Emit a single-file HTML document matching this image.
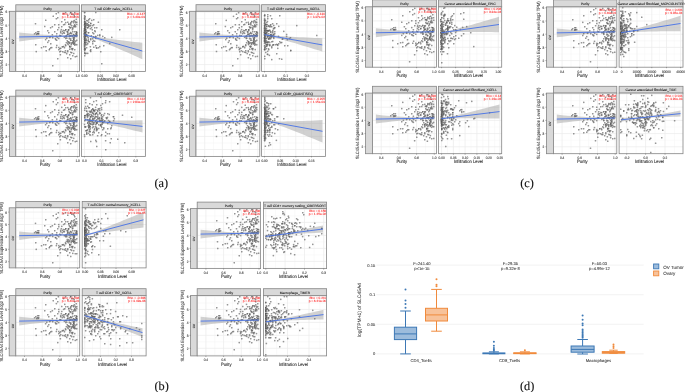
<!DOCTYPE html>
<html><head><meta charset="utf-8"><style>
html,body{margin:0;padding:0;background:#fff;overflow:hidden}
svg{display:block;filter:blur(0.3px)}
text{font-family:"Liberation Sans", sans-serif;text-rendering:geometricPrecision}
</style></head><body>
<svg width="685" height="392" viewBox="0 0 685 392">
<defs><marker id="m" markerWidth="4" markerHeight="4" refX="2" refY="2" markerUnits="userSpaceOnUse" overflow="visible"><rect x="1.5" y="1.5" width="1.0" height="1.0" fill="#fff" fill-opacity="0.5" stroke="#4a4a4a" stroke-opacity="0.75" stroke-width="0.4"/></marker></defs>
<rect width="685" height="392" fill="#fff"/>
<rect x="9.4" y="11.3" width="6.4" height="60.1" fill="#d9d9d9" stroke="#858585" stroke-width="0.8"/>
<text x="13.7" y="41.75" font-size="3.1" text-anchor="middle" fill="#333" transform="rotate(-90 13.7 41.75)" stroke="#333" stroke-width="0.12">OV</text>
<line x1="8.4" y1="64.7" x2="9.4" y2="64.7" stroke="#555" stroke-width="0.5"/>
<text x="7.3" y="66.2" font-size="3.6" text-anchor="end" fill="#333" stroke="#333" stroke-width="0.1" textLength="1.78" lengthAdjust="spacingAndGlyphs">2</text>
<line x1="8.4" y1="51.5" x2="9.4" y2="51.5" stroke="#555" stroke-width="0.5"/>
<text x="7.3" y="53" font-size="3.6" text-anchor="end" fill="#333" stroke="#333" stroke-width="0.1" textLength="1.78" lengthAdjust="spacingAndGlyphs">3</text>
<line x1="8.4" y1="38.3" x2="9.4" y2="38.3" stroke="#555" stroke-width="0.5"/>
<text x="7.3" y="39.8" font-size="3.6" text-anchor="end" fill="#333" stroke="#333" stroke-width="0.1" textLength="1.78" lengthAdjust="spacingAndGlyphs">4</text>
<line x1="8.4" y1="25.1" x2="9.4" y2="25.1" stroke="#555" stroke-width="0.5"/>
<text x="7.3" y="26.6" font-size="3.6" text-anchor="end" fill="#333" stroke="#333" stroke-width="0.1" textLength="1.78" lengthAdjust="spacingAndGlyphs">5</text>
<line x1="8.4" y1="11.9" x2="9.4" y2="11.9" stroke="#555" stroke-width="0.5"/>
<text x="7.3" y="13.4" font-size="3.6" text-anchor="end" fill="#333" stroke="#333" stroke-width="0.1" textLength="1.78" lengthAdjust="spacingAndGlyphs">6</text>
<text x="2.6" y="41.35" font-size="4.6" text-anchor="middle" fill="#333" transform="rotate(-90 2.6 41.35)" stroke="#333" stroke-width="0.06" textLength="71.60" lengthAdjust="spacingAndGlyphs">SLC45A4 Expression Level (log2 TPM)</text>
<rect x="15.8" y="4.8" width="63.8" height="6.5" fill="#d9d9d9" stroke="#858585" stroke-width="0.8"/>
<text x="47.7" y="9.65" font-size="3.3" text-anchor="middle" fill="#222" stroke="#222" stroke-width="0.08">Purity</text>
<rect x="15.8" y="11.3" width="63.8" height="60.1" fill="#fff"/>
<line x1="33.35" y1="11.3" x2="33.35" y2="71.4" stroke="#f4f4f4" stroke-width="0.5"/>
<line x1="51.05" y1="11.3" x2="51.05" y2="71.4" stroke="#f4f4f4" stroke-width="0.5"/>
<line x1="68.75" y1="11.3" x2="68.75" y2="71.4" stroke="#f4f4f4" stroke-width="0.5"/>
<line x1="15.8" y1="71.3" x2="79.6" y2="71.3" stroke="#f4f4f4" stroke-width="0.5"/>
<line x1="15.8" y1="58.1" x2="79.6" y2="58.1" stroke="#f4f4f4" stroke-width="0.5"/>
<line x1="15.8" y1="44.9" x2="79.6" y2="44.9" stroke="#f4f4f4" stroke-width="0.5"/>
<line x1="15.8" y1="31.7" x2="79.6" y2="31.7" stroke="#f4f4f4" stroke-width="0.5"/>
<line x1="15.8" y1="18.5" x2="79.6" y2="18.5" stroke="#f4f4f4" stroke-width="0.5"/>
<line x1="24.5" y1="11.3" x2="24.5" y2="71.4" stroke="#ebebeb" stroke-width="0.7"/>
<line x1="42.2" y1="11.3" x2="42.2" y2="71.4" stroke="#ebebeb" stroke-width="0.7"/>
<line x1="59.9" y1="11.3" x2="59.9" y2="71.4" stroke="#ebebeb" stroke-width="0.7"/>
<line x1="77.6" y1="11.3" x2="77.6" y2="71.4" stroke="#ebebeb" stroke-width="0.7"/>
<line x1="15.8" y1="64.7" x2="79.6" y2="64.7" stroke="#ebebeb" stroke-width="0.7"/>
<line x1="15.8" y1="51.5" x2="79.6" y2="51.5" stroke="#ebebeb" stroke-width="0.7"/>
<line x1="15.8" y1="38.3" x2="79.6" y2="38.3" stroke="#ebebeb" stroke-width="0.7"/>
<line x1="15.8" y1="25.1" x2="79.6" y2="25.1" stroke="#ebebeb" stroke-width="0.7"/>
<line x1="15.8" y1="11.9" x2="79.6" y2="11.9" stroke="#ebebeb" stroke-width="0.7"/>
<polygon points="19.19,32.49 24.5,33.03 29.81,33.53 35.12,33.98 40.43,34.38 45.74,34.74 51.05,35.03 56.36,35.25 61.67,35.37 66.98,35.28 72.29,34.96 77.6,34.55 77.6,37.32 72.29,37.1 66.98,36.97 61.67,37.06 56.36,37.38 51.05,37.79 45.74,38.27 40.43,38.82 35.12,39.41 29.81,40.05 24.5,40.74 19.19,41.47" fill="#999999" fill-opacity="0.45"/>
<path d="M71.5 49.0L76.8 22.3L76.3 19.4L69.4 39.0L70.2 46.4L69.3 36.8L73.7 44.3L71.2 40.3L74.4 20.5L64.0 32.8L77.2 35.4L71.0 33.3L74.1 37.6L70.9 28.1L69.9 27.7L73.2 40.9L74.7 35.9L70.6 12.6L70.8 32.5L74.1 38.9L67.9 15.3L65.4 36.9L73.0 48.6L68.7 29.9L63.8 46.5L68.2 42.2L69.5 33.5L66.7 38.3L65.5 45.0L71.6 42.8L75.0 43.2L70.5 24.7L68.4 44.6L72.9 43.0L74.3 15.5L70.2 42.8L73.6 21.3L75.6 23.1L70.6 38.6L68.2 52.0L72.8 32.2L72.4 29.9L75.8 26.8L66.3 36.2L68.8 24.3L68.1 22.3L64.5 48.1L71.9 21.9L73.5 35.1L68.5 43.0L76.9 40.3L74.7 17.2L73.9 26.6L73.0 55.9L75.2 36.1L66.1 38.5L73.8 38.8L73.8 42.4L64.4 52.4L72.8 27.9L70.4 46.9L74.5 40.9L69.7 43.3L71.3 44.7L72.8 29.1L67.9 32.9L73.8 44.1L71.0 47.0L73.4 41.9L69.3 26.8L75.7 35.7L73.8 34.5L70.7 40.4L73.9 39.7L76.4 34.7L77.2 56.4L65.1 20.0L74.9 45.3L73.3 43.0L71.0 22.8L67.4 34.6L76.4 36.5L66.4 43.1L73.7 53.5L76.6 35.0L65.0 24.4L70.2 46.5L66.2 22.6L72.4 48.9L77.1 44.7L62.6 31.6L66.6 37.0L66.0 29.7L36.1 44.8L41.5 47.9L75.3 56.7L75.1 49.7L60.7 48.3L60.0 52.0L75.7 33.7L50.8 44.0L68.2 58.0L71.1 12.6L65.9 45.8L49.3 50.2L35.5 23.9L74.9 24.7L59.7 49.1L65.6 52.5L56.4 47.5L63.6 25.1L56.7 40.3L56.9 45.5L64.4 37.3L68.9 24.3L62.9 51.7L67.3 41.0L36.3 51.6L63.5 14.0L57.8 17.8L74.7 26.9L73.4 38.4L58.0 30.0L70.7 59.2L37.3 34.1L65.5 51.1L68.1 51.0L76.0 44.4L49.1 40.7L47.7 30.9L61.4 29.6L77.2 34.2L62.5 47.0L66.1 29.8L46.7 38.3L77.1 24.5L62.5 46.7L52.9 66.2L73.6 42.0L71.7 14.3L67.4 32.0L55.4 39.0L59.1 27.6L75.0 31.7L76.4 32.1L48.2 42.4L71.2 36.2L52.4 34.9L68.2 43.8L50.1 48.8L60.0 35.5L52.4 26.8L68.4 30.1L55.1 31.8L67.3 31.7L58.4 12.6L38.0 34.2L75.3 26.0L53.3 16.3L56.3 36.4L38.4 34.2L72.2 26.0L56.4 19.2L39.2 33.7L60.8 33.1L61.1 36.0L59.1 49.7L59.1 25.2L45.6 39.6L69.8 55.1L59.2 38.5L60.4 55.2L52.1 47.6L72.4 36.8L46.0 46.7L74.3 25.6L71.2 52.4L71.6 34.1L68.4 31.0L71.6 21.5L61.8 27.2L68.5 34.4L72.5 36.0L57.4 37.5L55.2 24.9L74.3 43.8L60.9 31.4L53.1 37.9L68.1 34.3L55.8 39.6L73.3 14.3L71.7 43.8L56.7 34.2L62.3 34.0L63.4 30.4L37.6 32.1L76.6 32.4L45.2 26.5L72.1 52.7L50.4 36.8L72.4 49.9L37.2 34.4L70.0 49.3L43.9 47.0L49.9 37.5L61.8 22.1L64.7 30.7L34.6 33.7L75.4 22.0L70.2 46.8L57.9 58.9L75.9 41.3L74.1 39.8L70.6 23.8L56.3 14.2L46.3 50.9L75.2 12.6L46.1 20.3L50.6 28.0L35.7 32.9L65.6 12.6L71.0 36.0L69.0 41.8L70.0 35.4L61.2 51.3L38.7 31.8L74.4 38.0L64.4 33.3L77.2 33.0L51.2 48.0L73.6 22.9L59.0 47.5L70.7 27.5L67.1 53.7L49.2 32.9" fill="none" stroke="none" marker-start="url(#m)" marker-mid="url(#m)" marker-end="url(#m)"/>
<line x1="19.19" y1="36.98" x2="77.6" y2="35.92" stroke="#4570e6" stroke-width="0.9"/>
<text x="79.1" y="14.9" font-size="3.1" text-anchor="end" fill="#ff2020" stroke="#ff2020" stroke-width="0.06">Rho = 0.038</text>
<text x="79.1" y="17.9" font-size="3.1" text-anchor="end" fill="#ff2020" stroke="#ff2020" stroke-width="0.06">p = 4.40e-01</text>
<rect x="15.8" y="11.3" width="63.8" height="60.1" fill="none" stroke="#858585" stroke-width="0.8"/>
<line x1="24.5" y1="71.4" x2="24.5" y2="72.4" stroke="#555" stroke-width="0.5"/>
<text x="24.5" y="76.7" font-size="3.6" text-anchor="middle" fill="#333" stroke="#333" stroke-width="0.1" textLength="4.38" lengthAdjust="spacingAndGlyphs">0.4</text>
<line x1="42.2" y1="71.4" x2="42.2" y2="72.4" stroke="#555" stroke-width="0.5"/>
<text x="42.2" y="76.7" font-size="3.6" text-anchor="middle" fill="#333" stroke="#333" stroke-width="0.1" textLength="4.38" lengthAdjust="spacingAndGlyphs">0.6</text>
<line x1="59.9" y1="71.4" x2="59.9" y2="72.4" stroke="#555" stroke-width="0.5"/>
<text x="59.9" y="76.7" font-size="3.6" text-anchor="middle" fill="#333" stroke="#333" stroke-width="0.1" textLength="4.38" lengthAdjust="spacingAndGlyphs">0.8</text>
<line x1="77.6" y1="71.4" x2="77.6" y2="72.4" stroke="#555" stroke-width="0.5"/>
<text x="77.6" y="76.7" font-size="3.6" text-anchor="middle" fill="#333" stroke="#333" stroke-width="0.1" textLength="4.38" lengthAdjust="spacingAndGlyphs">1.0</text>
<text x="45" y="81.1" font-size="4.6" text-anchor="middle" fill="#222" stroke="#222" stroke-width="0.08" textLength="10.61" lengthAdjust="spacingAndGlyphs">Purity</text>
<rect x="81.5" y="4.8" width="63.9" height="6.5" fill="#d9d9d9" stroke="#858585" stroke-width="0.8"/>
<svg x="82" y="4.8" width="62.9" height="6.5" overflow="hidden">
<text x="31.45" y="4.85" font-size="3.3" text-anchor="middle" fill="#222" stroke="#222" stroke-width="0.08">T cell CD8+ naive_XCELL</text>
</svg>
<rect x="81.5" y="11.3" width="63.9" height="60.1" fill="#fff"/>
<line x1="92.35" y1="11.3" x2="92.35" y2="71.4" stroke="#f4f4f4" stroke-width="0.5"/>
<line x1="108.05" y1="11.3" x2="108.05" y2="71.4" stroke="#f4f4f4" stroke-width="0.5"/>
<line x1="123.85" y1="11.3" x2="123.85" y2="71.4" stroke="#f4f4f4" stroke-width="0.5"/>
<line x1="139.45" y1="11.3" x2="139.45" y2="71.4" stroke="#f4f4f4" stroke-width="0.5"/>
<line x1="81.5" y1="71.3" x2="145.4" y2="71.3" stroke="#f4f4f4" stroke-width="0.5"/>
<line x1="81.5" y1="58.1" x2="145.4" y2="58.1" stroke="#f4f4f4" stroke-width="0.5"/>
<line x1="81.5" y1="44.9" x2="145.4" y2="44.9" stroke="#f4f4f4" stroke-width="0.5"/>
<line x1="81.5" y1="31.7" x2="145.4" y2="31.7" stroke="#f4f4f4" stroke-width="0.5"/>
<line x1="81.5" y1="18.5" x2="145.4" y2="18.5" stroke="#f4f4f4" stroke-width="0.5"/>
<line x1="84.5" y1="11.3" x2="84.5" y2="71.4" stroke="#ebebeb" stroke-width="0.7"/>
<line x1="100.2" y1="11.3" x2="100.2" y2="71.4" stroke="#ebebeb" stroke-width="0.7"/>
<line x1="116" y1="11.3" x2="116" y2="71.4" stroke="#ebebeb" stroke-width="0.7"/>
<line x1="131.6" y1="11.3" x2="131.6" y2="71.4" stroke="#ebebeb" stroke-width="0.7"/>
<line x1="81.5" y1="64.7" x2="145.4" y2="64.7" stroke="#ebebeb" stroke-width="0.7"/>
<line x1="81.5" y1="51.5" x2="145.4" y2="51.5" stroke="#ebebeb" stroke-width="0.7"/>
<line x1="81.5" y1="38.3" x2="145.4" y2="38.3" stroke="#ebebeb" stroke-width="0.7"/>
<line x1="81.5" y1="25.1" x2="145.4" y2="25.1" stroke="#ebebeb" stroke-width="0.7"/>
<line x1="81.5" y1="11.9" x2="145.4" y2="11.9" stroke="#ebebeb" stroke-width="0.7"/>
<polygon points="84.5,33.2 88.35,34.85 92.21,36.01 96.06,36.69 99.91,37.3 103.77,37.88 107.62,38.44 111.47,38.97 115.33,39.49 119.18,39.99 123.03,40.49 126.89,40.97 130.74,41.44 134.59,41.9 138.45,42.35 142.3,42.8 142.3,59.2 138.45,57.47 134.59,55.75 130.74,54.04 126.89,52.34 123.03,50.65 119.18,48.97 115.33,47.3 111.47,45.64 107.62,44 103.77,42.38 99.91,40.79 96.06,39.23 92.21,37.73 88.35,36.72 84.5,36.2" fill="#999999" fill-opacity="0.45"/>
<path d="M84.5 12.5L84.6 29.7L84.6 47.4L84.9 35.3L84.7 23.6L85.0 25.9L84.5 45.5L85.2 36.4L84.7 35.2L84.8 34.3L84.7 35.1L84.7 42.4L84.6 40.0L85.0 36.9L84.5 24.8L84.8 39.7L85.2 28.4L84.7 45.2L85.5 22.9L85.1 33.6L85.4 34.9L84.6 22.1L85.1 51.2L84.6 48.6L84.6 30.3L84.6 42.1L85.8 38.7L84.8 12.5L84.5 37.1L84.6 34.1L85.3 35.7L84.7 24.5L85.0 32.3L84.9 33.1L85.0 46.1L84.9 38.0L84.5 34.7L84.9 49.4L84.8 29.5L84.6 31.0L84.6 17.4L84.5 49.6L85.1 44.0L84.5 43.4L85.2 41.2L85.3 36.0L84.9 36.9L84.6 32.3L84.8 32.9L85.5 35.5L84.9 49.2L85.1 40.2L84.5 34.2L84.8 29.3L84.6 28.7L84.8 50.0L84.5 39.5L84.8 35.4L85.2 31.6L84.8 24.3L84.6 34.1L84.7 43.1L84.6 31.0L85.1 32.7L84.8 32.7L84.6 35.8L84.9 19.7L85.1 32.6L85.2 26.8L84.9 43.2L84.8 27.5L85.5 40.5L84.7 49.3L84.5 31.7L85.1 29.2L84.8 36.6L84.7 34.7L84.7 25.3L84.6 39.1L85.3 54.1L84.7 32.3L84.7 32.8L84.7 24.8L84.6 37.7L84.6 22.9L85.1 24.3L84.5 46.9L84.7 26.2L85.1 45.1L84.8 49.3L84.5 37.2L84.8 40.1L84.7 53.3L85.0 33.0L84.5 29.1L84.8 21.9L85.1 35.3L84.7 48.8L85.3 44.1L85.5 26.0L84.7 26.6L84.9 30.0L84.6 37.5L85.6 33.1L84.9 36.9L84.8 37.6L84.6 31.9L84.7 34.4L84.6 36.7L84.6 33.9L84.9 39.6L84.8 52.6L85.0 40.5L84.5 35.2L84.5 18.7L85.0 38.5L84.6 16.2L84.9 21.4L85.0 43.0L84.6 41.4L84.5 33.3L84.8 18.5L84.6 31.2L85.5 28.5L85.1 40.9L84.7 56.2L85.6 37.1L84.9 27.4L85.4 23.8L84.9 34.3L84.9 33.1L84.9 23.9L84.6 35.8L85.3 24.0L85.1 45.4L85.2 45.0L84.5 45.0L93.2 32.7L93.0 42.0L96.1 36.7L86.2 31.5L88.7 32.7L94.1 25.1L89.2 22.3L100.0 46.6L85.3 33.1L88.3 37.8L86.9 44.9L92.0 20.4L87.9 28.2L109.8 43.5L90.8 40.2L103.2 36.4L96.4 47.8L92.6 39.0L93.0 25.6L88.7 27.0L86.8 43.0L86.3 39.6L85.3 16.9L100.7 52.1L88.9 41.6L86.6 48.1L93.8 33.7L88.3 33.0L90.9 25.8L101.7 63.7L86.1 33.5L90.7 51.5L85.2 28.7L87.4 37.1L88.9 20.1L86.4 31.6L84.6 44.1L86.9 23.5L96.7 48.3L93.5 40.5L88.4 25.9L86.0 30.3L99.9 34.7L94.0 36.9L112.0 37.4L87.8 27.8L99.7 36.1L84.9 25.0L84.8 22.5L84.7 34.3L84.9 43.2L87.6 21.0L84.9 34.9L95.3 31.6L84.7 25.5L88.0 43.8L86.0 30.2L90.4 50.6L84.7 27.3L88.4 39.5L104.7 38.2L92.3 29.7L87.1 41.0L95.7 36.4L89.4 41.8L85.7 34.6L96.7 27.8L85.0 33.9L95.8 38.4L98.5 47.8L91.5 28.0L87.0 35.0L98.4 22.3L85.3 41.1L87.6 25.3L94.1 20.2L91.4 36.1L90.4 46.9L120.0 30.2L89.9 25.9L86.2 28.1L89.0 25.2L95.0 41.3L85.6 27.3L95.0 30.8L104.2 45.8L90.4 29.2L85.1 39.0L86.5 26.0L87.5 24.0L89.6 18.7L88.1 53.4L97.8 35.4L91.2 38.9L86.3 34.9L84.7 36.3L86.4 35.7L86.4 53.4L94.9 27.8L87.2 20.6L101.7 29.9L91.0 23.9L92.7 44.1L95.8 45.7L84.6 25.6L91.1 23.3L85.5 31.6L90.8 49.7L95.8 12.5L88.3 40.8L86.8 25.1L94.2 47.3L88.5 25.6" fill="none" stroke="none" marker-start="url(#m)" marker-mid="url(#m)" marker-end="url(#m)"/>
<line x1="84.5" y1="34.7" x2="142.3" y2="51" stroke="#4570e6" stroke-width="0.9"/>
<text x="144.9" y="14.9" font-size="3.1" text-anchor="end" fill="#ff2020" stroke="#ff2020" stroke-width="0.06">Rho = -0.147</text>
<text x="144.9" y="17.9" font-size="3.1" text-anchor="end" fill="#ff2020" stroke="#ff2020" stroke-width="0.06">p = 6.40e-03</text>
<rect x="81.5" y="11.3" width="63.9" height="60.1" fill="none" stroke="#858585" stroke-width="0.8"/>
<line x1="84.5" y1="71.4" x2="84.5" y2="72.4" stroke="#555" stroke-width="0.5"/>
<text x="84.5" y="76.7" font-size="3.6" text-anchor="middle" fill="#333" stroke="#333" stroke-width="0.1" textLength="6.13" lengthAdjust="spacingAndGlyphs">0.00</text>
<line x1="100.2" y1="71.4" x2="100.2" y2="72.4" stroke="#555" stroke-width="0.5"/>
<text x="100.2" y="76.7" font-size="3.6" text-anchor="middle" fill="#333" stroke="#333" stroke-width="0.1" textLength="6.13" lengthAdjust="spacingAndGlyphs">0.01</text>
<line x1="116" y1="71.4" x2="116" y2="72.4" stroke="#555" stroke-width="0.5"/>
<text x="116" y="76.7" font-size="3.6" text-anchor="middle" fill="#333" stroke="#333" stroke-width="0.1" textLength="6.13" lengthAdjust="spacingAndGlyphs">0.02</text>
<line x1="131.6" y1="71.4" x2="131.6" y2="72.4" stroke="#555" stroke-width="0.5"/>
<text x="131.6" y="76.7" font-size="3.6" text-anchor="middle" fill="#333" stroke="#333" stroke-width="0.1" textLength="6.13" lengthAdjust="spacingAndGlyphs">0.03</text>
<text x="111.85" y="81" font-size="4.6" text-anchor="middle" fill="#222" stroke="#222" stroke-width="0.08" textLength="29.07" lengthAdjust="spacingAndGlyphs">Infiltration Level</text>
<rect x="189.6" y="11.3" width="6.4" height="60.1" fill="#d9d9d9" stroke="#858585" stroke-width="0.8"/>
<text x="193.9" y="41.75" font-size="3.1" text-anchor="middle" fill="#333" transform="rotate(-90 193.9 41.75)" stroke="#333" stroke-width="0.12">OV</text>
<line x1="188.6" y1="64.6" x2="189.6" y2="64.6" stroke="#555" stroke-width="0.5"/>
<text x="187.5" y="66.1" font-size="3.6" text-anchor="end" fill="#333" stroke="#333" stroke-width="0.1" textLength="1.78" lengthAdjust="spacingAndGlyphs">2</text>
<line x1="188.6" y1="51.45" x2="189.6" y2="51.45" stroke="#555" stroke-width="0.5"/>
<text x="187.5" y="52.95" font-size="3.6" text-anchor="end" fill="#333" stroke="#333" stroke-width="0.1" textLength="1.78" lengthAdjust="spacingAndGlyphs">3</text>
<line x1="188.6" y1="38.3" x2="189.6" y2="38.3" stroke="#555" stroke-width="0.5"/>
<text x="187.5" y="39.8" font-size="3.6" text-anchor="end" fill="#333" stroke="#333" stroke-width="0.1" textLength="1.78" lengthAdjust="spacingAndGlyphs">4</text>
<line x1="188.6" y1="25.15" x2="189.6" y2="25.15" stroke="#555" stroke-width="0.5"/>
<text x="187.5" y="26.65" font-size="3.6" text-anchor="end" fill="#333" stroke="#333" stroke-width="0.1" textLength="1.78" lengthAdjust="spacingAndGlyphs">5</text>
<line x1="188.6" y1="12" x2="189.6" y2="12" stroke="#555" stroke-width="0.5"/>
<text x="187.5" y="13.5" font-size="3.6" text-anchor="end" fill="#333" stroke="#333" stroke-width="0.1" textLength="1.78" lengthAdjust="spacingAndGlyphs">6</text>
<text x="182.8" y="41.35" font-size="4.6" text-anchor="middle" fill="#333" transform="rotate(-90 182.8 41.35)" stroke="#333" stroke-width="0.06" textLength="71.60" lengthAdjust="spacingAndGlyphs">SLC45A4 Expression Level (log2 TPM)</text>
<rect x="196" y="4.7" width="63.8" height="6.6" fill="#d9d9d9" stroke="#858585" stroke-width="0.8"/>
<text x="227.9" y="9.6" font-size="3.3" text-anchor="middle" fill="#222" stroke="#222" stroke-width="0.08">Purity</text>
<rect x="196" y="11.3" width="63.8" height="60.1" fill="#fff"/>
<line x1="213.55" y1="11.3" x2="213.55" y2="71.4" stroke="#f4f4f4" stroke-width="0.5"/>
<line x1="231.25" y1="11.3" x2="231.25" y2="71.4" stroke="#f4f4f4" stroke-width="0.5"/>
<line x1="248.95" y1="11.3" x2="248.95" y2="71.4" stroke="#f4f4f4" stroke-width="0.5"/>
<line x1="196" y1="71.18" x2="259.8" y2="71.18" stroke="#f4f4f4" stroke-width="0.5"/>
<line x1="196" y1="58.02" x2="259.8" y2="58.02" stroke="#f4f4f4" stroke-width="0.5"/>
<line x1="196" y1="44.88" x2="259.8" y2="44.88" stroke="#f4f4f4" stroke-width="0.5"/>
<line x1="196" y1="31.73" x2="259.8" y2="31.73" stroke="#f4f4f4" stroke-width="0.5"/>
<line x1="196" y1="18.57" x2="259.8" y2="18.57" stroke="#f4f4f4" stroke-width="0.5"/>
<line x1="204.7" y1="11.3" x2="204.7" y2="71.4" stroke="#ebebeb" stroke-width="0.7"/>
<line x1="222.4" y1="11.3" x2="222.4" y2="71.4" stroke="#ebebeb" stroke-width="0.7"/>
<line x1="240.1" y1="11.3" x2="240.1" y2="71.4" stroke="#ebebeb" stroke-width="0.7"/>
<line x1="257.8" y1="11.3" x2="257.8" y2="71.4" stroke="#ebebeb" stroke-width="0.7"/>
<line x1="196" y1="64.6" x2="259.8" y2="64.6" stroke="#ebebeb" stroke-width="0.7"/>
<line x1="196" y1="51.45" x2="259.8" y2="51.45" stroke="#ebebeb" stroke-width="0.7"/>
<line x1="196" y1="38.3" x2="259.8" y2="38.3" stroke="#ebebeb" stroke-width="0.7"/>
<line x1="196" y1="25.15" x2="259.8" y2="25.15" stroke="#ebebeb" stroke-width="0.7"/>
<line x1="196" y1="12" x2="259.8" y2="12" stroke="#ebebeb" stroke-width="0.7"/>
<polygon points="199.39,32.51 204.7,33.05 210.01,33.54 215.32,34 220.63,34.4 225.94,34.75 231.25,35.04 236.56,35.26 241.87,35.39 247.18,35.29 252.49,34.98 257.8,34.57 257.8,37.32 252.49,37.1 247.18,36.97 241.87,37.07 236.56,37.38 231.25,37.79 225.94,38.27 220.63,38.81 215.32,39.41 210.01,40.05 204.7,40.73 199.39,41.46" fill="#999999" fill-opacity="0.45"/>
<path d="M251.7 49.0L257.0 22.4L256.5 19.5L249.6 39.0L250.4 46.4L249.5 36.8L253.9 44.2L251.4 40.3L254.6 20.6L244.2 32.9L257.4 35.5L251.2 33.3L254.3 37.6L251.1 28.1L250.1 27.7L253.4 40.9L254.9 35.9L250.8 12.7L251.0 32.5L254.3 38.9L248.1 15.4L245.6 36.9L253.2 48.5L248.9 29.9L244.0 46.5L248.4 42.2L249.7 33.6L246.9 38.3L245.7 45.0L251.8 42.8L255.2 43.2L250.7 24.7L248.6 44.6L253.1 43.0L254.5 15.5L250.4 42.8L253.8 21.3L255.8 23.1L250.8 38.6L248.4 51.9L253.0 32.2L252.6 29.9L256.0 26.8L246.5 36.2L249.0 24.3L248.3 22.4L244.7 48.1L252.1 21.9L253.7 35.1L248.7 42.9L257.1 40.3L254.9 17.2L254.1 26.6L253.2 55.8L255.4 36.1L246.3 38.5L254.0 38.8L254.0 42.4L244.6 52.3L253.0 27.9L250.6 46.9L254.7 40.9L249.9 43.3L251.5 44.6L253.0 29.2L248.1 32.9L254.0 44.1L251.2 46.9L253.6 41.9L249.5 26.8L255.9 35.7L254.0 34.5L250.9 40.4L254.1 39.7L256.6 34.7L257.4 56.4L245.3 20.0L255.1 45.3L253.5 43.0L251.2 22.9L247.6 34.6L256.6 36.5L246.6 43.1L253.9 53.4L256.8 35.0L245.2 24.4L250.4 46.4L246.4 22.6L252.6 48.8L257.3 44.7L242.8 31.7L246.8 37.0L246.2 29.7L216.3 44.8L221.7 47.8L255.5 56.6L255.3 49.6L240.9 48.3L240.2 52.0L255.9 33.7L231.0 44.0L248.4 57.9L251.3 12.7L246.1 45.8L229.5 50.2L215.7 23.9L255.1 24.7L239.9 49.1L245.8 52.5L236.6 47.5L243.8 25.1L236.9 40.3L237.1 45.5L244.6 37.3L249.1 24.3L243.1 51.6L247.5 41.0L216.5 51.5L243.7 14.1L238.0 17.9L254.9 27.0L253.6 38.4L238.2 30.1L250.9 59.1L217.5 34.1L245.7 51.0L248.3 50.9L256.2 44.4L229.3 40.7L227.9 30.9L241.6 29.6L257.4 34.2L242.7 46.9L246.3 29.9L226.9 38.3L257.3 24.6L242.7 46.6L233.1 66.1L253.8 42.0L251.9 14.4L247.6 32.1L235.6 39.0L239.3 27.7L255.2 31.7L256.6 32.1L228.4 42.4L251.4 36.2L232.6 34.9L248.4 43.7L230.3 48.8L240.2 35.5L232.6 26.8L248.6 30.2L235.3 31.8L247.5 31.7L238.6 12.7L218.2 34.3L255.5 26.0L233.5 16.4L236.5 36.4L218.6 34.2L252.4 26.0L236.6 19.2L219.4 33.7L241.0 33.2L241.3 36.0L239.3 49.7L239.3 25.2L225.8 39.6L250.0 55.1L239.4 38.5L240.6 55.2L232.3 47.6L252.6 36.8L226.2 46.6L254.5 25.7L251.4 52.4L251.8 34.2L248.6 31.0L251.8 21.5L242.0 27.2L248.7 34.4L252.7 36.1L237.6 37.5L235.4 24.9L254.5 43.8L241.1 31.4L233.3 37.9L248.3 34.4L236.0 39.6L253.5 14.4L251.9 43.8L236.9 34.2L242.5 34.0L243.6 30.5L217.8 32.1L256.8 32.4L225.4 26.5L252.3 52.7L230.6 36.8L252.6 49.8L217.4 34.4L250.2 49.3L224.1 47.0L230.1 37.5L242.0 22.2L244.9 30.8L214.8 33.7L255.6 22.1L250.4 46.8L238.1 58.9L256.1 41.3L254.3 39.8L250.8 23.9L236.5 14.3L226.5 50.8L255.4 12.7L226.3 20.4L230.8 28.0L215.9 33.0L245.8 12.7L251.2 36.0L249.2 41.8L250.2 35.4L241.4 51.2L218.9 31.9L254.6 38.0L244.6 33.4L257.4 33.0L231.4 48.0L253.8 23.0L239.2 47.5L250.9 27.5L247.3 53.6L229.4 32.9" fill="none" stroke="none" marker-start="url(#m)" marker-mid="url(#m)" marker-end="url(#m)"/>
<line x1="199.39" y1="36.99" x2="257.8" y2="35.93" stroke="#4570e6" stroke-width="0.9"/>
<text x="259.3" y="14.9" font-size="3.1" text-anchor="end" fill="#ff2020" stroke="#ff2020" stroke-width="0.06">Rho = 0.038</text>
<text x="259.3" y="17.9" font-size="3.1" text-anchor="end" fill="#ff2020" stroke="#ff2020" stroke-width="0.06">p = 4.40e-01</text>
<rect x="196" y="11.3" width="63.8" height="60.1" fill="none" stroke="#858585" stroke-width="0.8"/>
<line x1="204.7" y1="71.4" x2="204.7" y2="72.4" stroke="#555" stroke-width="0.5"/>
<text x="204.7" y="76.7" font-size="3.6" text-anchor="middle" fill="#333" stroke="#333" stroke-width="0.1" textLength="4.38" lengthAdjust="spacingAndGlyphs">0.4</text>
<line x1="222.4" y1="71.4" x2="222.4" y2="72.4" stroke="#555" stroke-width="0.5"/>
<text x="222.4" y="76.7" font-size="3.6" text-anchor="middle" fill="#333" stroke="#333" stroke-width="0.1" textLength="4.38" lengthAdjust="spacingAndGlyphs">0.6</text>
<line x1="240.1" y1="71.4" x2="240.1" y2="72.4" stroke="#555" stroke-width="0.5"/>
<text x="240.1" y="76.7" font-size="3.6" text-anchor="middle" fill="#333" stroke="#333" stroke-width="0.1" textLength="4.38" lengthAdjust="spacingAndGlyphs">0.8</text>
<line x1="257.8" y1="71.4" x2="257.8" y2="72.4" stroke="#555" stroke-width="0.5"/>
<text x="257.8" y="76.7" font-size="3.6" text-anchor="middle" fill="#333" stroke="#333" stroke-width="0.1" textLength="4.38" lengthAdjust="spacingAndGlyphs">1.0</text>
<text x="225.2" y="81.1" font-size="4.6" text-anchor="middle" fill="#222" stroke="#222" stroke-width="0.08" textLength="10.61" lengthAdjust="spacingAndGlyphs">Purity</text>
<rect x="261.6" y="4.7" width="63.8" height="6.6" fill="#d9d9d9" stroke="#858585" stroke-width="0.8"/>
<svg x="262.1" y="4.7" width="62.8" height="6.6" overflow="hidden">
<text x="31.4" y="4.9" font-size="3.3" text-anchor="middle" fill="#222" stroke="#222" stroke-width="0.08">T cell CD8+ central memory_XCELL</text>
</svg>
<rect x="261.6" y="11.3" width="63.8" height="60.1" fill="#fff"/>
<line x1="275.15" y1="11.3" x2="275.15" y2="71.4" stroke="#f4f4f4" stroke-width="0.5"/>
<line x1="296.45" y1="11.3" x2="296.45" y2="71.4" stroke="#f4f4f4" stroke-width="0.5"/>
<line x1="317.65" y1="11.3" x2="317.65" y2="71.4" stroke="#f4f4f4" stroke-width="0.5"/>
<line x1="261.6" y1="71.18" x2="325.4" y2="71.18" stroke="#f4f4f4" stroke-width="0.5"/>
<line x1="261.6" y1="58.02" x2="325.4" y2="58.02" stroke="#f4f4f4" stroke-width="0.5"/>
<line x1="261.6" y1="44.88" x2="325.4" y2="44.88" stroke="#f4f4f4" stroke-width="0.5"/>
<line x1="261.6" y1="31.73" x2="325.4" y2="31.73" stroke="#f4f4f4" stroke-width="0.5"/>
<line x1="261.6" y1="18.57" x2="325.4" y2="18.57" stroke="#f4f4f4" stroke-width="0.5"/>
<line x1="264.5" y1="11.3" x2="264.5" y2="71.4" stroke="#ebebeb" stroke-width="0.7"/>
<line x1="285.8" y1="11.3" x2="285.8" y2="71.4" stroke="#ebebeb" stroke-width="0.7"/>
<line x1="307" y1="11.3" x2="307" y2="71.4" stroke="#ebebeb" stroke-width="0.7"/>
<line x1="261.6" y1="64.6" x2="325.4" y2="64.6" stroke="#ebebeb" stroke-width="0.7"/>
<line x1="261.6" y1="51.45" x2="325.4" y2="51.45" stroke="#ebebeb" stroke-width="0.7"/>
<line x1="261.6" y1="38.3" x2="325.4" y2="38.3" stroke="#ebebeb" stroke-width="0.7"/>
<line x1="261.6" y1="25.15" x2="325.4" y2="25.15" stroke="#ebebeb" stroke-width="0.7"/>
<line x1="261.6" y1="12" x2="325.4" y2="12" stroke="#ebebeb" stroke-width="0.7"/>
<polygon points="264.5,33.2 268.35,34.44 272.21,35.21 276.06,35.57 279.91,35.88 283.77,36.16 287.62,36.43 291.47,36.67 295.33,36.91 299.18,37.13 303.03,37.35 306.89,37.55 310.74,37.75 314.59,37.94 318.45,38.12 322.3,38.3 322.3,51.5 318.45,50.32 314.59,49.14 310.74,47.97 306.89,46.81 303.03,45.65 299.18,44.51 295.33,43.37 291.47,42.25 287.62,41.13 283.77,40.04 279.91,38.96 276.06,37.91 272.21,36.91 268.35,36.32 264.5,36.2" fill="#999999" fill-opacity="0.45"/>
<path d="M264.6 30.6L265.3 34.0L265.0 24.5L265.2 31.3L264.9 56.4L264.7 34.1L264.9 32.5L265.4 39.9L264.7 41.4L264.5 24.2L264.5 32.7L264.5 43.4L265.1 37.4L264.5 35.9L264.5 49.4L265.1 28.4L265.4 35.6L264.6 29.8L264.9 48.9L264.5 16.2L264.8 28.4L264.9 29.8L264.5 41.0L265.0 40.5L264.8 48.0L264.6 19.8L264.6 41.8L264.6 31.9L264.9 28.5L265.0 39.9L264.6 26.0L264.8 15.1L264.6 31.2L264.5 20.5L265.2 28.7L264.5 38.2L265.2 37.8L264.8 49.8L264.6 32.8L265.5 20.4L264.5 27.5L264.6 26.0L264.6 23.2L264.7 38.9L264.7 28.6L265.0 16.1L264.6 41.3L264.8 33.7L264.5 38.1L265.1 35.8L264.6 40.7L264.6 35.1L264.6 46.4L264.7 38.8L264.8 38.5L265.3 38.7L264.7 20.9L264.6 33.2L264.6 32.3L264.7 36.7L264.8 21.9L264.6 50.2L264.8 35.7L264.7 23.3L264.6 18.5L265.3 32.2L264.8 33.9L265.1 28.0L265.0 35.7L264.6 28.6L265.3 40.1L265.0 27.9L264.6 34.3L265.8 44.2L264.7 59.1L269.0 26.0L267.7 30.9L267.3 27.2L277.2 44.4L274.2 25.5L267.8 30.7L273.6 36.0L264.9 25.5L269.1 26.4L268.4 30.9L270.5 15.9L267.5 21.5L264.9 30.9L265.9 36.4L266.2 33.2L271.7 19.2L266.1 30.6L265.9 42.5L273.0 41.5L278.5 36.4L275.2 28.2L266.3 41.0L264.5 29.2L271.0 24.8L274.0 28.8L266.4 48.7L273.9 38.4L291.0 50.4L269.0 31.0L270.0 44.6L273.2 30.5L272.0 34.5L272.2 59.6L266.7 42.3L266.8 30.4L266.0 34.2L267.2 38.3L264.6 46.2L273.0 31.6L268.0 18.8L266.6 32.4L271.3 36.0L267.9 36.3L265.4 47.3L270.1 38.7L285.3 46.1L265.7 24.5L278.3 45.4L269.4 55.4L268.3 42.7L270.8 38.2L282.4 39.3L276.7 53.8L267.1 26.4L290.5 38.2L279.8 41.8L265.0 41.8L286.6 34.5L270.8 38.7L267.1 32.5L287.4 39.9L271.2 34.6L278.7 26.4L270.1 35.5L275.9 45.0L271.7 26.8L265.1 32.5L266.8 41.4L266.4 24.9L269.5 37.3L267.4 25.2L266.9 45.9L279.5 59.2L267.4 54.4L286.6 36.5L288.1 45.9L271.0 37.0L268.1 36.3L268.9 50.1L266.7 22.6L267.6 45.2L289.5 38.6L268.5 48.7L273.9 38.1L266.5 28.7L269.9 38.3L278.7 44.2L273.0 36.5L264.5 39.3L268.9 30.5L267.8 15.1L273.5 44.8L267.2 41.8L270.5 37.2L282.7 38.6L269.7 45.4L267.8 31.0L283.8 31.4L269.1 33.7L266.4 46.3L276.7 23.7L266.6 46.4L265.6 28.8L270.4 25.3L272.0 48.0L271.2 35.0L272.6 23.8L270.8 32.4L273.5 45.1L291.0 50.7L271.0 31.8L268.6 39.3L270.3 42.5L264.9 28.7L268.7 38.8L273.3 36.0L269.8 30.6L274.7 31.8L272.1 36.7L269.1 35.8L269.7 30.3L267.6 31.2L271.7 46.5L268.0 37.3L265.4 43.2L277.7 48.4L280.8 43.2L282.0 59.3L264.9 27.0L278.2 44.8L272.6 33.1L265.9 52.5L267.6 51.4L267.9 16.8L265.1 25.6L269.2 41.8L267.8 42.8L267.8 42.3L272.0 35.3L265.8 39.2L266.3 41.2L266.9 34.4L267.9 45.0L280.0 16.0L271.7 42.0L265.9 25.1L272.9 45.3L274.2 34.3L316.7 35.5L265.3 38.4L274.5 27.8L271.0 27.2L296.9 25.6L264.5 34.4L282.1 42.5L266.8 44.8L273.9 35.0L269.9 45.6L270.6 36.0L266.3 34.1L265.2 40.3L266.4 45.1L264.8 31.5L274.7 34.2L266.7 33.6L272.2 36.8L270.3 27.2L266.7 44.8L267.4 31.4L265.2 39.2L273.5 28.5L268.9 38.9L266.0 38.7L266.8 31.1L267.7 54.4" fill="none" stroke="none" marker-start="url(#m)" marker-mid="url(#m)" marker-end="url(#m)"/>
<line x1="264.5" y1="34.7" x2="322.3" y2="44.9" stroke="#4570e6" stroke-width="0.9"/>
<text x="324.9" y="14.9" font-size="3.1" text-anchor="end" fill="#ff2020" stroke="#ff2020" stroke-width="0.06">Rho = -0.130</text>
<text x="324.9" y="17.9" font-size="3.1" text-anchor="end" fill="#ff2020" stroke="#ff2020" stroke-width="0.06">p = 3.37e-02</text>
<rect x="261.6" y="11.3" width="63.8" height="60.1" fill="none" stroke="#858585" stroke-width="0.8"/>
<line x1="264.5" y1="71.4" x2="264.5" y2="72.4" stroke="#555" stroke-width="0.5"/>
<text x="264.5" y="76.7" font-size="3.6" text-anchor="middle" fill="#333" stroke="#333" stroke-width="0.1" textLength="4.38" lengthAdjust="spacingAndGlyphs">0.0</text>
<line x1="285.8" y1="71.4" x2="285.8" y2="72.4" stroke="#555" stroke-width="0.5"/>
<text x="285.8" y="76.7" font-size="3.6" text-anchor="middle" fill="#333" stroke="#333" stroke-width="0.1" textLength="4.38" lengthAdjust="spacingAndGlyphs">0.1</text>
<line x1="307" y1="71.4" x2="307" y2="72.4" stroke="#555" stroke-width="0.5"/>
<text x="307" y="76.7" font-size="3.6" text-anchor="middle" fill="#333" stroke="#333" stroke-width="0.1" textLength="4.38" lengthAdjust="spacingAndGlyphs">0.2</text>
<text x="291.9" y="81" font-size="4.6" text-anchor="middle" fill="#222" stroke="#222" stroke-width="0.08" textLength="29.07" lengthAdjust="spacingAndGlyphs">Infiltration Level</text>
<rect x="9.4" y="96.2" width="6.4" height="60.2" fill="#d9d9d9" stroke="#858585" stroke-width="0.8"/>
<text x="13.7" y="126.7" font-size="3.1" text-anchor="middle" fill="#333" transform="rotate(-90 13.7 126.7)" stroke="#333" stroke-width="0.12">OV</text>
<line x1="8.4" y1="149.5" x2="9.4" y2="149.5" stroke="#555" stroke-width="0.5"/>
<text x="7.3" y="151" font-size="3.6" text-anchor="end" fill="#333" stroke="#333" stroke-width="0.1" textLength="1.78" lengthAdjust="spacingAndGlyphs">2</text>
<line x1="8.4" y1="136.45" x2="9.4" y2="136.45" stroke="#555" stroke-width="0.5"/>
<text x="7.3" y="137.95" font-size="3.6" text-anchor="end" fill="#333" stroke="#333" stroke-width="0.1" textLength="1.78" lengthAdjust="spacingAndGlyphs">3</text>
<line x1="8.4" y1="123.4" x2="9.4" y2="123.4" stroke="#555" stroke-width="0.5"/>
<text x="7.3" y="124.9" font-size="3.6" text-anchor="end" fill="#333" stroke="#333" stroke-width="0.1" textLength="1.78" lengthAdjust="spacingAndGlyphs">4</text>
<line x1="8.4" y1="110.35" x2="9.4" y2="110.35" stroke="#555" stroke-width="0.5"/>
<text x="7.3" y="111.85" font-size="3.6" text-anchor="end" fill="#333" stroke="#333" stroke-width="0.1" textLength="1.78" lengthAdjust="spacingAndGlyphs">5</text>
<line x1="8.4" y1="97.3" x2="9.4" y2="97.3" stroke="#555" stroke-width="0.5"/>
<text x="7.3" y="98.8" font-size="3.6" text-anchor="end" fill="#333" stroke="#333" stroke-width="0.1" textLength="1.78" lengthAdjust="spacingAndGlyphs">6</text>
<text x="2.6" y="126.3" font-size="4.6" text-anchor="middle" fill="#333" transform="rotate(-90 2.6 126.3)" stroke="#333" stroke-width="0.06" textLength="71.60" lengthAdjust="spacingAndGlyphs">SLC45A4 Expression Level (log2 TPM)</text>
<rect x="15.8" y="90.1" width="63.8" height="6.1" fill="#d9d9d9" stroke="#858585" stroke-width="0.8"/>
<text x="47.7" y="94.75" font-size="3.3" text-anchor="middle" fill="#222" stroke="#222" stroke-width="0.08">Purity</text>
<rect x="15.8" y="96.2" width="63.8" height="60.2" fill="#fff"/>
<line x1="33.35" y1="96.2" x2="33.35" y2="156.4" stroke="#f4f4f4" stroke-width="0.5"/>
<line x1="51.05" y1="96.2" x2="51.05" y2="156.4" stroke="#f4f4f4" stroke-width="0.5"/>
<line x1="68.75" y1="96.2" x2="68.75" y2="156.4" stroke="#f4f4f4" stroke-width="0.5"/>
<line x1="15.8" y1="156.03" x2="79.6" y2="156.03" stroke="#f4f4f4" stroke-width="0.5"/>
<line x1="15.8" y1="142.97" x2="79.6" y2="142.97" stroke="#f4f4f4" stroke-width="0.5"/>
<line x1="15.8" y1="129.93" x2="79.6" y2="129.93" stroke="#f4f4f4" stroke-width="0.5"/>
<line x1="15.8" y1="116.88" x2="79.6" y2="116.88" stroke="#f4f4f4" stroke-width="0.5"/>
<line x1="15.8" y1="103.83" x2="79.6" y2="103.83" stroke="#f4f4f4" stroke-width="0.5"/>
<line x1="24.5" y1="96.2" x2="24.5" y2="156.4" stroke="#ebebeb" stroke-width="0.7"/>
<line x1="42.2" y1="96.2" x2="42.2" y2="156.4" stroke="#ebebeb" stroke-width="0.7"/>
<line x1="59.9" y1="96.2" x2="59.9" y2="156.4" stroke="#ebebeb" stroke-width="0.7"/>
<line x1="77.6" y1="96.2" x2="77.6" y2="156.4" stroke="#ebebeb" stroke-width="0.7"/>
<line x1="15.8" y1="149.5" x2="79.6" y2="149.5" stroke="#ebebeb" stroke-width="0.7"/>
<line x1="15.8" y1="136.45" x2="79.6" y2="136.45" stroke="#ebebeb" stroke-width="0.7"/>
<line x1="15.8" y1="123.4" x2="79.6" y2="123.4" stroke="#ebebeb" stroke-width="0.7"/>
<line x1="15.8" y1="110.35" x2="79.6" y2="110.35" stroke="#ebebeb" stroke-width="0.7"/>
<line x1="15.8" y1="97.3" x2="79.6" y2="97.3" stroke="#ebebeb" stroke-width="0.7"/>
<polygon points="19.19,117.66 24.5,118.19 29.81,118.68 35.12,119.13 40.43,119.53 45.74,119.88 51.05,120.17 56.36,120.38 61.67,120.51 66.98,120.41 72.29,120.1 77.6,119.7 77.6,122.43 72.29,122.21 66.98,122.08 61.67,122.18 56.36,122.49 51.05,122.9 45.74,123.37 40.43,123.91 35.12,124.5 29.81,125.13 24.5,125.81 19.19,126.53" fill="#999999" fill-opacity="0.45"/>
<path d="M71.5 134.0L76.8 107.6L76.3 104.7L69.4 124.1L70.2 131.4L69.3 121.9L73.7 129.3L71.2 125.4L74.4 105.8L64.0 118.0L77.2 120.6L71.0 118.5L74.1 122.7L70.9 113.3L69.9 112.9L73.2 126.0L74.7 121.0L70.6 98.0L70.8 117.7L74.1 124.0L67.9 100.7L65.4 122.0L73.0 133.6L68.7 115.1L63.8 131.5L68.2 127.3L69.5 118.7L66.7 123.4L65.5 130.1L71.6 127.8L75.0 128.3L70.5 109.9L68.4 129.6L72.9 128.1L74.3 100.8L70.2 127.9L73.6 106.5L75.6 108.4L70.6 123.7L68.2 136.9L72.8 117.4L72.4 115.1L75.8 112.0L66.3 121.3L68.8 109.5L68.1 107.6L64.5 133.1L71.9 107.2L73.5 120.3L68.5 128.0L76.9 125.4L74.7 102.5L73.9 111.8L73.0 140.8L75.2 121.2L66.1 123.6L73.8 123.9L73.8 127.5L64.4 137.3L72.8 113.1L70.4 131.9L74.5 126.0L69.7 128.4L71.3 129.7L72.8 114.3L67.9 118.1L73.8 129.1L71.0 132.0L73.4 127.0L69.3 112.0L75.7 120.8L73.8 119.7L70.7 125.5L73.9 124.8L76.4 119.8L77.2 141.3L65.1 105.3L74.9 130.3L73.3 128.0L71.0 108.1L67.4 119.8L76.4 121.7L66.4 128.2L73.7 138.4L76.6 120.2L65.0 109.6L70.2 131.5L66.2 107.9L72.4 133.9L77.1 129.8L62.6 116.8L66.6 122.1L66.0 114.9L36.1 129.8L41.5 132.9L75.3 141.6L75.1 134.7L60.7 133.3L60.0 137.0L75.7 118.9L50.8 129.0L68.2 142.9L71.1 98.0L65.9 130.8L49.3 135.2L35.5 109.2L74.9 109.9L59.7 134.1L65.6 137.5L56.4 132.5L63.6 110.3L56.7 125.3L56.9 130.5L64.4 122.4L68.9 109.5L62.9 136.6L67.3 126.1L36.3 136.5L63.5 99.4L57.8 103.1L74.7 112.2L73.4 123.5L58.0 115.2L70.7 144.0L37.3 119.2L65.5 136.0L68.1 135.9L76.0 129.5L49.1 125.8L47.7 116.1L61.4 114.8L77.2 119.4L62.5 132.0L66.1 115.0L46.7 123.4L77.1 109.8L62.5 131.7L52.9 150.9L73.6 127.1L71.7 99.6L67.4 117.2L55.4 124.1L59.1 112.9L75.0 116.8L76.4 117.3L48.2 127.5L71.2 121.3L52.4 120.0L68.2 128.8L50.1 133.8L60.0 120.6L52.4 112.0L68.4 115.3L55.1 116.9L67.3 116.8L58.4 98.0L38.0 119.4L75.3 111.2L53.3 101.7L56.3 121.5L38.4 119.3L72.2 111.2L56.4 104.5L39.2 118.8L60.8 118.3L61.1 121.1L59.1 134.7L59.1 110.4L45.6 124.7L69.8 140.0L59.2 123.6L60.4 140.1L52.1 132.6L72.4 121.9L46.0 131.7L74.3 110.9L71.2 137.4L71.6 119.3L68.4 116.2L71.6 106.8L61.8 112.4L68.5 119.6L72.5 121.2L57.4 122.6L55.2 110.1L74.3 128.9L60.9 116.6L53.1 123.0L68.1 119.5L55.8 124.7L73.3 99.7L71.7 128.8L56.7 119.3L62.3 119.1L63.4 115.6L37.6 117.3L76.6 117.5L45.2 111.7L72.1 137.7L50.4 121.9L72.4 134.8L37.2 119.5L70.0 134.3L43.9 132.0L49.9 122.6L61.8 107.4L64.7 115.9L34.6 118.9L75.4 107.3L70.2 131.8L57.9 143.8L75.9 126.4L74.1 124.9L70.6 109.1L56.3 99.6L46.3 135.8L75.2 98.0L46.1 105.6L50.6 113.2L35.7 118.1L65.6 98.0L71.0 121.1L69.0 126.9L70.0 120.5L61.2 136.2L38.7 117.0L74.4 123.1L64.4 118.5L77.2 118.2L51.2 133.0L73.6 108.2L59.0 132.5L70.7 112.7L67.1 138.6L49.2 118.1" fill="none" stroke="none" marker-start="url(#m)" marker-mid="url(#m)" marker-end="url(#m)"/>
<line x1="19.19" y1="122.09" x2="77.6" y2="121.05" stroke="#4570e6" stroke-width="0.9"/>
<text x="79.1" y="99.8" font-size="3.1" text-anchor="end" fill="#ff2020" stroke="#ff2020" stroke-width="0.06">Rho = 0.038</text>
<text x="79.1" y="102.8" font-size="3.1" text-anchor="end" fill="#ff2020" stroke="#ff2020" stroke-width="0.06">p = 4.40e-01</text>
<rect x="15.8" y="96.2" width="63.8" height="60.2" fill="none" stroke="#858585" stroke-width="0.8"/>
<line x1="24.5" y1="156.4" x2="24.5" y2="157.4" stroke="#555" stroke-width="0.5"/>
<text x="24.5" y="161.7" font-size="3.6" text-anchor="middle" fill="#333" stroke="#333" stroke-width="0.1" textLength="4.38" lengthAdjust="spacingAndGlyphs">0.4</text>
<line x1="42.2" y1="156.4" x2="42.2" y2="157.4" stroke="#555" stroke-width="0.5"/>
<text x="42.2" y="161.7" font-size="3.6" text-anchor="middle" fill="#333" stroke="#333" stroke-width="0.1" textLength="4.38" lengthAdjust="spacingAndGlyphs">0.6</text>
<line x1="59.9" y1="156.4" x2="59.9" y2="157.4" stroke="#555" stroke-width="0.5"/>
<text x="59.9" y="161.7" font-size="3.6" text-anchor="middle" fill="#333" stroke="#333" stroke-width="0.1" textLength="4.38" lengthAdjust="spacingAndGlyphs">0.8</text>
<line x1="77.6" y1="156.4" x2="77.6" y2="157.4" stroke="#555" stroke-width="0.5"/>
<text x="77.6" y="161.7" font-size="3.6" text-anchor="middle" fill="#333" stroke="#333" stroke-width="0.1" textLength="4.38" lengthAdjust="spacingAndGlyphs">1.0</text>
<text x="45" y="166.1" font-size="4.6" text-anchor="middle" fill="#222" stroke="#222" stroke-width="0.08" textLength="10.61" lengthAdjust="spacingAndGlyphs">Purity</text>
<rect x="81.5" y="90.1" width="63.9" height="6.1" fill="#d9d9d9" stroke="#858585" stroke-width="0.8"/>
<svg x="82" y="90.1" width="62.9" height="6.1" overflow="hidden">
<text x="31.45" y="4.65" font-size="3.3" text-anchor="middle" fill="#222" stroke="#222" stroke-width="0.08">T cell CD8+_CIBERSORT</text>
</svg>
<rect x="81.5" y="96.2" width="63.9" height="60.2" fill="#fff"/>
<line x1="93.05" y1="96.2" x2="93.05" y2="156.4" stroke="#f4f4f4" stroke-width="0.5"/>
<line x1="110.15" y1="96.2" x2="110.15" y2="156.4" stroke="#f4f4f4" stroke-width="0.5"/>
<line x1="127.35" y1="96.2" x2="127.35" y2="156.4" stroke="#f4f4f4" stroke-width="0.5"/>
<line x1="144.35" y1="96.2" x2="144.35" y2="156.4" stroke="#f4f4f4" stroke-width="0.5"/>
<line x1="81.5" y1="156.03" x2="145.4" y2="156.03" stroke="#f4f4f4" stroke-width="0.5"/>
<line x1="81.5" y1="142.97" x2="145.4" y2="142.97" stroke="#f4f4f4" stroke-width="0.5"/>
<line x1="81.5" y1="129.93" x2="145.4" y2="129.93" stroke="#f4f4f4" stroke-width="0.5"/>
<line x1="81.5" y1="116.88" x2="145.4" y2="116.88" stroke="#f4f4f4" stroke-width="0.5"/>
<line x1="81.5" y1="103.83" x2="145.4" y2="103.83" stroke="#f4f4f4" stroke-width="0.5"/>
<line x1="84.5" y1="96.2" x2="84.5" y2="156.4" stroke="#ebebeb" stroke-width="0.7"/>
<line x1="101.6" y1="96.2" x2="101.6" y2="156.4" stroke="#ebebeb" stroke-width="0.7"/>
<line x1="118.8" y1="96.2" x2="118.8" y2="156.4" stroke="#ebebeb" stroke-width="0.7"/>
<line x1="135.8" y1="96.2" x2="135.8" y2="156.4" stroke="#ebebeb" stroke-width="0.7"/>
<line x1="81.5" y1="149.5" x2="145.4" y2="149.5" stroke="#ebebeb" stroke-width="0.7"/>
<line x1="81.5" y1="136.45" x2="145.4" y2="136.45" stroke="#ebebeb" stroke-width="0.7"/>
<line x1="81.5" y1="123.4" x2="145.4" y2="123.4" stroke="#ebebeb" stroke-width="0.7"/>
<line x1="81.5" y1="110.35" x2="145.4" y2="110.35" stroke="#ebebeb" stroke-width="0.7"/>
<line x1="81.5" y1="97.3" x2="145.4" y2="97.3" stroke="#ebebeb" stroke-width="0.7"/>
<polygon points="84.5,118.1 88.37,119.03 92.23,119.74 96.1,120.17 99.97,120.29 103.83,120.37 107.7,120.42 111.57,120.45 115.43,120.46 119.3,120.47 123.17,120.46 127.03,120.44 130.9,120.42 134.77,120.39 138.63,120.35 142.5,120.3 142.5,132.5 138.63,131.56 134.77,130.63 130.9,129.7 127.03,128.78 123.17,127.87 119.3,126.97 115.43,126.08 111.57,125.2 107.7,124.34 103.83,123.5 99.97,122.68 96.1,121.91 92.23,121.45 88.37,121.27 84.5,121.3" fill="#999999" fill-opacity="0.45"/>
<path d="M84.7 116.0L85.4 115.8L85.0 126.7L84.8 116.0L84.7 117.9L84.7 108.3L84.5 135.2L84.5 124.5L84.6 136.5L85.4 127.3L93.2 134.7L97.7 118.9L90.3 127.1L96.8 146.5L86.5 108.4L85.9 130.9L111.3 138.7L100.3 125.5L97.1 128.3L94.3 132.9L113.6 116.8L95.7 124.9L99.6 113.1L102.1 115.2L113.4 117.1L92.7 119.3L92.4 122.0L92.9 125.0L95.6 107.4L105.6 141.2L89.6 131.4L103.9 128.9L90.5 116.9L102.4 120.9L88.5 125.4L90.4 124.3L101.2 105.5L98.7 128.5L105.9 150.2L102.5 104.0L90.2 129.9L93.9 124.3L109.6 121.5L88.6 133.4L93.2 109.3L96.8 122.7L105.5 136.2L94.7 119.0L95.7 117.0L89.4 121.4L101.7 117.4L90.5 135.3L122.5 115.3L97.1 129.6L101.6 109.6L93.3 127.2L93.3 119.7L101.2 97.4L91.8 120.5L94.4 110.5L93.5 116.4L97.6 136.1L97.5 110.4L93.8 110.5L101.3 135.6L108.0 123.5L90.2 135.2L90.5 123.5L90.3 111.9L90.0 119.7L90.3 132.2L94.4 129.9L100.2 121.5L90.1 120.8L97.2 120.1L91.4 114.9L125.1 143.0L95.8 121.1L99.9 110.6L88.8 115.6L89.3 127.3L95.4 127.2L89.7 119.0L93.6 114.3L104.4 122.2L89.8 104.1L89.4 107.7L95.1 128.6L92.2 116.0L98.9 125.0L93.0 132.5L88.4 126.4L85.6 120.0L96.4 141.6L89.9 126.8L94.7 117.5L86.2 127.0L89.7 124.2L96.5 112.8L102.8 122.5L103.1 120.2L105.5 103.1L93.7 119.1L102.0 119.0L96.3 116.8L92.3 104.7L91.1 117.0L89.5 119.9L102.7 122.8L94.2 109.8L89.8 126.4L93.0 108.9L113.6 120.9L87.2 132.6L87.4 113.3L107.5 117.4L87.2 130.4L106.9 118.6L90.5 117.5L96.9 123.3L106.0 132.3L106.0 100.9L100.3 113.5L93.8 111.1L92.2 110.1L92.3 112.4L109.3 114.5L96.4 124.0L104.6 113.5L85.2 121.0L91.7 124.4L96.2 114.0L91.6 121.8L117.8 139.3L88.1 123.2L98.2 115.1L101.6 121.1L89.4 111.4L101.4 124.3L97.3 129.5L132.2 117.3L108.5 120.5L93.8 131.5L102.7 117.0L97.3 123.0L91.3 110.7L99.6 113.6L98.1 116.4L110.3 143.1L87.3 116.2L87.4 115.1L89.7 115.0L99.6 119.9L103.9 128.1L93.3 122.5L96.1 140.4L94.5 122.9L86.7 133.5L89.4 122.9L102.2 127.4L101.5 108.1L105.1 120.9L100.0 120.8L85.1 117.5L96.4 100.8L97.0 129.4L87.5 116.4L114.4 119.0L93.2 118.3L102.6 119.6L100.9 125.4L99.2 109.5L107.9 113.7L93.3 123.4L102.6 123.2L97.8 117.7L87.9 114.7L90.4 112.5L88.0 119.6L86.8 131.1L98.0 111.3L87.2 134.3L102.9 129.8L92.5 116.4L92.5 128.0L87.8 106.3L97.1 104.9L89.1 108.1L99.5 117.6L100.0 118.4L86.5 115.1L98.1 122.2L85.7 99.8L101.3 126.3L85.6 106.5L88.5 114.0L106.6 118.4L95.9 110.1L100.0 108.6L85.2 110.3L100.8 121.5L89.4 125.8L111.3 128.1L94.6 111.5L93.5 113.3L86.7 111.3L89.1 124.5L94.0 101.6L107.4 134.0L106.3 117.7L92.5 113.3L88.1 123.3L87.8 129.8L111.8 126.1L96.5 131.0L88.4 121.4L109.4 134.1L98.7 133.0L100.8 120.6L101.8 135.2L96.9 122.7L91.1 121.3L86.6 111.3L87.5 117.3L89.2 127.6L98.4 109.0L89.9 126.4L101.2 124.9L102.3 124.4L109.6 101.9L110.0 121.7L111.1 128.9L96.0 113.9L95.5 121.8L90.5 98.1L96.4 127.4L95.3 114.7L90.3 128.6L86.2 102.6L107.8 128.9L99.1 119.2L88.8 127.8L91.4 111.8L101.3 115.8L91.1 141.5L96.9 113.3L104.2 115.3L102.2 119.1L93.5 111.1L89.4 131.5" fill="none" stroke="none" marker-start="url(#m)" marker-mid="url(#m)" marker-end="url(#m)"/>
<line x1="84.5" y1="119.7" x2="142.5" y2="126.4" stroke="#4570e6" stroke-width="0.9"/>
<text x="144.9" y="99.8" font-size="3.1" text-anchor="end" fill="#ff2020" stroke="#ff2020" stroke-width="0.06">Rho = -0.112</text>
<text x="144.9" y="102.8" font-size="3.1" text-anchor="end" fill="#ff2020" stroke="#ff2020" stroke-width="0.06">p = 2.83e-02</text>
<rect x="81.5" y="96.2" width="63.9" height="60.2" fill="none" stroke="#858585" stroke-width="0.8"/>
<line x1="84.5" y1="156.4" x2="84.5" y2="157.4" stroke="#555" stroke-width="0.5"/>
<text x="84.5" y="161.7" font-size="3.6" text-anchor="middle" fill="#333" stroke="#333" stroke-width="0.1" textLength="4.38" lengthAdjust="spacingAndGlyphs">0.0</text>
<line x1="101.6" y1="156.4" x2="101.6" y2="157.4" stroke="#555" stroke-width="0.5"/>
<text x="101.6" y="161.7" font-size="3.6" text-anchor="middle" fill="#333" stroke="#333" stroke-width="0.1" textLength="4.38" lengthAdjust="spacingAndGlyphs">0.1</text>
<line x1="118.8" y1="156.4" x2="118.8" y2="157.4" stroke="#555" stroke-width="0.5"/>
<text x="118.8" y="161.7" font-size="3.6" text-anchor="middle" fill="#333" stroke="#333" stroke-width="0.1" textLength="4.38" lengthAdjust="spacingAndGlyphs">0.2</text>
<line x1="135.8" y1="156.4" x2="135.8" y2="157.4" stroke="#555" stroke-width="0.5"/>
<text x="135.8" y="161.7" font-size="3.6" text-anchor="middle" fill="#333" stroke="#333" stroke-width="0.1" textLength="4.38" lengthAdjust="spacingAndGlyphs">0.3</text>
<text x="111.85" y="166" font-size="4.6" text-anchor="middle" fill="#222" stroke="#222" stroke-width="0.08" textLength="29.07" lengthAdjust="spacingAndGlyphs">Infiltration Level</text>
<rect x="189.6" y="96.2" width="6.4" height="60.2" fill="#d9d9d9" stroke="#858585" stroke-width="0.8"/>
<text x="193.9" y="126.7" font-size="3.1" text-anchor="middle" fill="#333" transform="rotate(-90 193.9 126.7)" stroke="#333" stroke-width="0.12">OV</text>
<line x1="188.6" y1="149.5" x2="189.6" y2="149.5" stroke="#555" stroke-width="0.5"/>
<text x="187.5" y="151" font-size="3.6" text-anchor="end" fill="#333" stroke="#333" stroke-width="0.1" textLength="1.78" lengthAdjust="spacingAndGlyphs">2</text>
<line x1="188.6" y1="136.45" x2="189.6" y2="136.45" stroke="#555" stroke-width="0.5"/>
<text x="187.5" y="137.95" font-size="3.6" text-anchor="end" fill="#333" stroke="#333" stroke-width="0.1" textLength="1.78" lengthAdjust="spacingAndGlyphs">3</text>
<line x1="188.6" y1="123.4" x2="189.6" y2="123.4" stroke="#555" stroke-width="0.5"/>
<text x="187.5" y="124.9" font-size="3.6" text-anchor="end" fill="#333" stroke="#333" stroke-width="0.1" textLength="1.78" lengthAdjust="spacingAndGlyphs">4</text>
<line x1="188.6" y1="110.35" x2="189.6" y2="110.35" stroke="#555" stroke-width="0.5"/>
<text x="187.5" y="111.85" font-size="3.6" text-anchor="end" fill="#333" stroke="#333" stroke-width="0.1" textLength="1.78" lengthAdjust="spacingAndGlyphs">5</text>
<line x1="188.6" y1="97.3" x2="189.6" y2="97.3" stroke="#555" stroke-width="0.5"/>
<text x="187.5" y="98.8" font-size="3.6" text-anchor="end" fill="#333" stroke="#333" stroke-width="0.1" textLength="1.78" lengthAdjust="spacingAndGlyphs">6</text>
<text x="182.8" y="126.3" font-size="4.6" text-anchor="middle" fill="#333" transform="rotate(-90 182.8 126.3)" stroke="#333" stroke-width="0.06" textLength="71.60" lengthAdjust="spacingAndGlyphs">SLC45A4 Expression Level (log2 TPM)</text>
<rect x="196" y="90.2" width="63.8" height="6" fill="#d9d9d9" stroke="#858585" stroke-width="0.8"/>
<text x="227.9" y="94.8" font-size="3.3" text-anchor="middle" fill="#222" stroke="#222" stroke-width="0.08">Purity</text>
<rect x="196" y="96.2" width="63.8" height="60.2" fill="#fff"/>
<line x1="213.55" y1="96.2" x2="213.55" y2="156.4" stroke="#f4f4f4" stroke-width="0.5"/>
<line x1="231.25" y1="96.2" x2="231.25" y2="156.4" stroke="#f4f4f4" stroke-width="0.5"/>
<line x1="248.95" y1="96.2" x2="248.95" y2="156.4" stroke="#f4f4f4" stroke-width="0.5"/>
<line x1="196" y1="156.03" x2="259.8" y2="156.03" stroke="#f4f4f4" stroke-width="0.5"/>
<line x1="196" y1="142.97" x2="259.8" y2="142.97" stroke="#f4f4f4" stroke-width="0.5"/>
<line x1="196" y1="129.93" x2="259.8" y2="129.93" stroke="#f4f4f4" stroke-width="0.5"/>
<line x1="196" y1="116.88" x2="259.8" y2="116.88" stroke="#f4f4f4" stroke-width="0.5"/>
<line x1="196" y1="103.83" x2="259.8" y2="103.83" stroke="#f4f4f4" stroke-width="0.5"/>
<line x1="204.7" y1="96.2" x2="204.7" y2="156.4" stroke="#ebebeb" stroke-width="0.7"/>
<line x1="222.4" y1="96.2" x2="222.4" y2="156.4" stroke="#ebebeb" stroke-width="0.7"/>
<line x1="240.1" y1="96.2" x2="240.1" y2="156.4" stroke="#ebebeb" stroke-width="0.7"/>
<line x1="257.8" y1="96.2" x2="257.8" y2="156.4" stroke="#ebebeb" stroke-width="0.7"/>
<line x1="196" y1="149.5" x2="259.8" y2="149.5" stroke="#ebebeb" stroke-width="0.7"/>
<line x1="196" y1="136.45" x2="259.8" y2="136.45" stroke="#ebebeb" stroke-width="0.7"/>
<line x1="196" y1="123.4" x2="259.8" y2="123.4" stroke="#ebebeb" stroke-width="0.7"/>
<line x1="196" y1="110.35" x2="259.8" y2="110.35" stroke="#ebebeb" stroke-width="0.7"/>
<line x1="196" y1="97.3" x2="259.8" y2="97.3" stroke="#ebebeb" stroke-width="0.7"/>
<polygon points="199.39,117.66 204.7,118.19 210.01,118.68 215.32,119.13 220.63,119.53 225.94,119.88 231.25,120.17 236.56,120.38 241.87,120.51 247.18,120.41 252.49,120.1 257.8,119.7 257.8,122.43 252.49,122.21 247.18,122.08 241.87,122.18 236.56,122.49 231.25,122.9 225.94,123.37 220.63,123.91 215.32,124.5 210.01,125.13 204.7,125.81 199.39,126.53" fill="#999999" fill-opacity="0.45"/>
<path d="M251.7 134.0L257.0 107.6L256.5 104.7L249.6 124.1L250.4 131.4L249.5 121.9L253.9 129.3L251.4 125.4L254.6 105.8L244.2 118.0L257.4 120.6L251.2 118.5L254.3 122.7L251.1 113.3L250.1 112.9L253.4 126.0L254.9 121.0L250.8 98.0L251.0 117.7L254.3 124.0L248.1 100.7L245.6 122.0L253.2 133.6L248.9 115.1L244.0 131.5L248.4 127.3L249.7 118.7L246.9 123.4L245.7 130.1L251.8 127.8L255.2 128.3L250.7 109.9L248.6 129.6L253.1 128.1L254.5 100.8L250.4 127.9L253.8 106.5L255.8 108.4L250.8 123.7L248.4 136.9L253.0 117.4L252.6 115.1L256.0 112.0L246.5 121.3L249.0 109.5L248.3 107.6L244.7 133.1L252.1 107.2L253.7 120.3L248.7 128.0L257.1 125.4L254.9 102.5L254.1 111.8L253.2 140.8L255.4 121.2L246.3 123.6L254.0 123.9L254.0 127.5L244.6 137.3L253.0 113.1L250.6 131.9L254.7 126.0L249.9 128.4L251.5 129.7L253.0 114.3L248.1 118.1L254.0 129.1L251.2 132.0L253.6 127.0L249.5 112.0L255.9 120.8L254.0 119.7L250.9 125.5L254.1 124.8L256.6 119.8L257.4 141.3L245.3 105.3L255.1 130.3L253.5 128.0L251.2 108.1L247.6 119.8L256.6 121.7L246.6 128.2L253.9 138.4L256.8 120.2L245.2 109.6L250.4 131.5L246.4 107.9L252.6 133.9L257.3 129.8L242.8 116.8L246.8 122.1L246.2 114.9L216.3 129.8L221.7 132.9L255.5 141.6L255.3 134.7L240.9 133.3L240.2 137.0L255.9 118.9L231.0 129.0L248.4 142.9L251.3 98.0L246.1 130.8L229.5 135.2L215.7 109.2L255.1 109.9L239.9 134.1L245.8 137.5L236.6 132.5L243.8 110.3L236.9 125.3L237.1 130.5L244.6 122.4L249.1 109.5L243.1 136.6L247.5 126.1L216.5 136.5L243.7 99.4L238.0 103.1L254.9 112.2L253.6 123.5L238.2 115.2L250.9 144.0L217.5 119.2L245.7 136.0L248.3 135.9L256.2 129.5L229.3 125.8L227.9 116.1L241.6 114.8L257.4 119.4L242.7 132.0L246.3 115.0L226.9 123.4L257.3 109.8L242.7 131.7L233.1 150.9L253.8 127.1L251.9 99.6L247.6 117.2L235.6 124.1L239.3 112.9L255.2 116.8L256.6 117.3L228.4 127.5L251.4 121.3L232.6 120.0L248.4 128.8L230.3 133.8L240.2 120.6L232.6 112.0L248.6 115.3L235.3 116.9L247.5 116.8L238.6 98.0L218.2 119.4L255.5 111.2L233.5 101.7L236.5 121.5L218.6 119.3L252.4 111.2L236.6 104.5L219.4 118.8L241.0 118.3L241.3 121.1L239.3 134.7L239.3 110.4L225.8 124.7L250.0 140.0L239.4 123.6L240.6 140.1L232.3 132.6L252.6 121.9L226.2 131.7L254.5 110.9L251.4 137.4L251.8 119.3L248.6 116.2L251.8 106.8L242.0 112.4L248.7 119.6L252.7 121.2L237.6 122.6L235.4 110.1L254.5 128.9L241.1 116.6L233.3 123.0L248.3 119.5L236.0 124.7L253.5 99.7L251.9 128.8L236.9 119.3L242.5 119.1L243.6 115.6L217.8 117.3L256.8 117.5L225.4 111.7L252.3 137.7L230.6 121.9L252.6 134.8L217.4 119.5L250.2 134.3L224.1 132.0L230.1 122.6L242.0 107.4L244.9 115.9L214.8 118.9L255.6 107.3L250.4 131.8L238.1 143.8L256.1 126.4L254.3 124.9L250.8 109.1L236.5 99.6L226.5 135.8L255.4 98.0L226.3 105.6L230.8 113.2L215.9 118.1L245.8 98.0L251.2 121.1L249.2 126.9L250.2 120.5L241.4 136.2L218.9 117.0L254.6 123.1L244.6 118.5L257.4 118.2L231.4 133.0L253.8 108.2L239.2 132.5L250.9 112.7L247.3 138.6L229.4 118.1" fill="none" stroke="none" marker-start="url(#m)" marker-mid="url(#m)" marker-end="url(#m)"/>
<line x1="199.39" y1="122.09" x2="257.8" y2="121.05" stroke="#4570e6" stroke-width="0.9"/>
<text x="259.3" y="99.8" font-size="3.1" text-anchor="end" fill="#ff2020" stroke="#ff2020" stroke-width="0.06">Rho = 0.038</text>
<text x="259.3" y="102.8" font-size="3.1" text-anchor="end" fill="#ff2020" stroke="#ff2020" stroke-width="0.06">p = 4.40e-01</text>
<rect x="196" y="96.2" width="63.8" height="60.2" fill="none" stroke="#858585" stroke-width="0.8"/>
<line x1="204.7" y1="156.4" x2="204.7" y2="157.4" stroke="#555" stroke-width="0.5"/>
<text x="204.7" y="161.7" font-size="3.6" text-anchor="middle" fill="#333" stroke="#333" stroke-width="0.1" textLength="4.38" lengthAdjust="spacingAndGlyphs">0.4</text>
<line x1="222.4" y1="156.4" x2="222.4" y2="157.4" stroke="#555" stroke-width="0.5"/>
<text x="222.4" y="161.7" font-size="3.6" text-anchor="middle" fill="#333" stroke="#333" stroke-width="0.1" textLength="4.38" lengthAdjust="spacingAndGlyphs">0.6</text>
<line x1="240.1" y1="156.4" x2="240.1" y2="157.4" stroke="#555" stroke-width="0.5"/>
<text x="240.1" y="161.7" font-size="3.6" text-anchor="middle" fill="#333" stroke="#333" stroke-width="0.1" textLength="4.38" lengthAdjust="spacingAndGlyphs">0.8</text>
<line x1="257.8" y1="156.4" x2="257.8" y2="157.4" stroke="#555" stroke-width="0.5"/>
<text x="257.8" y="161.7" font-size="3.6" text-anchor="middle" fill="#333" stroke="#333" stroke-width="0.1" textLength="4.38" lengthAdjust="spacingAndGlyphs">1.0</text>
<text x="225.2" y="166.1" font-size="4.6" text-anchor="middle" fill="#222" stroke="#222" stroke-width="0.08" textLength="10.61" lengthAdjust="spacingAndGlyphs">Purity</text>
<rect x="261.6" y="90.2" width="63.8" height="6" fill="#d9d9d9" stroke="#858585" stroke-width="0.8"/>
<svg x="262.1" y="90.2" width="62.8" height="6" overflow="hidden">
<text x="31.4" y="4.6" font-size="3.3" text-anchor="middle" fill="#222" stroke="#222" stroke-width="0.08">T cell CD8+_QUANTISEQ</text>
</svg>
<rect x="261.6" y="96.2" width="63.8" height="60.2" fill="#fff"/>
<line x1="272.35" y1="96.2" x2="272.35" y2="156.4" stroke="#f4f4f4" stroke-width="0.5"/>
<line x1="288.05" y1="96.2" x2="288.05" y2="156.4" stroke="#f4f4f4" stroke-width="0.5"/>
<line x1="303.65" y1="96.2" x2="303.65" y2="156.4" stroke="#f4f4f4" stroke-width="0.5"/>
<line x1="319.35" y1="96.2" x2="319.35" y2="156.4" stroke="#f4f4f4" stroke-width="0.5"/>
<line x1="261.6" y1="156.03" x2="325.4" y2="156.03" stroke="#f4f4f4" stroke-width="0.5"/>
<line x1="261.6" y1="142.97" x2="325.4" y2="142.97" stroke="#f4f4f4" stroke-width="0.5"/>
<line x1="261.6" y1="129.93" x2="325.4" y2="129.93" stroke="#f4f4f4" stroke-width="0.5"/>
<line x1="261.6" y1="116.88" x2="325.4" y2="116.88" stroke="#f4f4f4" stroke-width="0.5"/>
<line x1="261.6" y1="103.83" x2="325.4" y2="103.83" stroke="#f4f4f4" stroke-width="0.5"/>
<line x1="264.5" y1="96.2" x2="264.5" y2="156.4" stroke="#ebebeb" stroke-width="0.7"/>
<line x1="280.2" y1="96.2" x2="280.2" y2="156.4" stroke="#ebebeb" stroke-width="0.7"/>
<line x1="295.8" y1="96.2" x2="295.8" y2="156.4" stroke="#ebebeb" stroke-width="0.7"/>
<line x1="311.5" y1="96.2" x2="311.5" y2="156.4" stroke="#ebebeb" stroke-width="0.7"/>
<line x1="261.6" y1="149.5" x2="325.4" y2="149.5" stroke="#ebebeb" stroke-width="0.7"/>
<line x1="261.6" y1="136.45" x2="325.4" y2="136.45" stroke="#ebebeb" stroke-width="0.7"/>
<line x1="261.6" y1="123.4" x2="325.4" y2="123.4" stroke="#ebebeb" stroke-width="0.7"/>
<line x1="261.6" y1="110.35" x2="325.4" y2="110.35" stroke="#ebebeb" stroke-width="0.7"/>
<line x1="261.6" y1="97.3" x2="325.4" y2="97.3" stroke="#ebebeb" stroke-width="0.7"/>
<polygon points="264.5,119.3 268.37,120.49 272.23,121.23 276.1,121.36 279.97,121.4 283.83,121.39 287.7,121.35 291.57,121.28 295.43,121.19 299.3,121.08 303.17,120.95 307.03,120.81 310.9,120.65 314.77,120.48 318.63,120.29 322.5,120.1 322.5,142.5 318.63,140.89 314.77,139.3 310.9,137.71 307.03,136.14 303.17,134.58 299.3,133.04 295.43,131.51 291.57,130.01 287.7,128.53 283.83,127.07 279.97,125.65 276.1,124.28 272.23,123 268.37,122.33 264.5,122.1" fill="#999999" fill-opacity="0.45"/>
<path d="M265.4 146.3L264.9 121.7L265.4 101.2L265.1 114.5L265.1 121.9L264.9 109.0L265.1 112.7L264.9 117.3L264.6 123.9L265.2 119.3L265.2 112.5L265.0 128.2L264.8 115.7L265.6 116.2L264.5 107.7L264.8 113.4L264.9 126.9L265.4 105.7L264.7 120.1L265.1 127.6L264.7 117.2L265.2 123.1L264.7 110.3L264.9 133.1L265.0 131.1L264.6 122.9L265.1 104.3L264.7 110.9L264.9 129.9L264.6 136.8L264.6 123.5L265.1 132.5L264.9 115.1L265.3 119.1L264.7 120.7L264.9 124.8L264.7 106.4L265.0 129.6L264.8 133.2L265.0 110.0L265.0 108.1L265.0 124.1L265.6 114.7L265.0 98.5L264.9 128.4L264.7 122.2L265.2 116.3L265.2 140.7L265.1 122.1L264.7 113.7L264.7 121.7L265.6 111.1L264.9 113.6L265.1 124.4L265.0 115.6L264.8 116.5L264.5 136.4L265.3 128.9L265.4 128.4L264.9 125.7L264.6 125.3L264.6 134.4L265.2 120.6L264.7 138.2L265.0 111.9L264.9 118.4L265.1 107.8L264.9 117.5L264.7 125.6L265.4 134.5L264.7 114.5L264.6 120.8L265.6 117.5L264.7 113.8L264.9 109.6L264.9 121.3L265.1 104.5L265.1 121.8L265.1 121.0L264.8 114.6L264.8 111.3L264.6 107.7L264.5 138.3L265.0 108.2L264.8 135.4L265.5 126.5L264.7 117.3L264.7 109.9L264.6 130.5L264.7 137.0L265.1 112.0L264.8 117.9L264.6 130.6L264.8 123.9L265.2 139.6L265.1 115.5L264.7 125.8L265.0 109.0L264.5 140.4L265.0 113.9L265.0 100.0L265.3 119.7L264.6 119.4L265.0 138.8L265.0 117.6L264.7 120.6L265.1 126.4L264.5 135.6L265.1 120.2L264.9 130.5L264.9 125.6L264.8 118.0L271.8 122.8L266.5 121.3L266.8 112.5L265.8 132.3L265.0 107.8L272.4 133.1L269.9 130.6L269.0 120.6L266.7 113.9L275.0 120.5L268.4 125.9L278.2 130.2L265.2 123.5L266.1 130.3L268.8 116.2L270.3 124.0L266.8 106.4L265.8 128.1L267.6 122.7L267.1 117.3L268.1 132.3L275.4 129.2L265.3 97.4L265.9 121.3L273.6 108.7L264.8 130.8L270.5 145.2L267.2 116.3L266.7 121.8L267.0 118.8L267.6 124.6L265.2 126.9L264.6 132.8L265.4 111.6L269.1 136.3L266.1 112.2L266.6 123.7L274.9 133.5L266.3 127.7L266.2 112.2L265.5 114.3L268.1 117.0L267.2 120.7L270.2 132.5L268.4 109.3L267.6 125.7L265.5 126.6L271.8 127.3L271.7 126.4L271.5 136.3L268.8 126.1L269.9 129.7L265.0 126.1L265.5 137.7L271.3 104.1L266.3 133.1L267.5 118.8L270.4 119.1L264.8 111.7L269.0 104.0L274.6 119.0L264.8 114.3L268.6 126.1L267.6 107.4L268.2 134.8L275.0 125.2L269.1 119.2L265.3 114.2L268.7 114.1L266.7 110.5L268.9 116.4L265.0 120.8L264.9 119.1L265.6 107.6L264.8 118.3L270.4 113.4L266.9 122.6L276.4 140.4L270.4 127.7L268.5 118.5L275.5 107.4L273.4 109.0L268.5 105.6L268.9 128.3L272.4 115.0L267.1 121.8L277.0 117.1L279.2 124.2L269.7 134.8L277.9 116.7L264.8 117.5L272.3 114.5L264.8 129.0L268.3 111.8L264.8 110.1L266.5 108.0L269.4 108.4L264.7 125.2L268.9 145.6L270.5 112.4L269.4 130.5L273.9 124.8L265.9 110.6L266.1 118.4L270.9 119.7L265.6 114.4L264.7 138.9L267.5 103.3L265.2 124.4L267.3 124.3L268.7 116.0L266.1 122.4L270.0 130.0L267.1 122.6L265.9 124.9L265.6 127.4L265.1 101.7L265.4 134.8L269.6 143.0L267.9 130.5L268.1 130.9L264.9 107.5L273.1 121.2L267.1 113.5L283.7 118.7L267.4 130.3L265.4 113.3L267.3 120.0L267.1 103.2L269.7 120.2L264.8 121.6L265.8 114.3L267.2 114.4L265.6 138.6L265.7 109.6L269.0 111.7L268.1 113.8L265.4 132.1" fill="none" stroke="none" marker-start="url(#m)" marker-mid="url(#m)" marker-end="url(#m)"/>
<line x1="264.5" y1="120.7" x2="322.5" y2="131.3" stroke="#4570e6" stroke-width="0.9"/>
<text x="324.9" y="99.8" font-size="3.1" text-anchor="end" fill="#ff2020" stroke="#ff2020" stroke-width="0.06">Rho = -0.205</text>
<text x="324.9" y="102.8" font-size="3.1" text-anchor="end" fill="#ff2020" stroke="#ff2020" stroke-width="0.06">p = 1.15e-03</text>
<rect x="261.6" y="96.2" width="63.8" height="60.2" fill="none" stroke="#858585" stroke-width="0.8"/>
<line x1="264.5" y1="156.4" x2="264.5" y2="157.4" stroke="#555" stroke-width="0.5"/>
<text x="264.5" y="161.7" font-size="3.6" text-anchor="middle" fill="#333" stroke="#333" stroke-width="0.1" textLength="6.13" lengthAdjust="spacingAndGlyphs">0.00</text>
<line x1="280.2" y1="156.4" x2="280.2" y2="157.4" stroke="#555" stroke-width="0.5"/>
<text x="280.2" y="161.7" font-size="3.6" text-anchor="middle" fill="#333" stroke="#333" stroke-width="0.1" textLength="6.13" lengthAdjust="spacingAndGlyphs">0.05</text>
<line x1="295.8" y1="156.4" x2="295.8" y2="157.4" stroke="#555" stroke-width="0.5"/>
<text x="295.8" y="161.7" font-size="3.6" text-anchor="middle" fill="#333" stroke="#333" stroke-width="0.1" textLength="6.13" lengthAdjust="spacingAndGlyphs">0.10</text>
<line x1="311.5" y1="156.4" x2="311.5" y2="157.4" stroke="#555" stroke-width="0.5"/>
<text x="311.5" y="161.7" font-size="3.6" text-anchor="middle" fill="#333" stroke="#333" stroke-width="0.1" textLength="6.13" lengthAdjust="spacingAndGlyphs">0.15</text>
<text x="291.9" y="166" font-size="4.6" text-anchor="middle" fill="#222" stroke="#222" stroke-width="0.08" textLength="29.07" lengthAdjust="spacingAndGlyphs">Infiltration Level</text>
<rect x="9.2" y="207.8" width="6.6" height="60.1" fill="#d9d9d9" stroke="#858585" stroke-width="0.8"/>
<text x="13.6" y="238.25" font-size="3.1" text-anchor="middle" fill="#333" transform="rotate(-90 13.6 238.25)" stroke="#333" stroke-width="0.12">OV</text>
<line x1="8.2" y1="261.7" x2="9.2" y2="261.7" stroke="#555" stroke-width="0.5"/>
<text x="7.1" y="263.2" font-size="3.6" text-anchor="end" fill="#333" stroke="#333" stroke-width="0.1" textLength="1.78" lengthAdjust="spacingAndGlyphs">2</text>
<line x1="8.2" y1="249.3" x2="9.2" y2="249.3" stroke="#555" stroke-width="0.5"/>
<text x="7.1" y="250.8" font-size="3.6" text-anchor="end" fill="#333" stroke="#333" stroke-width="0.1" textLength="1.78" lengthAdjust="spacingAndGlyphs">3</text>
<line x1="8.2" y1="236.9" x2="9.2" y2="236.9" stroke="#555" stroke-width="0.5"/>
<text x="7.1" y="238.4" font-size="3.6" text-anchor="end" fill="#333" stroke="#333" stroke-width="0.1" textLength="1.78" lengthAdjust="spacingAndGlyphs">4</text>
<line x1="8.2" y1="224.5" x2="9.2" y2="224.5" stroke="#555" stroke-width="0.5"/>
<text x="7.1" y="226" font-size="3.6" text-anchor="end" fill="#333" stroke="#333" stroke-width="0.1" textLength="1.78" lengthAdjust="spacingAndGlyphs">5</text>
<line x1="8.2" y1="212.1" x2="9.2" y2="212.1" stroke="#555" stroke-width="0.5"/>
<text x="7.1" y="213.6" font-size="3.6" text-anchor="end" fill="#333" stroke="#333" stroke-width="0.1" textLength="1.78" lengthAdjust="spacingAndGlyphs">6</text>
<text x="2.6" y="237.85" font-size="4.6" text-anchor="middle" fill="#333" transform="rotate(-90 2.6 237.85)" stroke="#333" stroke-width="0.06" textLength="71.60" lengthAdjust="spacingAndGlyphs">SLC45A4 Expression Level (log2 TPM)</text>
<rect x="15.8" y="201.4" width="63.9" height="6.4" fill="#d9d9d9" stroke="#858585" stroke-width="0.8"/>
<text x="47.75" y="206.2" font-size="3.3" text-anchor="middle" fill="#222" stroke="#222" stroke-width="0.08">Purity</text>
<rect x="15.8" y="207.8" width="63.9" height="60.1" fill="#fff"/>
<line x1="33.35" y1="207.8" x2="33.35" y2="267.9" stroke="#f4f4f4" stroke-width="0.5"/>
<line x1="51.05" y1="207.8" x2="51.05" y2="267.9" stroke="#f4f4f4" stroke-width="0.5"/>
<line x1="68.75" y1="207.8" x2="68.75" y2="267.9" stroke="#f4f4f4" stroke-width="0.5"/>
<line x1="15.8" y1="255.5" x2="79.7" y2="255.5" stroke="#f4f4f4" stroke-width="0.5"/>
<line x1="15.8" y1="243.1" x2="79.7" y2="243.1" stroke="#f4f4f4" stroke-width="0.5"/>
<line x1="15.8" y1="230.7" x2="79.7" y2="230.7" stroke="#f4f4f4" stroke-width="0.5"/>
<line x1="15.8" y1="218.3" x2="79.7" y2="218.3" stroke="#f4f4f4" stroke-width="0.5"/>
<line x1="24.5" y1="207.8" x2="24.5" y2="267.9" stroke="#ebebeb" stroke-width="0.7"/>
<line x1="42.2" y1="207.8" x2="42.2" y2="267.9" stroke="#ebebeb" stroke-width="0.7"/>
<line x1="59.9" y1="207.8" x2="59.9" y2="267.9" stroke="#ebebeb" stroke-width="0.7"/>
<line x1="77.6" y1="207.8" x2="77.6" y2="267.9" stroke="#ebebeb" stroke-width="0.7"/>
<line x1="15.8" y1="261.7" x2="79.7" y2="261.7" stroke="#ebebeb" stroke-width="0.7"/>
<line x1="15.8" y1="249.3" x2="79.7" y2="249.3" stroke="#ebebeb" stroke-width="0.7"/>
<line x1="15.8" y1="236.9" x2="79.7" y2="236.9" stroke="#ebebeb" stroke-width="0.7"/>
<line x1="15.8" y1="224.5" x2="79.7" y2="224.5" stroke="#ebebeb" stroke-width="0.7"/>
<line x1="15.8" y1="212.1" x2="79.7" y2="212.1" stroke="#ebebeb" stroke-width="0.7"/>
<polygon points="19.19,231.44 24.5,231.95 29.81,232.42 35.12,232.84 40.43,233.22 45.74,233.55 51.05,233.83 56.36,234.03 61.67,234.15 66.98,234.06 72.29,233.77 77.6,233.38 77.6,235.98 72.29,235.77 66.98,235.65 61.67,235.74 56.36,236.04 51.05,236.42 45.74,236.87 40.43,237.38 35.12,237.94 29.81,238.55 24.5,239.19 19.19,239.88" fill="#999999" fill-opacity="0.45"/>
<path d="M71.5 247.0L76.8 221.9L76.3 219.2L69.4 237.5L70.2 244.5L69.3 235.5L73.7 242.5L71.2 238.8L74.4 220.2L64.0 231.8L77.2 234.2L71.0 232.2L74.1 236.2L70.9 227.3L69.9 226.9L73.2 239.3L74.7 234.6L70.6 212.7L70.8 231.5L74.1 237.5L67.9 215.3L65.4 235.6L73.0 246.5L68.7 229.0L63.8 244.6L68.2 240.6L69.5 232.4L66.7 236.9L65.5 243.2L71.6 241.1L75.0 241.5L70.5 224.1L68.4 242.8L72.9 241.3L74.3 215.4L70.2 241.2L73.6 220.9L75.6 222.6L70.6 237.2L68.2 249.7L72.8 231.2L72.4 229.0L75.8 226.1L66.3 234.9L68.8 223.7L68.1 221.9L64.5 246.1L71.9 221.5L73.5 233.9L68.5 241.3L76.9 238.8L74.7 217.0L73.9 225.9L73.0 253.4L75.2 234.8L66.1 237.0L73.8 237.4L73.8 240.8L64.4 250.1L72.8 227.1L70.4 245.0L74.5 239.3L69.7 241.6L71.3 242.9L72.8 228.3L67.9 231.9L73.8 242.3L71.0 245.0L73.4 240.3L69.3 226.1L75.7 234.4L73.8 233.3L70.7 238.9L73.9 238.2L76.4 233.5L77.2 253.9L65.1 219.7L74.9 243.5L73.3 241.3L71.0 222.4L67.4 233.5L76.4 235.2L66.4 241.4L73.7 251.1L76.6 233.8L65.0 223.8L70.2 244.6L66.2 222.1L72.4 246.8L77.1 242.9L62.6 230.6L66.6 235.7L66.0 228.8L36.1 243.0L41.5 245.9L75.3 254.2L75.1 247.6L60.7 246.3L60.0 249.8L75.7 232.6L50.8 242.2L68.2 255.4L71.1 212.7L65.9 243.9L49.3 248.1L35.5 223.4L74.9 224.1L59.7 247.1L65.6 250.3L56.4 245.6L63.6 224.5L56.7 238.7L56.9 243.7L64.4 235.9L68.9 223.7L62.9 249.4L67.3 239.5L36.3 249.4L63.5 214.1L57.8 217.6L74.7 226.2L73.4 237.0L58.0 229.1L70.7 256.5L37.3 232.9L65.5 248.9L68.1 248.8L76.0 242.7L49.1 239.1L47.7 230.0L61.4 228.7L77.2 233.1L62.5 245.0L66.1 229.0L46.7 236.9L77.1 224.0L62.5 244.8L52.9 263.1L73.6 240.4L71.7 214.3L67.4 231.0L55.4 237.6L59.1 226.9L75.0 230.7L76.4 231.1L48.2 240.8L71.2 234.9L52.4 233.7L68.2 242.0L50.1 246.8L60.0 234.3L52.4 226.1L68.4 229.2L55.1 230.8L67.3 230.7L58.4 212.7L38.0 233.1L75.3 225.3L53.3 216.2L56.3 235.1L38.4 233.0L72.2 225.3L56.4 218.9L39.2 232.6L60.8 232.1L61.1 234.8L59.1 247.6L59.1 224.6L45.6 238.2L69.8 252.7L59.2 237.1L60.4 252.8L52.1 245.6L72.4 235.5L46.0 244.8L74.3 225.0L71.2 250.2L71.6 233.0L68.4 230.1L71.6 221.1L61.8 226.4L68.5 233.3L72.5 234.8L57.4 236.2L55.2 224.3L74.3 242.1L60.9 230.4L53.1 236.5L68.1 233.2L55.8 238.2L73.3 214.4L71.7 242.1L56.7 233.0L62.3 232.8L63.4 229.5L37.6 231.1L76.6 231.3L45.2 225.8L72.1 250.5L50.4 235.4L72.4 247.8L37.2 233.2L70.0 247.3L43.9 245.1L49.9 236.1L61.8 221.7L64.7 229.8L34.6 232.6L75.4 221.6L70.2 244.9L57.9 256.3L75.9 239.7L74.1 238.3L70.6 223.3L56.3 214.3L46.3 248.7L75.2 212.7L46.1 220.0L50.6 227.2L35.7 231.9L65.6 212.7L71.0 234.7L69.0 240.2L70.0 234.1L61.2 249.1L38.7 230.8L74.4 236.6L64.4 232.2L77.2 231.9L51.2 246.0L73.6 222.5L59.0 245.6L70.7 226.7L67.1 251.3L49.2 231.8" fill="none" stroke="none" marker-start="url(#m)" marker-mid="url(#m)" marker-end="url(#m)"/>
<line x1="19.19" y1="235.66" x2="77.6" y2="234.67" stroke="#4570e6" stroke-width="0.9"/>
<text x="79.2" y="211.4" font-size="3.1" text-anchor="end" fill="#ff2020" stroke="#ff2020" stroke-width="0.06">Rho = 0.038</text>
<text x="79.2" y="214.4" font-size="3.1" text-anchor="end" fill="#ff2020" stroke="#ff2020" stroke-width="0.06">p = 4.40e-01</text>
<rect x="15.8" y="207.8" width="63.9" height="60.1" fill="none" stroke="#858585" stroke-width="0.8"/>
<line x1="24.5" y1="267.9" x2="24.5" y2="268.9" stroke="#555" stroke-width="0.5"/>
<text x="24.5" y="273.2" font-size="3.6" text-anchor="middle" fill="#333" stroke="#333" stroke-width="0.1" textLength="4.38" lengthAdjust="spacingAndGlyphs">0.4</text>
<line x1="42.2" y1="267.9" x2="42.2" y2="268.9" stroke="#555" stroke-width="0.5"/>
<text x="42.2" y="273.2" font-size="3.6" text-anchor="middle" fill="#333" stroke="#333" stroke-width="0.1" textLength="4.38" lengthAdjust="spacingAndGlyphs">0.6</text>
<line x1="59.9" y1="267.9" x2="59.9" y2="268.9" stroke="#555" stroke-width="0.5"/>
<text x="59.9" y="273.2" font-size="3.6" text-anchor="middle" fill="#333" stroke="#333" stroke-width="0.1" textLength="4.38" lengthAdjust="spacingAndGlyphs">0.8</text>
<line x1="77.6" y1="267.9" x2="77.6" y2="268.9" stroke="#555" stroke-width="0.5"/>
<text x="77.6" y="273.2" font-size="3.6" text-anchor="middle" fill="#333" stroke="#333" stroke-width="0.1" textLength="4.38" lengthAdjust="spacingAndGlyphs">1.0</text>
<text x="45.05" y="277.6" font-size="4.6" text-anchor="middle" fill="#222" stroke="#222" stroke-width="0.08" textLength="10.61" lengthAdjust="spacingAndGlyphs">Purity</text>
<rect x="82.2" y="201.4" width="63.9" height="6.4" fill="#d9d9d9" stroke="#858585" stroke-width="0.8"/>
<svg x="82.7" y="201.4" width="62.9" height="6.4" overflow="hidden">
<text x="31.45" y="4.8" font-size="3.3" text-anchor="middle" fill="#222" stroke="#222" stroke-width="0.08">T cell CD4+ central memory_XCELL</text>
</svg>
<rect x="82.2" y="207.8" width="63.9" height="60.1" fill="#fff"/>
<line x1="92.8" y1="207.8" x2="92.8" y2="267.9" stroke="#f4f4f4" stroke-width="0.5"/>
<line x1="108.2" y1="207.8" x2="108.2" y2="267.9" stroke="#f4f4f4" stroke-width="0.5"/>
<line x1="123.7" y1="207.8" x2="123.7" y2="267.9" stroke="#f4f4f4" stroke-width="0.5"/>
<line x1="139.3" y1="207.8" x2="139.3" y2="267.9" stroke="#f4f4f4" stroke-width="0.5"/>
<line x1="82.2" y1="255.5" x2="146.1" y2="255.5" stroke="#f4f4f4" stroke-width="0.5"/>
<line x1="82.2" y1="243.1" x2="146.1" y2="243.1" stroke="#f4f4f4" stroke-width="0.5"/>
<line x1="82.2" y1="230.7" x2="146.1" y2="230.7" stroke="#f4f4f4" stroke-width="0.5"/>
<line x1="82.2" y1="218.3" x2="146.1" y2="218.3" stroke="#f4f4f4" stroke-width="0.5"/>
<line x1="85.1" y1="207.8" x2="85.1" y2="267.9" stroke="#ebebeb" stroke-width="0.7"/>
<line x1="100.5" y1="207.8" x2="100.5" y2="267.9" stroke="#ebebeb" stroke-width="0.7"/>
<line x1="116" y1="207.8" x2="116" y2="267.9" stroke="#ebebeb" stroke-width="0.7"/>
<line x1="131.6" y1="207.8" x2="131.6" y2="267.9" stroke="#ebebeb" stroke-width="0.7"/>
<line x1="82.2" y1="261.7" x2="146.1" y2="261.7" stroke="#ebebeb" stroke-width="0.7"/>
<line x1="82.2" y1="249.3" x2="146.1" y2="249.3" stroke="#ebebeb" stroke-width="0.7"/>
<line x1="82.2" y1="236.9" x2="146.1" y2="236.9" stroke="#ebebeb" stroke-width="0.7"/>
<line x1="82.2" y1="224.5" x2="146.1" y2="224.5" stroke="#ebebeb" stroke-width="0.7"/>
<line x1="82.2" y1="212.1" x2="146.1" y2="212.1" stroke="#ebebeb" stroke-width="0.7"/>
<polygon points="85.1,233.8 88.99,233.33 92.89,232.38 96.78,230.96 100.67,229.47 104.57,227.96 108.46,226.42 112.35,224.87 116.25,223.3 120.14,221.71 124.03,220.12 127.93,218.51 131.82,216.9 135.71,215.27 139.61,213.64 143.5,212 143.5,227.6 139.61,228.03 135.71,228.46 131.82,228.9 127.93,229.35 124.03,229.82 120.14,230.29 116.25,230.77 112.35,231.26 108.46,231.78 104.57,232.31 100.67,232.86 96.78,233.44 92.89,234.09 88.99,235.2 85.1,236.8" fill="#999999" fill-opacity="0.45"/>
<path d="M86.2 235.4L85.3 239.9L85.5 244.3L85.3 243.7L85.6 238.5L85.6 243.0L85.8 236.2L85.8 246.3L85.1 235.1L85.4 216.7L85.5 247.1L85.9 236.1L85.6 224.7L85.7 233.4L85.3 227.4L85.5 253.9L85.2 239.7L85.2 221.3L85.6 240.0L85.9 231.5L85.6 252.3L85.8 225.7L86.1 215.0L85.4 235.8L85.7 232.0L85.4 231.5L85.1 216.2L85.2 239.1L85.6 250.1L85.6 218.1L85.1 245.7L85.3 230.2L85.6 256.1L85.3 239.1L85.2 233.6L85.6 245.0L85.1 240.0L85.3 230.0L85.2 241.6L85.2 230.7L85.4 219.2L85.3 253.4L85.5 232.1L85.4 229.8L85.7 238.2L85.9 221.2L85.3 223.2L85.3 230.8L85.2 230.6L85.3 235.9L85.4 245.3L85.5 231.0L85.2 239.7L85.7 240.5L85.8 225.4L85.6 237.2L85.4 226.8L85.5 244.7L85.5 239.3L85.7 235.3L85.2 223.3L85.5 236.2L85.3 228.4L85.5 241.5L85.2 234.2L85.2 228.0L85.1 243.6L85.4 241.7L86.9 229.5L85.1 245.7L86.0 232.4L85.2 232.5L85.7 236.3L85.2 228.5L85.3 231.3L85.2 233.8L85.2 248.9L85.4 248.6L85.4 232.9L85.6 249.6L85.7 234.8L85.1 238.7L85.6 243.1L85.2 237.9L85.1 256.9L85.2 237.4L85.3 224.5L85.5 246.8L85.2 231.6L85.4 232.5L85.5 209.0L85.9 244.0L85.2 242.6L85.2 242.4L85.8 243.8L85.6 250.3L85.4 234.8L85.3 243.6L86.3 228.3L85.3 232.1L85.4 244.7L85.2 238.8L85.8 223.2L85.8 238.3L85.3 233.6L85.3 227.9L85.2 239.1L85.7 231.5L85.8 221.1L85.3 225.3L85.8 250.9L85.5 221.7L85.7 237.1L86.5 240.4L85.5 240.9L85.4 224.3L85.5 232.3L86.8 236.1L85.4 242.4L85.2 229.5L85.6 224.8L85.4 244.2L85.4 245.1L85.2 238.6L85.4 229.8L85.8 238.7L85.6 236.1L85.3 242.7L85.8 224.0L85.9 236.1L85.7 233.7L85.5 225.3L85.7 237.1L85.2 235.6L85.2 231.6L85.1 238.8L85.2 222.6L86.9 234.3L92.7 237.1L88.9 236.8L87.8 244.2L108.0 218.5L86.3 221.5L97.2 234.2L86.6 239.0L87.3 253.6L96.7 237.7L92.5 225.5L87.0 242.0L101.2 223.5L88.4 221.2L98.8 255.0L86.3 237.9L87.8 241.0L95.9 237.5L92.5 249.5L98.0 234.4L87.2 245.6L94.7 223.6L98.4 219.3L92.8 246.0L92.3 246.5L87.9 239.1L94.6 234.8L97.3 233.5L90.6 227.7L92.2 247.2L103.4 236.3L86.1 239.5L91.2 237.0L88.4 243.8L86.5 239.4L88.0 241.2L97.9 221.5L86.6 239.4L91.8 253.0L91.6 228.9L87.8 233.4L85.7 243.1L90.7 242.3L91.0 239.3L85.9 220.6L90.3 238.4L89.6 223.5L88.9 226.9L109.9 233.6L101.1 228.4L125.9 231.7L85.6 263.3L85.4 242.2L89.3 240.6L127.3 216.1L97.0 226.4L91.0 224.2L96.0 227.6L89.8 224.3L89.4 228.3L85.9 233.2L85.8 226.2L94.8 220.1L87.9 222.4L85.7 239.2L85.8 235.6L85.6 244.3L99.7 240.8L89.2 231.2L88.7 240.3L88.9 221.4L88.6 254.7L85.6 245.8L89.2 232.3L93.9 222.6L91.6 237.0L87.4 218.0L85.2 228.3L88.5 241.1L103.8 231.0L94.3 228.5L91.4 242.1L95.6 223.2L96.4 234.8L86.7 230.4L91.7 226.0L105.0 234.2L88.2 225.6L88.2 251.4L87.4 229.5L110.4 246.3L98.7 221.9L88.1 239.9L93.4 222.4L102.1 218.8L105.8 231.2L85.6 241.2L89.0 222.9L103.5 241.0L89.2 227.1L86.3 236.2L94.3 236.3L85.6 240.5L106.0 213.7L95.0 247.1L120.7 230.9L86.2 231.2L91.2 224.5L86.6 219.8L89.7 221.9L90.5 238.7L86.4 231.9L87.1 224.7" fill="none" stroke="none" marker-start="url(#m)" marker-mid="url(#m)" marker-end="url(#m)"/>
<line x1="85.1" y1="235.3" x2="143.5" y2="219.8" stroke="#4570e6" stroke-width="0.9"/>
<text x="145.6" y="211.4" font-size="3.1" text-anchor="end" fill="#ff2020" stroke="#ff2020" stroke-width="0.06">Rho = 0.227</text>
<text x="145.6" y="214.4" font-size="3.1" text-anchor="end" fill="#ff2020" stroke="#ff2020" stroke-width="0.06">p = 1.03e-05</text>
<rect x="82.2" y="207.8" width="63.9" height="60.1" fill="none" stroke="#858585" stroke-width="0.8"/>
<line x1="85.1" y1="267.9" x2="85.1" y2="268.9" stroke="#555" stroke-width="0.5"/>
<text x="85.1" y="273.2" font-size="3.6" text-anchor="middle" fill="#333" stroke="#333" stroke-width="0.1" textLength="6.13" lengthAdjust="spacingAndGlyphs">0.00</text>
<line x1="100.5" y1="267.9" x2="100.5" y2="268.9" stroke="#555" stroke-width="0.5"/>
<text x="100.5" y="273.2" font-size="3.6" text-anchor="middle" fill="#333" stroke="#333" stroke-width="0.1" textLength="6.13" lengthAdjust="spacingAndGlyphs">0.03</text>
<line x1="116" y1="267.9" x2="116" y2="268.9" stroke="#555" stroke-width="0.5"/>
<text x="116" y="273.2" font-size="3.6" text-anchor="middle" fill="#333" stroke="#333" stroke-width="0.1" textLength="6.13" lengthAdjust="spacingAndGlyphs">0.06</text>
<line x1="131.6" y1="267.9" x2="131.6" y2="268.9" stroke="#555" stroke-width="0.5"/>
<text x="131.6" y="273.2" font-size="3.6" text-anchor="middle" fill="#333" stroke="#333" stroke-width="0.1" textLength="6.13" lengthAdjust="spacingAndGlyphs">0.09</text>
<text x="112.55" y="277.5" font-size="4.6" text-anchor="middle" fill="#222" stroke="#222" stroke-width="0.08" textLength="29.07" lengthAdjust="spacingAndGlyphs">Infiltration Level</text>
<rect x="190.6" y="208.5" width="6.6" height="60.1" fill="#d9d9d9" stroke="#858585" stroke-width="0.8"/>
<text x="195" y="238.95" font-size="3.1" text-anchor="middle" fill="#333" transform="rotate(-90 195 238.95)" stroke="#333" stroke-width="0.12">OV</text>
<line x1="189.6" y1="261.4" x2="190.6" y2="261.4" stroke="#555" stroke-width="0.5"/>
<text x="188.5" y="262.9" font-size="3.6" text-anchor="end" fill="#333" stroke="#333" stroke-width="0.1" textLength="1.78" lengthAdjust="spacingAndGlyphs">2</text>
<line x1="189.6" y1="248.4" x2="190.6" y2="248.4" stroke="#555" stroke-width="0.5"/>
<text x="188.5" y="249.9" font-size="3.6" text-anchor="end" fill="#333" stroke="#333" stroke-width="0.1" textLength="1.78" lengthAdjust="spacingAndGlyphs">3</text>
<line x1="189.6" y1="235.4" x2="190.6" y2="235.4" stroke="#555" stroke-width="0.5"/>
<text x="188.5" y="236.9" font-size="3.6" text-anchor="end" fill="#333" stroke="#333" stroke-width="0.1" textLength="1.78" lengthAdjust="spacingAndGlyphs">4</text>
<line x1="189.6" y1="222.4" x2="190.6" y2="222.4" stroke="#555" stroke-width="0.5"/>
<text x="188.5" y="223.9" font-size="3.6" text-anchor="end" fill="#333" stroke="#333" stroke-width="0.1" textLength="1.78" lengthAdjust="spacingAndGlyphs">5</text>
<line x1="189.6" y1="209.4" x2="190.6" y2="209.4" stroke="#555" stroke-width="0.5"/>
<text x="188.5" y="210.9" font-size="3.6" text-anchor="end" fill="#333" stroke="#333" stroke-width="0.1" textLength="1.78" lengthAdjust="spacingAndGlyphs">6</text>
<text x="184" y="238.55" font-size="4.6" text-anchor="middle" fill="#333" transform="rotate(-90 184 238.55)" stroke="#333" stroke-width="0.06" textLength="71.60" lengthAdjust="spacingAndGlyphs">SLC45A4 Expression Level (log2 TPM)</text>
<rect x="197.2" y="202.1" width="63.4" height="6.4" fill="#d9d9d9" stroke="#858585" stroke-width="0.8"/>
<text x="228.9" y="206.9" font-size="3.3" text-anchor="middle" fill="#222" stroke="#222" stroke-width="0.08">Purity</text>
<rect x="197.2" y="208.5" width="63.4" height="60.1" fill="#fff"/>
<line x1="214.75" y1="208.5" x2="214.75" y2="268.6" stroke="#f4f4f4" stroke-width="0.5"/>
<line x1="232.45" y1="208.5" x2="232.45" y2="268.6" stroke="#f4f4f4" stroke-width="0.5"/>
<line x1="250.15" y1="208.5" x2="250.15" y2="268.6" stroke="#f4f4f4" stroke-width="0.5"/>
<line x1="197.2" y1="267.9" x2="260.6" y2="267.9" stroke="#f4f4f4" stroke-width="0.5"/>
<line x1="197.2" y1="254.9" x2="260.6" y2="254.9" stroke="#f4f4f4" stroke-width="0.5"/>
<line x1="197.2" y1="241.9" x2="260.6" y2="241.9" stroke="#f4f4f4" stroke-width="0.5"/>
<line x1="197.2" y1="228.9" x2="260.6" y2="228.9" stroke="#f4f4f4" stroke-width="0.5"/>
<line x1="197.2" y1="215.9" x2="260.6" y2="215.9" stroke="#f4f4f4" stroke-width="0.5"/>
<line x1="205.9" y1="208.5" x2="205.9" y2="268.6" stroke="#ebebeb" stroke-width="0.7"/>
<line x1="223.6" y1="208.5" x2="223.6" y2="268.6" stroke="#ebebeb" stroke-width="0.7"/>
<line x1="241.3" y1="208.5" x2="241.3" y2="268.6" stroke="#ebebeb" stroke-width="0.7"/>
<line x1="259" y1="208.5" x2="259" y2="268.6" stroke="#ebebeb" stroke-width="0.7"/>
<line x1="197.2" y1="261.4" x2="260.6" y2="261.4" stroke="#ebebeb" stroke-width="0.7"/>
<line x1="197.2" y1="248.4" x2="260.6" y2="248.4" stroke="#ebebeb" stroke-width="0.7"/>
<line x1="197.2" y1="235.4" x2="260.6" y2="235.4" stroke="#ebebeb" stroke-width="0.7"/>
<line x1="197.2" y1="222.4" x2="260.6" y2="222.4" stroke="#ebebeb" stroke-width="0.7"/>
<line x1="197.2" y1="209.4" x2="260.6" y2="209.4" stroke="#ebebeb" stroke-width="0.7"/>
<polygon points="200.59,229.68 205.9,230.21 211.21,230.7 216.52,231.14 221.83,231.54 227.14,231.89 232.45,232.18 237.76,232.39 243.07,232.52 248.38,232.43 253.69,232.11 259,231.71 259,234.43 253.69,234.21 248.38,234.09 243.07,234.18 237.76,234.49 232.45,234.9 227.14,235.37 221.83,235.91 216.52,236.49 211.21,237.13 205.9,237.8 200.59,238.52" fill="#999999" fill-opacity="0.45"/>
<path d="M252.9 245.9L258.2 219.7L257.7 216.8L250.8 236.1L251.6 243.4L250.7 233.9L255.1 241.3L252.6 237.3L255.8 217.9L245.4 230.0L258.6 232.6L252.4 230.5L255.5 234.7L252.3 225.3L251.3 225.0L254.6 237.9L256.1 233.0L252.0 210.1L252.2 229.7L255.5 236.0L249.3 212.8L246.8 234.0L254.4 245.5L250.1 227.1L245.2 243.5L249.6 239.3L250.9 230.7L248.1 235.4L246.9 242.0L253.0 239.8L256.4 240.3L251.9 222.0L249.8 241.6L254.3 240.1L255.7 212.9L251.6 239.9L255.0 218.6L257.0 220.4L252.0 235.7L249.6 248.9L254.2 229.4L253.8 227.1L257.2 224.0L247.7 233.4L250.2 221.6L249.5 219.6L245.9 245.1L253.3 219.2L254.9 232.3L249.9 240.0L258.3 237.4L256.1 214.6L255.3 223.9L254.4 252.7L256.6 233.2L247.5 235.6L255.2 235.9L255.2 239.4L245.8 249.2L254.2 225.1L251.8 243.9L255.9 237.9L251.1 240.4L252.7 241.7L254.2 226.4L249.3 230.1L255.2 241.1L252.4 243.9L254.8 239.0L250.7 224.0L257.1 232.8L255.2 231.7L252.1 237.5L255.3 236.8L257.8 231.8L258.6 253.3L246.5 217.3L256.3 242.3L254.7 240.0L252.4 220.2L248.8 231.8L257.8 233.7L247.8 240.2L255.1 250.3L258.0 232.2L246.4 221.7L251.6 243.5L247.6 219.9L253.8 245.8L258.5 241.7L244.0 228.8L248.0 234.1L247.4 226.9L217.5 241.8L222.9 244.8L256.7 253.5L256.5 246.6L242.1 245.3L241.4 248.9L257.1 230.9L232.2 241.0L249.6 254.8L252.5 210.1L247.3 242.8L230.7 247.2L216.9 221.2L256.3 222.0L241.1 246.1L247.0 249.4L237.8 244.5L245.0 222.4L238.1 237.3L238.3 242.5L245.8 234.4L250.3 221.6L244.3 248.6L248.7 238.1L217.7 248.5L244.9 211.5L239.2 215.2L256.1 224.2L254.8 235.5L239.4 227.2L252.1 256.0L218.7 231.2L246.9 248.0L249.5 247.9L257.4 241.4L230.5 237.7L229.1 228.1L242.8 226.8L258.6 231.4L243.9 243.9L247.5 227.1L228.1 235.4L258.5 221.8L243.9 243.6L234.3 262.8L255.0 239.1L253.1 211.7L248.8 229.2L236.8 236.1L240.5 224.9L256.4 228.9L257.8 229.3L229.6 239.4L252.6 233.3L233.8 232.0L249.6 240.8L231.5 245.7L241.4 232.7L233.8 224.0L249.8 227.4L236.5 229.0L248.7 228.9L239.8 210.1L219.4 231.4L256.7 223.3L234.7 213.7L237.7 233.5L219.8 231.3L253.6 223.2L237.8 216.5L220.6 230.8L242.2 230.3L242.5 233.2L240.5 246.6L240.5 222.5L227.0 236.7L251.2 252.0L240.6 235.6L241.8 252.1L233.5 244.5L253.8 233.9L227.4 243.6L255.7 222.9L252.6 249.3L253.0 231.3L249.8 228.2L253.0 218.8L243.2 224.4L249.9 231.6L253.9 233.2L238.8 234.6L236.6 222.2L255.7 240.8L242.3 228.6L234.5 235.0L249.5 231.5L237.2 236.7L254.7 211.8L253.1 240.8L238.1 231.4L243.7 231.1L244.8 227.7L219.0 229.3L258.0 229.6L226.6 223.8L253.5 249.6L231.8 233.9L253.8 246.8L218.6 231.6L251.4 246.3L225.3 244.0L231.3 234.6L243.2 219.4L246.1 228.0L216.0 230.9L256.8 219.4L251.6 243.8L239.3 255.7L257.3 238.4L255.5 236.9L252.0 221.1L237.7 211.7L227.7 247.8L256.6 210.1L227.5 217.7L232.0 225.2L217.1 230.1L247.0 210.1L252.4 233.1L250.4 238.9L251.4 232.5L242.6 248.2L220.1 229.0L255.8 235.1L245.8 230.5L258.6 230.2L232.6 245.0L255.0 220.3L240.4 244.5L252.1 224.7L248.5 250.5L230.6 230.1" fill="none" stroke="none" marker-start="url(#m)" marker-mid="url(#m)" marker-end="url(#m)"/>
<line x1="200.59" y1="234.1" x2="259" y2="233.06" stroke="#4570e6" stroke-width="0.9"/>
<text x="260.1" y="212.1" font-size="3.1" text-anchor="end" fill="#ff2020" stroke="#ff2020" stroke-width="0.06">Rho = 0.038</text>
<text x="260.1" y="215.1" font-size="3.1" text-anchor="end" fill="#ff2020" stroke="#ff2020" stroke-width="0.06">p = 4.40e-01</text>
<rect x="197.2" y="208.5" width="63.4" height="60.1" fill="none" stroke="#858585" stroke-width="0.8"/>
<line x1="205.9" y1="268.6" x2="205.9" y2="269.6" stroke="#555" stroke-width="0.5"/>
<text x="205.9" y="273.9" font-size="3.6" text-anchor="middle" fill="#333" stroke="#333" stroke-width="0.1" textLength="4.38" lengthAdjust="spacingAndGlyphs">0.4</text>
<line x1="223.6" y1="268.6" x2="223.6" y2="269.6" stroke="#555" stroke-width="0.5"/>
<text x="223.6" y="273.9" font-size="3.6" text-anchor="middle" fill="#333" stroke="#333" stroke-width="0.1" textLength="4.38" lengthAdjust="spacingAndGlyphs">0.6</text>
<line x1="241.3" y1="268.6" x2="241.3" y2="269.6" stroke="#555" stroke-width="0.5"/>
<text x="241.3" y="273.9" font-size="3.6" text-anchor="middle" fill="#333" stroke="#333" stroke-width="0.1" textLength="4.38" lengthAdjust="spacingAndGlyphs">0.8</text>
<line x1="259" y1="268.6" x2="259" y2="269.6" stroke="#555" stroke-width="0.5"/>
<text x="259" y="273.9" font-size="3.6" text-anchor="middle" fill="#333" stroke="#333" stroke-width="0.1" textLength="4.38" lengthAdjust="spacingAndGlyphs">1.0</text>
<text x="226.2" y="278.3" font-size="4.6" text-anchor="middle" fill="#222" stroke="#222" stroke-width="0.08" textLength="10.61" lengthAdjust="spacingAndGlyphs">Purity</text>
<rect x="263.4" y="202.1" width="63.2" height="6.4" fill="#d9d9d9" stroke="#858585" stroke-width="0.8"/>
<svg x="263.9" y="202.1" width="62.2" height="6.4" overflow="hidden">
<text x="31.1" y="4.8" font-size="3.3" text-anchor="middle" fill="#222" stroke="#222" stroke-width="0.08">T cell CD4+ memory resting_CIBERSORT</text>
</svg>
<rect x="263.4" y="208.5" width="63.2" height="60.1" fill="#fff"/>
<line x1="275.45" y1="208.5" x2="275.45" y2="268.6" stroke="#f4f4f4" stroke-width="0.5"/>
<line x1="294.75" y1="208.5" x2="294.75" y2="268.6" stroke="#f4f4f4" stroke-width="0.5"/>
<line x1="314.15" y1="208.5" x2="314.15" y2="268.6" stroke="#f4f4f4" stroke-width="0.5"/>
<line x1="263.4" y1="267.9" x2="326.6" y2="267.9" stroke="#f4f4f4" stroke-width="0.5"/>
<line x1="263.4" y1="254.9" x2="326.6" y2="254.9" stroke="#f4f4f4" stroke-width="0.5"/>
<line x1="263.4" y1="241.9" x2="326.6" y2="241.9" stroke="#f4f4f4" stroke-width="0.5"/>
<line x1="263.4" y1="228.9" x2="326.6" y2="228.9" stroke="#f4f4f4" stroke-width="0.5"/>
<line x1="263.4" y1="215.9" x2="326.6" y2="215.9" stroke="#f4f4f4" stroke-width="0.5"/>
<line x1="265.8" y1="208.5" x2="265.8" y2="268.6" stroke="#ebebeb" stroke-width="0.7"/>
<line x1="285.1" y1="208.5" x2="285.1" y2="268.6" stroke="#ebebeb" stroke-width="0.7"/>
<line x1="304.5" y1="208.5" x2="304.5" y2="268.6" stroke="#ebebeb" stroke-width="0.7"/>
<line x1="323.7" y1="208.5" x2="323.7" y2="268.6" stroke="#ebebeb" stroke-width="0.7"/>
<line x1="263.4" y1="261.4" x2="326.6" y2="261.4" stroke="#ebebeb" stroke-width="0.7"/>
<line x1="263.4" y1="248.4" x2="326.6" y2="248.4" stroke="#ebebeb" stroke-width="0.7"/>
<line x1="263.4" y1="235.4" x2="326.6" y2="235.4" stroke="#ebebeb" stroke-width="0.7"/>
<line x1="263.4" y1="222.4" x2="326.6" y2="222.4" stroke="#ebebeb" stroke-width="0.7"/>
<line x1="263.4" y1="209.4" x2="326.6" y2="209.4" stroke="#ebebeb" stroke-width="0.7"/>
<polygon points="265.8,234.6 269.61,234.46 273.43,234.25 277.24,233.96 281.05,233.58 284.87,233.13 288.68,232.45 292.49,231.71 296.31,230.96 300.12,230.19 303.93,229.41 307.75,228.62 311.56,227.83 315.37,227.02 319.19,226.21 323,225.4 323,232.6 319.19,232.77 315.37,232.95 311.56,233.13 307.75,233.33 303.93,233.52 300.12,233.73 296.31,233.95 292.49,234.18 288.68,234.43 284.87,234.73 281.05,235.27 277.24,235.88 273.43,236.58 269.61,237.35 265.8,238.2" fill="#999999" fill-opacity="0.45"/>
<path d="M266.1 236.3L266.6 245.5L266.0 247.3L266.1 238.3L266.5 225.2L287.8 227.4L277.1 226.6L273.2 233.8L280.4 217.9L288.9 234.5L285.0 240.0L268.8 234.6L274.6 239.6L279.9 225.8L273.6 221.8L283.8 228.1L288.3 244.3L274.1 245.0L310.4 226.4L297.7 243.6L303.2 228.5L313.0 244.4L280.1 239.1L289.6 229.1L280.8 241.9L276.2 227.8L292.2 224.2L296.6 218.8L296.4 234.9L308.0 230.4L284.9 233.2L271.0 231.9L297.1 245.8L276.2 231.1L295.0 225.9L275.7 246.8L295.6 245.8L276.0 238.3L304.3 215.1L267.5 230.6L274.2 241.1L289.8 233.5L276.4 249.6L274.5 222.5L276.8 241.3L292.5 227.1L274.3 247.7L270.7 235.1L276.1 244.7L278.6 228.7L272.2 222.4L281.9 223.9L297.2 226.7L296.0 222.9L282.6 245.5L272.5 248.1L301.5 234.3L291.7 223.4L279.1 233.6L294.8 226.2L280.3 248.1L289.0 236.4L275.4 239.7L285.4 230.1L302.8 212.8L281.7 227.1L273.8 224.9L268.4 239.5L269.7 236.8L275.4 227.7L280.7 230.8L289.7 248.0L286.6 224.7L277.2 226.3L284.2 231.9L281.6 227.8L284.6 229.9L277.9 239.8L291.5 249.3L277.0 218.3L267.3 236.0L290.7 233.6L321.8 228.4L302.1 229.9L293.9 229.6L286.5 243.1L292.4 228.6L279.9 233.4L273.5 235.4L284.3 235.0L297.7 230.7L271.3 245.0L275.8 235.0L283.4 235.8L294.6 232.2L294.9 223.3L293.0 225.1L277.9 225.0L289.3 235.2L315.2 223.3L285.3 223.9L286.9 235.9L302.6 236.6L275.4 218.7L301.0 247.7L280.3 234.8L278.9 233.7L278.3 244.8L293.2 233.5L277.4 229.2L291.2 253.6L282.8 224.1L281.7 233.4L286.0 241.7L282.4 224.2L288.6 232.5L284.1 237.6L294.6 255.2L272.5 227.2L288.5 233.0L287.9 239.7L273.2 236.2L285.3 222.6L286.4 237.5L269.9 236.9L270.9 239.9L282.1 244.9L285.7 243.3L268.9 239.8L275.4 238.1L277.6 224.6L280.0 233.3L278.1 236.9L273.9 231.6L285.6 234.8L287.8 225.8L295.1 247.0L273.4 255.6L281.5 230.7L289.9 237.0L294.1 230.5L293.6 244.6L271.1 239.8L272.0 236.3L281.6 232.3L278.4 236.0L267.7 226.8L319.0 235.8L282.4 227.6L309.3 235.8L283.5 235.3L289.0 243.6L290.3 233.1L283.1 243.7L276.7 226.4L281.2 240.1L304.5 229.3L272.0 237.4L276.0 235.7L282.4 243.0L284.4 215.1L283.0 237.2L268.5 222.1L287.5 244.9L272.1 217.1L279.1 225.3L288.7 217.8L288.0 248.9L297.9 220.2L284.1 235.1L300.7 226.9L274.3 218.5L286.2 230.6L279.0 240.9L280.0 232.8L295.1 241.4L314.3 226.7L321.8 229.2L288.2 229.9L267.1 239.5L284.5 251.8L272.0 239.0L280.1 236.4L279.3 228.9L283.6 227.0L294.3 246.4L289.5 222.9L296.7 223.9L272.1 234.7L300.7 227.9L283.7 252.4L282.9 212.0L279.4 238.0L316.2 236.6L277.1 224.4L276.2 229.0L291.7 237.1L283.1 249.4L273.6 226.8L286.7 218.9L276.0 244.2L293.4 247.1L272.0 232.5L283.7 213.4L281.6 247.9L295.0 230.8L282.9 244.7L288.9 233.0L283.2 230.6L279.5 230.4L274.3 249.1L287.6 247.0L283.2 214.1L300.2 223.2L277.1 251.6L284.0 230.6L288.0 220.8L278.1 234.8L279.8 233.6L280.3 233.6L287.3 229.1L306.1 228.3L288.8 229.2L271.8 238.7L275.3 227.6L282.3 231.6L291.4 231.7L285.1 246.1L290.3 236.7L276.3 234.0L321.8 234.2L280.1 238.4L271.7 245.8L283.2 238.9L309.6 247.5L275.0 247.8L289.9 232.9L288.0 229.6L304.9 239.6L286.4 238.6L293.7 231.9L286.2 219.9L288.4 216.3L275.3 238.4L274.0 242.6L285.4 241.4L282.8 222.2L284.4 243.7L299.4 227.1L272.9 239.1" fill="none" stroke="none" marker-start="url(#m)" marker-mid="url(#m)" marker-end="url(#m)"/>
<line x1="265.8" y1="236.4" x2="323" y2="229" stroke="#4570e6" stroke-width="0.9"/>
<text x="326.1" y="212.1" font-size="3.1" text-anchor="end" fill="#ff2020" stroke="#ff2020" stroke-width="0.06">Rho = 0.158</text>
<text x="326.1" y="215.1" font-size="3.1" text-anchor="end" fill="#ff2020" stroke="#ff2020" stroke-width="0.06">p = 1.25e-02</text>
<rect x="263.4" y="208.5" width="63.2" height="60.1" fill="none" stroke="#858585" stroke-width="0.8"/>
<line x1="265.8" y1="268.6" x2="265.8" y2="269.6" stroke="#555" stroke-width="0.5"/>
<text x="265.8" y="273.9" font-size="3.6" text-anchor="middle" fill="#333" stroke="#333" stroke-width="0.1" textLength="4.38" lengthAdjust="spacingAndGlyphs">0.0</text>
<line x1="285.1" y1="268.6" x2="285.1" y2="269.6" stroke="#555" stroke-width="0.5"/>
<text x="285.1" y="273.9" font-size="3.6" text-anchor="middle" fill="#333" stroke="#333" stroke-width="0.1" textLength="4.38" lengthAdjust="spacingAndGlyphs">0.1</text>
<line x1="304.5" y1="268.6" x2="304.5" y2="269.6" stroke="#555" stroke-width="0.5"/>
<text x="304.5" y="273.9" font-size="3.6" text-anchor="middle" fill="#333" stroke="#333" stroke-width="0.1" textLength="4.38" lengthAdjust="spacingAndGlyphs">0.2</text>
<line x1="323.7" y1="268.6" x2="323.7" y2="269.6" stroke="#555" stroke-width="0.5"/>
<text x="323.7" y="273.9" font-size="3.6" text-anchor="middle" fill="#333" stroke="#333" stroke-width="0.1" textLength="4.38" lengthAdjust="spacingAndGlyphs">0.3</text>
<text x="293.4" y="278.2" font-size="4.6" text-anchor="middle" fill="#222" stroke="#222" stroke-width="0.08" textLength="29.07" lengthAdjust="spacingAndGlyphs">Infiltration Level</text>
<rect x="9.2" y="295.4" width="6.6" height="60.5" fill="#d9d9d9" stroke="#858585" stroke-width="0.8"/>
<text x="13.6" y="326.05" font-size="3.1" text-anchor="middle" fill="#333" transform="rotate(-90 13.6 326.05)" stroke="#333" stroke-width="0.12">OV</text>
<line x1="8.2" y1="348.3" x2="9.2" y2="348.3" stroke="#555" stroke-width="0.5"/>
<text x="7.1" y="349.8" font-size="3.6" text-anchor="end" fill="#333" stroke="#333" stroke-width="0.1" textLength="1.78" lengthAdjust="spacingAndGlyphs">2</text>
<line x1="8.2" y1="335.35" x2="9.2" y2="335.35" stroke="#555" stroke-width="0.5"/>
<text x="7.1" y="336.85" font-size="3.6" text-anchor="end" fill="#333" stroke="#333" stroke-width="0.1" textLength="1.78" lengthAdjust="spacingAndGlyphs">3</text>
<line x1="8.2" y1="322.4" x2="9.2" y2="322.4" stroke="#555" stroke-width="0.5"/>
<text x="7.1" y="323.9" font-size="3.6" text-anchor="end" fill="#333" stroke="#333" stroke-width="0.1" textLength="1.78" lengthAdjust="spacingAndGlyphs">4</text>
<line x1="8.2" y1="309.45" x2="9.2" y2="309.45" stroke="#555" stroke-width="0.5"/>
<text x="7.1" y="310.95" font-size="3.6" text-anchor="end" fill="#333" stroke="#333" stroke-width="0.1" textLength="1.78" lengthAdjust="spacingAndGlyphs">5</text>
<line x1="8.2" y1="296.5" x2="9.2" y2="296.5" stroke="#555" stroke-width="0.5"/>
<text x="7.1" y="298" font-size="3.6" text-anchor="end" fill="#333" stroke="#333" stroke-width="0.1" textLength="1.78" lengthAdjust="spacingAndGlyphs">6</text>
<text x="2.6" y="325.65" font-size="4.6" text-anchor="middle" fill="#333" transform="rotate(-90 2.6 325.65)" stroke="#333" stroke-width="0.06" textLength="71.60" lengthAdjust="spacingAndGlyphs">SLC45A4 Expression Level (log2 TPM)</text>
<rect x="15.8" y="288.7" width="63.9" height="6.7" fill="#d9d9d9" stroke="#858585" stroke-width="0.8"/>
<text x="47.75" y="293.65" font-size="3.3" text-anchor="middle" fill="#222" stroke="#222" stroke-width="0.08">Purity</text>
<rect x="15.8" y="295.4" width="63.9" height="60.5" fill="#fff"/>
<line x1="33.35" y1="295.4" x2="33.35" y2="355.9" stroke="#f4f4f4" stroke-width="0.5"/>
<line x1="51.05" y1="295.4" x2="51.05" y2="355.9" stroke="#f4f4f4" stroke-width="0.5"/>
<line x1="68.75" y1="295.4" x2="68.75" y2="355.9" stroke="#f4f4f4" stroke-width="0.5"/>
<line x1="15.8" y1="354.77" x2="79.7" y2="354.77" stroke="#f4f4f4" stroke-width="0.5"/>
<line x1="15.8" y1="341.82" x2="79.7" y2="341.82" stroke="#f4f4f4" stroke-width="0.5"/>
<line x1="15.8" y1="328.88" x2="79.7" y2="328.88" stroke="#f4f4f4" stroke-width="0.5"/>
<line x1="15.8" y1="315.93" x2="79.7" y2="315.93" stroke="#f4f4f4" stroke-width="0.5"/>
<line x1="15.8" y1="302.98" x2="79.7" y2="302.98" stroke="#f4f4f4" stroke-width="0.5"/>
<line x1="24.5" y1="295.4" x2="24.5" y2="355.9" stroke="#ebebeb" stroke-width="0.7"/>
<line x1="42.2" y1="295.4" x2="42.2" y2="355.9" stroke="#ebebeb" stroke-width="0.7"/>
<line x1="59.9" y1="295.4" x2="59.9" y2="355.9" stroke="#ebebeb" stroke-width="0.7"/>
<line x1="77.6" y1="295.4" x2="77.6" y2="355.9" stroke="#ebebeb" stroke-width="0.7"/>
<line x1="15.8" y1="348.3" x2="79.7" y2="348.3" stroke="#ebebeb" stroke-width="0.7"/>
<line x1="15.8" y1="335.35" x2="79.7" y2="335.35" stroke="#ebebeb" stroke-width="0.7"/>
<line x1="15.8" y1="322.4" x2="79.7" y2="322.4" stroke="#ebebeb" stroke-width="0.7"/>
<line x1="15.8" y1="309.45" x2="79.7" y2="309.45" stroke="#ebebeb" stroke-width="0.7"/>
<line x1="15.8" y1="296.5" x2="79.7" y2="296.5" stroke="#ebebeb" stroke-width="0.7"/>
<polygon points="19.19,316.7 24.5,317.23 29.81,317.72 35.12,318.16 40.43,318.56 45.74,318.9 51.05,319.19 56.36,319.41 61.67,319.53 66.98,319.44 72.29,319.13 77.6,318.72 77.6,321.43 72.29,321.22 66.98,321.09 61.67,321.19 56.36,321.5 51.05,321.9 45.74,322.37 40.43,322.91 35.12,323.49 29.81,324.12 24.5,324.79 19.19,325.51" fill="#999999" fill-opacity="0.45"/>
<path d="M71.5 332.9L76.8 306.7L76.3 303.9L69.4 323.1L70.2 330.3L69.3 320.9L73.7 328.3L71.2 324.3L74.4 305.0L64.0 317.0L77.2 319.6L71.0 317.5L74.1 321.7L70.9 312.4L69.9 312.0L73.2 324.9L74.7 320.0L70.6 297.1L70.8 316.7L74.1 323.0L67.9 299.9L65.4 321.0L73.0 332.5L68.7 314.1L63.8 330.4L68.2 326.3L69.5 317.7L66.7 322.4L65.5 329.0L71.6 326.8L75.0 327.3L70.5 309.0L68.4 328.6L72.9 327.0L74.3 300.0L70.2 326.8L73.6 305.7L75.6 307.5L70.6 322.7L68.2 335.8L72.8 316.4L72.4 314.1L75.8 311.1L66.3 320.4L68.8 308.6L68.1 306.7L64.5 332.0L71.9 306.3L73.5 319.3L68.5 327.0L76.9 324.4L74.7 301.7L73.9 310.9L73.0 339.6L75.2 320.2L66.1 322.6L73.8 322.9L73.8 326.4L64.4 336.2L72.8 312.2L70.4 330.8L74.5 324.9L69.7 327.3L71.3 328.6L72.8 313.4L67.9 317.1L73.8 328.1L71.0 330.9L73.4 326.0L69.3 311.1L75.7 319.8L73.8 318.7L70.7 324.5L73.9 323.8L76.4 318.9L77.2 340.2L65.1 304.4L74.9 329.3L73.3 327.0L71.0 307.2L67.4 318.8L76.4 320.7L66.4 327.1L73.7 337.3L76.6 319.2L65.0 308.7L70.2 330.4L66.2 307.0L72.4 332.8L77.1 328.7L62.6 315.9L66.6 321.1L66.0 313.9L36.1 328.8L41.5 331.8L75.3 340.4L75.1 333.6L60.7 332.3L60.0 335.9L75.7 317.9L50.8 328.0L68.2 341.7L71.1 297.1L65.9 329.8L49.3 334.1L35.5 308.3L74.9 309.0L59.7 333.0L65.6 336.4L56.4 331.5L63.6 309.4L56.7 324.3L56.9 329.5L64.4 321.4L68.9 308.6L62.9 335.5L67.3 325.1L36.3 335.4L63.5 298.6L57.8 302.3L74.7 311.3L73.4 322.5L58.0 314.3L70.7 342.9L37.3 318.2L65.5 334.9L68.1 334.8L76.0 328.4L49.1 324.7L47.7 315.2L61.4 313.8L77.2 318.4L62.5 330.9L66.1 314.1L46.7 322.4L77.1 308.9L62.5 330.6L52.9 349.7L73.6 326.0L71.7 298.8L67.4 316.2L55.4 323.1L59.1 312.0L75.0 315.9L76.4 316.3L48.2 326.4L71.2 320.3L52.4 319.0L68.2 327.8L50.1 332.7L60.0 319.7L52.4 311.1L68.4 314.4L55.1 316.0L67.3 315.9L58.4 297.1L38.0 318.4L75.3 310.3L53.3 300.8L56.3 320.6L38.4 318.4L72.2 310.3L56.4 303.6L39.2 317.9L60.8 317.3L61.1 320.2L59.1 333.6L59.1 309.5L45.6 323.7L69.8 338.9L59.2 322.6L60.4 339.0L52.1 331.5L72.4 320.9L46.0 330.6L74.3 310.0L71.2 336.3L71.6 318.3L68.4 315.3L71.6 305.9L61.8 311.5L68.5 318.6L72.5 320.2L57.4 321.6L55.2 309.2L74.3 327.8L60.9 315.6L53.1 322.0L68.1 318.5L55.8 323.7L73.3 298.9L71.7 327.8L56.7 318.4L62.3 318.1L63.4 314.7L37.6 316.3L76.6 316.6L45.2 310.8L72.1 336.6L50.4 320.9L72.4 333.8L37.2 318.6L70.0 333.2L43.9 330.9L49.9 321.6L61.8 306.5L64.7 315.0L34.6 317.9L75.4 306.4L70.2 330.8L57.9 342.6L75.9 325.4L74.1 323.8L70.6 308.2L56.3 298.8L46.3 334.7L75.2 297.1L46.1 304.8L50.6 312.3L35.7 317.1L65.6 297.1L71.0 320.1L69.0 325.9L70.0 319.5L61.2 335.1L38.7 316.1L74.4 322.1L64.4 317.5L77.2 317.2L51.2 331.9L73.6 307.3L59.0 331.5L70.7 311.8L67.1 337.5L49.2 317.1" fill="none" stroke="none" marker-start="url(#m)" marker-mid="url(#m)" marker-end="url(#m)"/>
<line x1="19.19" y1="321.11" x2="77.6" y2="320.07" stroke="#4570e6" stroke-width="0.9"/>
<text x="79.2" y="299" font-size="3.1" text-anchor="end" fill="#ff2020" stroke="#ff2020" stroke-width="0.06">Rho = 0.038</text>
<text x="79.2" y="302" font-size="3.1" text-anchor="end" fill="#ff2020" stroke="#ff2020" stroke-width="0.06">p = 4.40e-01</text>
<rect x="15.8" y="295.4" width="63.9" height="60.5" fill="none" stroke="#858585" stroke-width="0.8"/>
<line x1="24.5" y1="355.9" x2="24.5" y2="356.9" stroke="#555" stroke-width="0.5"/>
<text x="24.5" y="361.2" font-size="3.6" text-anchor="middle" fill="#333" stroke="#333" stroke-width="0.1" textLength="4.38" lengthAdjust="spacingAndGlyphs">0.4</text>
<line x1="42.2" y1="355.9" x2="42.2" y2="356.9" stroke="#555" stroke-width="0.5"/>
<text x="42.2" y="361.2" font-size="3.6" text-anchor="middle" fill="#333" stroke="#333" stroke-width="0.1" textLength="4.38" lengthAdjust="spacingAndGlyphs">0.6</text>
<line x1="59.9" y1="355.9" x2="59.9" y2="356.9" stroke="#555" stroke-width="0.5"/>
<text x="59.9" y="361.2" font-size="3.6" text-anchor="middle" fill="#333" stroke="#333" stroke-width="0.1" textLength="4.38" lengthAdjust="spacingAndGlyphs">0.8</text>
<line x1="77.6" y1="355.9" x2="77.6" y2="356.9" stroke="#555" stroke-width="0.5"/>
<text x="77.6" y="361.2" font-size="3.6" text-anchor="middle" fill="#333" stroke="#333" stroke-width="0.1" textLength="4.38" lengthAdjust="spacingAndGlyphs">1.0</text>
<text x="45.05" y="365.6" font-size="4.6" text-anchor="middle" fill="#222" stroke="#222" stroke-width="0.08" textLength="10.61" lengthAdjust="spacingAndGlyphs">Purity</text>
<rect x="82.2" y="288.7" width="63.9" height="6.7" fill="#d9d9d9" stroke="#858585" stroke-width="0.8"/>
<svg x="82.7" y="288.7" width="62.9" height="6.7" overflow="hidden">
<text x="31.45" y="4.95" font-size="3.3" text-anchor="middle" fill="#222" stroke="#222" stroke-width="0.08">T cell CD4+ Th2_XCELL</text>
</svg>
<rect x="82.2" y="295.4" width="63.9" height="60.5" fill="#fff"/>
<line x1="92.55" y1="295.4" x2="92.55" y2="355.9" stroke="#f4f4f4" stroke-width="0.5"/>
<line x1="108.25" y1="295.4" x2="108.25" y2="355.9" stroke="#f4f4f4" stroke-width="0.5"/>
<line x1="123.75" y1="295.4" x2="123.75" y2="355.9" stroke="#f4f4f4" stroke-width="0.5"/>
<line x1="139.35" y1="295.4" x2="139.35" y2="355.9" stroke="#f4f4f4" stroke-width="0.5"/>
<line x1="82.2" y1="354.77" x2="146.1" y2="354.77" stroke="#f4f4f4" stroke-width="0.5"/>
<line x1="82.2" y1="341.82" x2="146.1" y2="341.82" stroke="#f4f4f4" stroke-width="0.5"/>
<line x1="82.2" y1="328.88" x2="146.1" y2="328.88" stroke="#f4f4f4" stroke-width="0.5"/>
<line x1="82.2" y1="315.93" x2="146.1" y2="315.93" stroke="#f4f4f4" stroke-width="0.5"/>
<line x1="82.2" y1="302.98" x2="146.1" y2="302.98" stroke="#f4f4f4" stroke-width="0.5"/>
<line x1="84.7" y1="295.4" x2="84.7" y2="355.9" stroke="#ebebeb" stroke-width="0.7"/>
<line x1="100.4" y1="295.4" x2="100.4" y2="355.9" stroke="#ebebeb" stroke-width="0.7"/>
<line x1="115.9" y1="295.4" x2="115.9" y2="355.9" stroke="#ebebeb" stroke-width="0.7"/>
<line x1="131.5" y1="295.4" x2="131.5" y2="355.9" stroke="#ebebeb" stroke-width="0.7"/>
<line x1="82.2" y1="348.3" x2="146.1" y2="348.3" stroke="#ebebeb" stroke-width="0.7"/>
<line x1="82.2" y1="335.35" x2="146.1" y2="335.35" stroke="#ebebeb" stroke-width="0.7"/>
<line x1="82.2" y1="322.4" x2="146.1" y2="322.4" stroke="#ebebeb" stroke-width="0.7"/>
<line x1="82.2" y1="309.45" x2="146.1" y2="309.45" stroke="#ebebeb" stroke-width="0.7"/>
<line x1="82.2" y1="296.5" x2="146.1" y2="296.5" stroke="#ebebeb" stroke-width="0.7"/>
<polygon points="84.7,313.8 88.55,315.37 92.41,316.82 96.26,318.14 100.11,319.33 103.97,320.23 107.82,321.09 111.67,321.92 115.53,322.74 119.38,323.54 123.23,324.34 127.09,325.12 130.94,325.9 134.79,326.67 138.65,327.44 142.5,328.2 142.5,337 138.65,335.49 134.79,333.99 130.94,332.5 127.09,331.01 123.23,329.53 119.38,328.06 115.53,326.6 111.67,325.15 107.82,323.71 103.97,322.3 100.11,320.94 96.26,319.86 92.41,318.91 88.55,318.09 84.7,317.4" fill="#999999" fill-opacity="0.45"/>
<path d="M84.9 317.7L85.1 327.1L85.0 315.5L85.7 315.0L85.2 310.6L85.6 331.1L84.9 325.6L84.7 314.7L85.2 302.7L84.9 308.3L85.0 321.1L84.9 308.9L84.9 324.0L85.0 319.1L84.9 318.4L85.2 321.8L84.7 320.2L84.7 307.6L84.9 312.6L85.1 337.5L126.8 316.7L94.4 314.0L90.3 327.2L93.7 316.8L101.3 312.9L91.4 305.2L89.9 322.1L87.3 325.9L132.6 342.7L103.7 321.7L88.8 326.5L102.8 311.3L102.0 322.3L113.3 317.7L89.9 318.7L113.4 331.0L107.1 332.2L88.8 307.6L99.0 331.6L99.5 315.5L100.5 310.7L85.7 314.3L99.8 306.4L93.8 318.3L107.3 325.0L99.3 318.0L92.2 322.8L89.7 314.1L94.6 318.6L100.1 306.7L96.5 319.5L87.8 308.6L120.5 321.9L107.6 321.5L97.8 321.2L99.2 304.5L103.5 306.6L99.7 317.2L95.2 323.1L112.2 327.0L95.7 327.1L94.5 330.6L97.7 324.1L96.2 318.8L99.0 310.2L141.7 323.5L92.9 313.6L102.5 323.3L108.2 324.6L87.6 316.5L94.8 317.1L87.4 322.3L91.5 319.5L87.6 319.2L99.3 322.8L92.2 312.7L110.5 313.6L94.5 323.1L93.7 322.1L92.2 315.7L90.7 313.5L110.6 344.5L88.1 309.5L113.5 322.0L95.3 321.2L88.4 305.9L98.1 320.6L91.9 334.5L91.6 326.3L114.4 330.2L104.4 326.9L95.1 319.7L95.0 327.6L92.9 316.5L120.2 322.1L90.3 318.2L90.4 325.7L98.5 322.7L111.8 329.9L87.6 297.6L95.1 329.8L94.2 340.2L104.2 333.8L136.5 327.9L107.0 314.3L93.0 320.6L90.8 308.2L85.1 322.5L97.6 314.5L108.0 331.4L105.1 334.3L92.4 298.9L120.6 328.9L88.8 310.3L111.2 310.2L102.5 315.1L92.1 315.7L110.7 332.9L89.1 302.7L90.1 327.0L100.7 339.1L127.5 333.8L108.3 327.6L91.7 317.5L122.7 315.8L141.7 337.4L100.2 323.8L98.1 326.4L89.5 341.0L89.3 323.7L87.7 320.4L89.6 331.6L87.0 303.7L94.1 307.7L90.9 313.9L93.3 312.0L101.6 327.0L89.1 313.9L91.0 333.7L98.0 333.7L141.7 339.5L107.7 318.8L85.9 321.7L105.0 329.1L102.5 310.9L94.2 321.7L90.1 323.8L100.6 322.3L127.0 342.7L109.5 334.2L93.9 310.6L93.9 319.5L103.2 313.3L102.3 326.2L117.6 317.2L97.3 327.9L94.9 322.2L91.9 326.8L93.6 316.9L91.4 304.0L90.7 333.8L86.8 314.6L91.6 330.5L102.4 324.8L112.9 330.2L96.2 336.0L125.9 330.9L119.7 338.9L85.8 302.1L98.9 327.9L98.5 317.4L104.6 320.2L113.6 324.2L93.4 321.4L110.7 338.7L86.2 298.8L104.7 321.9L88.4 310.0L88.4 327.6L109.0 318.8L91.4 321.8L104.9 317.8L96.3 325.3L100.3 329.6L93.7 314.5L86.6 316.6L115.6 311.5L115.7 327.6L98.5 327.6L96.2 313.8L91.1 327.9L89.8 297.8L89.7 299.8L87.9 303.6L95.8 314.4L115.0 324.7L93.1 317.3L102.6 320.2L103.3 327.8L91.1 313.1L105.7 310.0L96.6 307.5L120.0 345.7L117.1 303.2L94.8 316.9L94.9 332.2L125.3 332.1L89.9 309.4L129.7 328.9L116.4 333.0L93.2 329.4L96.4 310.7L109.2 329.9L88.9 319.2L89.7 327.4L109.3 335.8L101.2 317.3L102.3 307.2L141.7 336.1L100.1 336.7L93.3 324.5L111.7 325.7L105.0 344.0L93.2 308.4L89.9 325.5L102.8 315.6L93.7 318.7L90.8 318.2L91.8 331.8L118.3 316.7L95.7 313.8L100.2 305.3L87.6 321.0L88.1 312.3L86.4 320.0L98.6 309.7L91.8 314.3L85.7 325.6L139.5 330.1L98.1 325.4L90.9 322.3L111.4 320.2L102.4 306.3L101.6 329.8L121.0 327.9L95.4 327.9L107.3 303.5L90.2 301.8L89.0 296.9L89.4 308.8" fill="none" stroke="none" marker-start="url(#m)" marker-mid="url(#m)" marker-end="url(#m)"/>
<line x1="84.7" y1="315.6" x2="142.5" y2="332.6" stroke="#4570e6" stroke-width="0.9"/>
<text x="145.6" y="299" font-size="3.1" text-anchor="end" fill="#ff2020" stroke="#ff2020" stroke-width="0.06">Rho = -0.288</text>
<text x="145.6" y="302" font-size="3.1" text-anchor="end" fill="#ff2020" stroke="#ff2020" stroke-width="0.06">p = 3.49e-08</text>
<rect x="82.2" y="295.4" width="63.9" height="60.5" fill="none" stroke="#858585" stroke-width="0.8"/>
<line x1="84.7" y1="355.9" x2="84.7" y2="356.9" stroke="#555" stroke-width="0.5"/>
<text x="84.7" y="361.2" font-size="3.6" text-anchor="middle" fill="#333" stroke="#333" stroke-width="0.1" textLength="4.38" lengthAdjust="spacingAndGlyphs">0.0</text>
<line x1="100.4" y1="355.9" x2="100.4" y2="356.9" stroke="#555" stroke-width="0.5"/>
<text x="100.4" y="361.2" font-size="3.6" text-anchor="middle" fill="#333" stroke="#333" stroke-width="0.1" textLength="4.38" lengthAdjust="spacingAndGlyphs">0.1</text>
<line x1="115.9" y1="355.9" x2="115.9" y2="356.9" stroke="#555" stroke-width="0.5"/>
<text x="115.9" y="361.2" font-size="3.6" text-anchor="middle" fill="#333" stroke="#333" stroke-width="0.1" textLength="4.38" lengthAdjust="spacingAndGlyphs">0.2</text>
<line x1="131.5" y1="355.9" x2="131.5" y2="356.9" stroke="#555" stroke-width="0.5"/>
<text x="131.5" y="361.2" font-size="3.6" text-anchor="middle" fill="#333" stroke="#333" stroke-width="0.1" textLength="4.38" lengthAdjust="spacingAndGlyphs">0.3</text>
<text x="112.55" y="365.5" font-size="4.6" text-anchor="middle" fill="#222" stroke="#222" stroke-width="0.08" textLength="29.07" lengthAdjust="spacingAndGlyphs">Infiltration Level</text>
<rect x="190.6" y="295.4" width="6.6" height="60.5" fill="#d9d9d9" stroke="#858585" stroke-width="0.8"/>
<text x="195" y="326.05" font-size="3.1" text-anchor="middle" fill="#333" transform="rotate(-90 195 326.05)" stroke="#333" stroke-width="0.12">OV</text>
<line x1="189.6" y1="348.3" x2="190.6" y2="348.3" stroke="#555" stroke-width="0.5"/>
<text x="188.5" y="349.8" font-size="3.6" text-anchor="end" fill="#333" stroke="#333" stroke-width="0.1" textLength="1.78" lengthAdjust="spacingAndGlyphs">2</text>
<line x1="189.6" y1="335.35" x2="190.6" y2="335.35" stroke="#555" stroke-width="0.5"/>
<text x="188.5" y="336.85" font-size="3.6" text-anchor="end" fill="#333" stroke="#333" stroke-width="0.1" textLength="1.78" lengthAdjust="spacingAndGlyphs">3</text>
<line x1="189.6" y1="322.4" x2="190.6" y2="322.4" stroke="#555" stroke-width="0.5"/>
<text x="188.5" y="323.9" font-size="3.6" text-anchor="end" fill="#333" stroke="#333" stroke-width="0.1" textLength="1.78" lengthAdjust="spacingAndGlyphs">4</text>
<line x1="189.6" y1="309.45" x2="190.6" y2="309.45" stroke="#555" stroke-width="0.5"/>
<text x="188.5" y="310.95" font-size="3.6" text-anchor="end" fill="#333" stroke="#333" stroke-width="0.1" textLength="1.78" lengthAdjust="spacingAndGlyphs">5</text>
<line x1="189.6" y1="296.5" x2="190.6" y2="296.5" stroke="#555" stroke-width="0.5"/>
<text x="188.5" y="298" font-size="3.6" text-anchor="end" fill="#333" stroke="#333" stroke-width="0.1" textLength="1.78" lengthAdjust="spacingAndGlyphs">6</text>
<text x="184" y="325.65" font-size="4.6" text-anchor="middle" fill="#333" transform="rotate(-90 184 325.65)" stroke="#333" stroke-width="0.06" textLength="71.60" lengthAdjust="spacingAndGlyphs">SLC45A4 Expression Level (log2 TPM)</text>
<rect x="197.2" y="288.7" width="63.4" height="6.7" fill="#d9d9d9" stroke="#858585" stroke-width="0.8"/>
<text x="228.9" y="293.65" font-size="3.3" text-anchor="middle" fill="#222" stroke="#222" stroke-width="0.08">Purity</text>
<rect x="197.2" y="295.4" width="63.4" height="60.5" fill="#fff"/>
<line x1="214.75" y1="295.4" x2="214.75" y2="355.9" stroke="#f4f4f4" stroke-width="0.5"/>
<line x1="232.45" y1="295.4" x2="232.45" y2="355.9" stroke="#f4f4f4" stroke-width="0.5"/>
<line x1="250.15" y1="295.4" x2="250.15" y2="355.9" stroke="#f4f4f4" stroke-width="0.5"/>
<line x1="197.2" y1="354.77" x2="260.6" y2="354.77" stroke="#f4f4f4" stroke-width="0.5"/>
<line x1="197.2" y1="341.82" x2="260.6" y2="341.82" stroke="#f4f4f4" stroke-width="0.5"/>
<line x1="197.2" y1="328.88" x2="260.6" y2="328.88" stroke="#f4f4f4" stroke-width="0.5"/>
<line x1="197.2" y1="315.93" x2="260.6" y2="315.93" stroke="#f4f4f4" stroke-width="0.5"/>
<line x1="197.2" y1="302.98" x2="260.6" y2="302.98" stroke="#f4f4f4" stroke-width="0.5"/>
<line x1="205.9" y1="295.4" x2="205.9" y2="355.9" stroke="#ebebeb" stroke-width="0.7"/>
<line x1="223.6" y1="295.4" x2="223.6" y2="355.9" stroke="#ebebeb" stroke-width="0.7"/>
<line x1="241.3" y1="295.4" x2="241.3" y2="355.9" stroke="#ebebeb" stroke-width="0.7"/>
<line x1="259" y1="295.4" x2="259" y2="355.9" stroke="#ebebeb" stroke-width="0.7"/>
<line x1="197.2" y1="348.3" x2="260.6" y2="348.3" stroke="#ebebeb" stroke-width="0.7"/>
<line x1="197.2" y1="335.35" x2="260.6" y2="335.35" stroke="#ebebeb" stroke-width="0.7"/>
<line x1="197.2" y1="322.4" x2="260.6" y2="322.4" stroke="#ebebeb" stroke-width="0.7"/>
<line x1="197.2" y1="309.45" x2="260.6" y2="309.45" stroke="#ebebeb" stroke-width="0.7"/>
<line x1="197.2" y1="296.5" x2="260.6" y2="296.5" stroke="#ebebeb" stroke-width="0.7"/>
<polygon points="200.59,316.7 205.9,317.23 211.21,317.72 216.52,318.16 221.83,318.56 227.14,318.9 232.45,319.19 237.76,319.41 243.07,319.53 248.38,319.44 253.69,319.13 259,318.72 259,321.43 253.69,321.22 248.38,321.09 243.07,321.19 237.76,321.5 232.45,321.9 227.14,322.37 221.83,322.91 216.52,323.49 211.21,324.12 205.9,324.79 200.59,325.51" fill="#999999" fill-opacity="0.45"/>
<path d="M252.9 332.9L258.2 306.7L257.7 303.9L250.8 323.1L251.6 330.3L250.7 320.9L255.1 328.3L252.6 324.3L255.8 305.0L245.4 317.0L258.6 319.6L252.4 317.5L255.5 321.7L252.3 312.4L251.3 312.0L254.6 324.9L256.1 320.0L252.0 297.1L252.2 316.7L255.5 323.0L249.3 299.9L246.8 321.0L254.4 332.5L250.1 314.1L245.2 330.4L249.6 326.3L250.9 317.7L248.1 322.4L246.9 329.0L253.0 326.8L256.4 327.3L251.9 309.0L249.8 328.6L254.3 327.0L255.7 300.0L251.6 326.8L255.0 305.7L257.0 307.5L252.0 322.7L249.6 335.8L254.2 316.4L253.8 314.1L257.2 311.1L247.7 320.4L250.2 308.6L249.5 306.7L245.9 332.0L253.3 306.3L254.9 319.3L249.9 327.0L258.3 324.4L256.1 301.7L255.3 310.9L254.4 339.6L256.6 320.2L247.5 322.6L255.2 322.9L255.2 326.4L245.8 336.2L254.2 312.2L251.8 330.8L255.9 324.9L251.1 327.3L252.7 328.6L254.2 313.4L249.3 317.1L255.2 328.1L252.4 330.9L254.8 326.0L250.7 311.1L257.1 319.8L255.2 318.7L252.1 324.5L255.3 323.8L257.8 318.9L258.6 340.2L246.5 304.4L256.3 329.3L254.7 327.0L252.4 307.2L248.8 318.8L257.8 320.7L247.8 327.1L255.1 337.3L258.0 319.2L246.4 308.7L251.6 330.4L247.6 307.0L253.8 332.8L258.5 328.7L244.0 315.9L248.0 321.1L247.4 313.9L217.5 328.8L222.9 331.8L256.7 340.4L256.5 333.6L242.1 332.3L241.4 335.9L257.1 317.9L232.2 328.0L249.6 341.7L252.5 297.1L247.3 329.8L230.7 334.1L216.9 308.3L256.3 309.0L241.1 333.0L247.0 336.4L237.8 331.5L245.0 309.4L238.1 324.3L238.3 329.5L245.8 321.4L250.3 308.6L244.3 335.5L248.7 325.1L217.7 335.4L244.9 298.6L239.2 302.3L256.1 311.3L254.8 322.5L239.4 314.3L252.1 342.9L218.7 318.2L246.9 334.9L249.5 334.8L257.4 328.4L230.5 324.7L229.1 315.2L242.8 313.8L258.6 318.4L243.9 330.9L247.5 314.1L228.1 322.4L258.5 308.9L243.9 330.6L234.3 349.7L255.0 326.0L253.1 298.8L248.8 316.2L236.8 323.1L240.5 312.0L256.4 315.9L257.8 316.3L229.6 326.4L252.6 320.3L233.8 319.0L249.6 327.8L231.5 332.7L241.4 319.7L233.8 311.1L249.8 314.4L236.5 316.0L248.7 315.9L239.8 297.1L219.4 318.4L256.7 310.3L234.7 300.8L237.7 320.6L219.8 318.4L253.6 310.3L237.8 303.6L220.6 317.9L242.2 317.3L242.5 320.2L240.5 333.6L240.5 309.5L227.0 323.7L251.2 338.9L240.6 322.6L241.8 339.0L233.5 331.5L253.8 320.9L227.4 330.6L255.7 310.0L252.6 336.3L253.0 318.3L249.8 315.3L253.0 305.9L243.2 311.5L249.9 318.6L253.9 320.2L238.8 321.6L236.6 309.2L255.7 327.8L242.3 315.6L234.5 322.0L249.5 318.5L237.2 323.7L254.7 298.9L253.1 327.8L238.1 318.4L243.7 318.1L244.8 314.7L219.0 316.3L258.0 316.6L226.6 310.8L253.5 336.6L231.8 320.9L253.8 333.8L218.6 318.6L251.4 333.2L225.3 330.9L231.3 321.6L243.2 306.5L246.1 315.0L216.0 317.9L256.8 306.4L251.6 330.8L239.3 342.6L257.3 325.4L255.5 323.8L252.0 308.2L237.7 298.8L227.7 334.7L256.6 297.1L227.5 304.8L232.0 312.3L217.1 317.1L247.0 297.1L252.4 320.1L250.4 325.9L251.4 319.5L242.6 335.1L220.1 316.1L255.8 322.1L245.8 317.5L258.6 317.2L232.6 331.9L255.0 307.3L240.4 331.5L252.1 311.8L248.5 337.5L230.6 317.1" fill="none" stroke="none" marker-start="url(#m)" marker-mid="url(#m)" marker-end="url(#m)"/>
<line x1="200.59" y1="321.11" x2="259" y2="320.07" stroke="#4570e6" stroke-width="0.9"/>
<text x="260.1" y="299" font-size="3.1" text-anchor="end" fill="#ff2020" stroke="#ff2020" stroke-width="0.06">Rho = 0.038</text>
<text x="260.1" y="302" font-size="3.1" text-anchor="end" fill="#ff2020" stroke="#ff2020" stroke-width="0.06">p = 4.40e-01</text>
<rect x="197.2" y="295.4" width="63.4" height="60.5" fill="none" stroke="#858585" stroke-width="0.8"/>
<line x1="205.9" y1="355.9" x2="205.9" y2="356.9" stroke="#555" stroke-width="0.5"/>
<text x="205.9" y="361.2" font-size="3.6" text-anchor="middle" fill="#333" stroke="#333" stroke-width="0.1" textLength="4.38" lengthAdjust="spacingAndGlyphs">0.4</text>
<line x1="223.6" y1="355.9" x2="223.6" y2="356.9" stroke="#555" stroke-width="0.5"/>
<text x="223.6" y="361.2" font-size="3.6" text-anchor="middle" fill="#333" stroke="#333" stroke-width="0.1" textLength="4.38" lengthAdjust="spacingAndGlyphs">0.6</text>
<line x1="241.3" y1="355.9" x2="241.3" y2="356.9" stroke="#555" stroke-width="0.5"/>
<text x="241.3" y="361.2" font-size="3.6" text-anchor="middle" fill="#333" stroke="#333" stroke-width="0.1" textLength="4.38" lengthAdjust="spacingAndGlyphs">0.8</text>
<line x1="259" y1="355.9" x2="259" y2="356.9" stroke="#555" stroke-width="0.5"/>
<text x="259" y="361.2" font-size="3.6" text-anchor="middle" fill="#333" stroke="#333" stroke-width="0.1" textLength="4.38" lengthAdjust="spacingAndGlyphs">1.0</text>
<text x="226.2" y="365.6" font-size="4.6" text-anchor="middle" fill="#222" stroke="#222" stroke-width="0.08" textLength="10.61" lengthAdjust="spacingAndGlyphs">Purity</text>
<rect x="263.4" y="288.7" width="63.2" height="6.7" fill="#d9d9d9" stroke="#858585" stroke-width="0.8"/>
<svg x="263.9" y="288.7" width="62.2" height="6.7" overflow="hidden">
<text x="31.1" y="4.95" font-size="3.3" text-anchor="middle" fill="#222" stroke="#222" stroke-width="0.08">Macrophage_TIMER</text>
</svg>
<rect x="263.4" y="295.4" width="63.2" height="60.5" fill="#fff"/>
<line x1="276.65" y1="295.4" x2="276.65" y2="355.9" stroke="#f4f4f4" stroke-width="0.5"/>
<line x1="298.35" y1="295.4" x2="298.35" y2="355.9" stroke="#f4f4f4" stroke-width="0.5"/>
<line x1="319.85" y1="295.4" x2="319.85" y2="355.9" stroke="#f4f4f4" stroke-width="0.5"/>
<line x1="263.4" y1="354.77" x2="326.6" y2="354.77" stroke="#f4f4f4" stroke-width="0.5"/>
<line x1="263.4" y1="341.82" x2="326.6" y2="341.82" stroke="#f4f4f4" stroke-width="0.5"/>
<line x1="263.4" y1="328.88" x2="326.6" y2="328.88" stroke="#f4f4f4" stroke-width="0.5"/>
<line x1="263.4" y1="315.93" x2="326.6" y2="315.93" stroke="#f4f4f4" stroke-width="0.5"/>
<line x1="263.4" y1="302.98" x2="326.6" y2="302.98" stroke="#f4f4f4" stroke-width="0.5"/>
<line x1="265.8" y1="295.4" x2="265.8" y2="355.9" stroke="#ebebeb" stroke-width="0.7"/>
<line x1="287.5" y1="295.4" x2="287.5" y2="355.9" stroke="#ebebeb" stroke-width="0.7"/>
<line x1="309" y1="295.4" x2="309" y2="355.9" stroke="#ebebeb" stroke-width="0.7"/>
<line x1="263.4" y1="348.3" x2="326.6" y2="348.3" stroke="#ebebeb" stroke-width="0.7"/>
<line x1="263.4" y1="335.35" x2="326.6" y2="335.35" stroke="#ebebeb" stroke-width="0.7"/>
<line x1="263.4" y1="322.4" x2="326.6" y2="322.4" stroke="#ebebeb" stroke-width="0.7"/>
<line x1="263.4" y1="309.45" x2="326.6" y2="309.45" stroke="#ebebeb" stroke-width="0.7"/>
<line x1="263.4" y1="296.5" x2="326.6" y2="296.5" stroke="#ebebeb" stroke-width="0.7"/>
<polygon points="265.8,320.3 269.65,320.19 273.49,319.94 277.34,319.56 281.19,318.89 285.03,318.13 288.88,317.35 292.73,316.55 296.57,315.73 300.42,314.91 304.27,314.07 308.11,313.23 311.96,312.38 315.81,311.53 319.65,310.67 323.5,309.8 323.5,319.4 319.65,319.49 315.81,319.59 311.96,319.7 308.11,319.81 304.27,319.93 300.42,320.05 296.57,320.19 292.73,320.33 288.88,320.49 285.03,320.67 281.19,320.87 277.34,321.16 273.49,321.74 269.65,322.45 265.8,323.3" fill="#999999" fill-opacity="0.45"/>
<path d="M266.3 318.7L266.1 324.4L265.8 311.4L265.9 320.7L266.2 331.4L266.0 354.7L266.0 327.9L265.9 322.2L266.9 311.8L266.0 331.2L266.5 305.8L266.0 313.8L265.9 324.7L266.1 310.1L266.0 335.7L266.4 331.5L265.9 316.0L266.3 316.1L267.4 308.8L266.1 308.2L266.8 325.4L266.7 327.1L266.2 324.6L266.2 323.8L266.8 316.0L266.2 324.7L266.0 307.6L266.2 321.4L266.2 335.1L266.6 333.6L266.4 317.0L266.5 318.2L266.4 334.2L266.2 338.0L266.5 307.3L266.4 317.3L266.3 323.5L265.9 332.8L266.0 313.5L266.2 327.3L266.2 318.5L266.4 343.5L266.1 325.4L265.8 320.1L266.3 318.2L265.9 331.2L266.7 327.6L266.1 311.2L265.8 323.4L266.5 308.8L266.1 314.3L266.2 309.2L266.4 308.9L266.0 314.9L266.1 312.2L265.9 326.3L265.8 328.8L266.4 319.1L266.2 310.8L266.5 328.8L265.8 302.4L265.8 303.3L266.1 328.1L265.9 327.5L266.1 330.5L266.0 319.3L266.7 309.5L265.8 316.6L266.1 326.7L266.0 314.2L266.3 314.7L266.0 308.3L266.3 310.4L266.3 329.2L266.1 325.6L272.1 309.7L268.7 310.9L267.0 316.0L271.8 325.8L277.3 309.0L284.9 317.4L281.1 299.4L275.0 308.5L278.7 323.7L279.4 328.1L285.1 308.1L268.1 313.9L274.5 327.8L272.6 316.9L269.7 315.8L272.5 325.4L283.5 321.0L274.2 330.8L295.2 325.2L278.1 314.5L281.3 318.3L277.6 319.4L275.4 307.5L278.5 310.7L279.0 328.8L269.3 306.1L270.1 330.2L279.5 322.4L278.0 318.6L267.6 326.2L269.8 325.4L267.9 332.5L292.3 314.3L275.1 318.1L275.3 317.9L275.6 337.8L290.0 327.2L278.6 311.2L278.8 316.7L279.5 313.1L269.7 321.0L269.2 323.0L278.1 341.3L270.1 303.8L269.3 330.6L278.5 323.9L284.3 312.5L281.5 318.1L288.8 313.9L271.0 321.2L284.1 328.6L283.6 305.0L267.8 333.5L268.4 317.6L270.7 334.9L280.7 323.4L275.3 331.8L275.8 325.5L277.9 330.1L272.8 321.1L278.4 312.1L268.0 327.5L270.8 327.5L279.4 339.4L271.2 302.1L268.4 319.3L281.1 329.5L267.1 309.6L275.6 318.1L287.7 338.5L280.2 332.9L279.5 311.6L300.2 330.5L274.6 331.5L290.0 325.7L269.3 324.6L272.7 322.9L278.5 311.8L281.5 314.7L288.9 325.5L272.6 322.0L269.9 338.3L275.8 317.1L270.1 298.6L272.5 317.6L268.8 323.7L314.9 319.0L283.5 320.0L275.2 312.7L283.8 333.2L275.7 314.1L271.2 327.5L281.4 316.9L268.4 310.0L270.5 334.2L287.1 296.6L277.2 312.2L285.0 323.2L279.0 316.6L268.2 328.3L272.4 319.8L288.5 314.5L274.8 340.6L285.1 317.1L276.3 318.8L268.6 311.1L286.4 312.0L273.3 326.7L297.5 322.9L274.5 320.5L271.5 314.3L272.5 327.2L278.6 304.1L266.7 318.3L272.6 318.4L286.8 311.1L276.3 321.7L286.5 312.8L299.5 309.9L271.1 337.8L287.1 325.9L269.9 332.3L266.4 322.1L280.8 328.8L270.1 328.4L302.6 328.4L283.5 341.6L266.5 319.5L275.8 322.9L271.2 320.5L284.4 296.6L273.7 307.7L291.4 318.7L282.7 325.5L313.2 310.4L280.7 330.5L271.2 333.0L275.2 316.7L270.3 334.5L268.8 337.7L277.7 324.6L281.4 310.7L273.1 334.5L276.2 318.9L269.3 317.8L270.9 322.2L272.0 316.0L266.7 331.7L271.3 328.3L268.7 332.8L272.3 326.4L266.4 314.3L279.4 318.6L290.8 326.8L274.1 317.0L279.7 347.3L275.9 318.3L283.2 314.2L275.5 331.3L267.3 328.6L299.5 317.3L267.2 319.5L281.1 323.9L284.0 327.3L267.9 328.7L271.9 318.2L272.6 325.0L276.0 328.4L283.6 326.7L267.9 296.6L273.5 312.5L285.0 312.2L286.3 317.1L287.4 320.8L283.9 328.1" fill="none" stroke="none" marker-start="url(#m)" marker-mid="url(#m)" marker-end="url(#m)"/>
<line x1="265.8" y1="321.8" x2="323.5" y2="314.6" stroke="#4570e6" stroke-width="0.9"/>
<text x="326.1" y="299" font-size="3.1" text-anchor="end" fill="#ff2020" stroke="#ff2020" stroke-width="0.06">Rho = 0.211</text>
<text x="326.1" y="302" font-size="3.1" text-anchor="end" fill="#ff2020" stroke="#ff2020" stroke-width="0.06">p = 8.21e-06</text>
<rect x="263.4" y="295.4" width="63.2" height="60.5" fill="none" stroke="#858585" stroke-width="0.8"/>
<line x1="265.8" y1="355.9" x2="265.8" y2="356.9" stroke="#555" stroke-width="0.5"/>
<text x="265.8" y="361.2" font-size="3.6" text-anchor="middle" fill="#333" stroke="#333" stroke-width="0.1" textLength="4.38" lengthAdjust="spacingAndGlyphs">0.0</text>
<line x1="287.5" y1="355.9" x2="287.5" y2="356.9" stroke="#555" stroke-width="0.5"/>
<text x="287.5" y="361.2" font-size="3.6" text-anchor="middle" fill="#333" stroke="#333" stroke-width="0.1" textLength="4.38" lengthAdjust="spacingAndGlyphs">0.2</text>
<line x1="309" y1="355.9" x2="309" y2="356.9" stroke="#555" stroke-width="0.5"/>
<text x="309" y="361.2" font-size="3.6" text-anchor="middle" fill="#333" stroke="#333" stroke-width="0.1" textLength="4.38" lengthAdjust="spacingAndGlyphs">0.4</text>
<text x="293.4" y="365.5" font-size="4.6" text-anchor="middle" fill="#222" stroke="#222" stroke-width="0.08" textLength="29.07" lengthAdjust="spacingAndGlyphs">Infiltration Level</text>
<rect x="365.5" y="6.8" width="7" height="60.4" fill="#d9d9d9" stroke="#858585" stroke-width="0.8"/>
<text x="370.1" y="37.4" font-size="3.1" text-anchor="middle" fill="#333" transform="rotate(-90 370.1 37.4)" stroke="#333" stroke-width="0.12">OV</text>
<line x1="364.5" y1="60.5" x2="365.5" y2="60.5" stroke="#555" stroke-width="0.5"/>
<text x="363.4" y="62" font-size="3.6" text-anchor="end" fill="#333" stroke="#333" stroke-width="0.1" textLength="1.78" lengthAdjust="spacingAndGlyphs">2</text>
<line x1="364.5" y1="47.3" x2="365.5" y2="47.3" stroke="#555" stroke-width="0.5"/>
<text x="363.4" y="48.8" font-size="3.6" text-anchor="end" fill="#333" stroke="#333" stroke-width="0.1" textLength="1.78" lengthAdjust="spacingAndGlyphs">3</text>
<line x1="364.5" y1="34.1" x2="365.5" y2="34.1" stroke="#555" stroke-width="0.5"/>
<text x="363.4" y="35.6" font-size="3.6" text-anchor="end" fill="#333" stroke="#333" stroke-width="0.1" textLength="1.78" lengthAdjust="spacingAndGlyphs">4</text>
<line x1="364.5" y1="20.9" x2="365.5" y2="20.9" stroke="#555" stroke-width="0.5"/>
<text x="363.4" y="22.4" font-size="3.6" text-anchor="end" fill="#333" stroke="#333" stroke-width="0.1" textLength="1.78" lengthAdjust="spacingAndGlyphs">5</text>
<line x1="364.5" y1="7.7" x2="365.5" y2="7.7" stroke="#555" stroke-width="0.5"/>
<text x="363.4" y="9.2" font-size="3.6" text-anchor="end" fill="#333" stroke="#333" stroke-width="0.1" textLength="1.78" lengthAdjust="spacingAndGlyphs">6</text>
<text x="359.3" y="37" font-size="4.6" text-anchor="middle" fill="#333" transform="rotate(-90 359.3 37)" stroke="#333" stroke-width="0.06" textLength="71.60" lengthAdjust="spacingAndGlyphs">SLC45A4 Expression Level (log2 TPM)</text>
<rect x="372.5" y="-0.2" width="63.9" height="7" fill="#d9d9d9" stroke="#858585" stroke-width="0.8"/>
<text x="404.45" y="4.9" font-size="3.3" text-anchor="middle" fill="#222" stroke="#222" stroke-width="0.08">Purity</text>
<rect x="372.5" y="6.8" width="63.9" height="60.4" fill="#fff"/>
<line x1="390.05" y1="6.8" x2="390.05" y2="67.2" stroke="#f4f4f4" stroke-width="0.5"/>
<line x1="407.75" y1="6.8" x2="407.75" y2="67.2" stroke="#f4f4f4" stroke-width="0.5"/>
<line x1="425.45" y1="6.8" x2="425.45" y2="67.2" stroke="#f4f4f4" stroke-width="0.5"/>
<line x1="372.5" y1="67.1" x2="436.4" y2="67.1" stroke="#f4f4f4" stroke-width="0.5"/>
<line x1="372.5" y1="53.9" x2="436.4" y2="53.9" stroke="#f4f4f4" stroke-width="0.5"/>
<line x1="372.5" y1="40.7" x2="436.4" y2="40.7" stroke="#f4f4f4" stroke-width="0.5"/>
<line x1="372.5" y1="27.5" x2="436.4" y2="27.5" stroke="#f4f4f4" stroke-width="0.5"/>
<line x1="372.5" y1="14.3" x2="436.4" y2="14.3" stroke="#f4f4f4" stroke-width="0.5"/>
<line x1="381.2" y1="6.8" x2="381.2" y2="67.2" stroke="#ebebeb" stroke-width="0.7"/>
<line x1="398.9" y1="6.8" x2="398.9" y2="67.2" stroke="#ebebeb" stroke-width="0.7"/>
<line x1="416.6" y1="6.8" x2="416.6" y2="67.2" stroke="#ebebeb" stroke-width="0.7"/>
<line x1="434.3" y1="6.8" x2="434.3" y2="67.2" stroke="#ebebeb" stroke-width="0.7"/>
<line x1="372.5" y1="60.5" x2="436.4" y2="60.5" stroke="#ebebeb" stroke-width="0.7"/>
<line x1="372.5" y1="47.3" x2="436.4" y2="47.3" stroke="#ebebeb" stroke-width="0.7"/>
<line x1="372.5" y1="34.1" x2="436.4" y2="34.1" stroke="#ebebeb" stroke-width="0.7"/>
<line x1="372.5" y1="20.9" x2="436.4" y2="20.9" stroke="#ebebeb" stroke-width="0.7"/>
<line x1="372.5" y1="7.7" x2="436.4" y2="7.7" stroke="#ebebeb" stroke-width="0.7"/>
<polygon points="375.89,28.29 381.2,28.83 386.51,29.33 391.82,29.78 397.13,30.18 402.44,30.54 407.75,30.83 413.06,31.05 418.37,31.17 423.68,31.08 428.99,30.76 434.3,30.35 434.3,33.12 428.99,32.9 423.68,32.77 418.37,32.86 413.06,33.18 407.75,33.59 402.44,34.07 397.13,34.62 391.82,35.21 386.51,35.85 381.2,36.54 375.89,37.27" fill="#999999" fill-opacity="0.45"/>
<path d="M428.2 44.8L433.5 18.1L433.0 15.2L426.1 34.8L426.9 42.2L426.0 32.6L430.4 40.1L427.9 36.1L431.1 16.3L420.7 28.6L433.9 31.2L427.7 29.1L430.8 33.4L427.6 23.9L426.6 23.5L429.9 36.7L431.4 31.7L427.3 8.4L427.5 28.3L430.8 34.7L424.6 11.1L422.1 32.7L429.7 44.4L425.4 25.7L420.5 42.3L424.9 38.0L426.2 29.3L423.4 34.1L422.2 40.8L428.3 38.6L431.7 39.0L427.2 20.5L425.1 40.4L429.6 38.8L431.0 11.3L426.9 38.6L430.3 17.1L432.3 18.9L427.3 34.4L424.9 47.8L429.5 28.0L429.1 25.7L432.5 22.6L423.0 32.0L425.5 20.1L424.8 18.1L421.2 43.9L428.6 17.7L430.2 30.9L425.2 38.8L433.6 36.1L431.4 13.0L430.6 22.4L429.7 51.7L431.9 31.9L422.8 34.3L430.5 34.6L430.5 38.2L421.1 48.2L429.5 23.7L427.1 42.7L431.2 36.7L426.4 39.1L428.0 40.5L429.5 24.9L424.6 28.7L430.5 39.9L427.7 42.8L430.1 37.7L426.0 22.6L432.4 31.5L430.5 30.3L427.4 36.2L430.6 35.5L433.1 30.5L433.9 52.2L421.8 15.8L431.6 41.1L430.0 38.8L427.7 18.6L424.1 30.4L433.1 32.3L423.1 38.9L430.4 49.3L433.3 30.8L421.7 20.2L426.9 42.3L422.9 18.4L429.1 44.7L433.8 40.5L419.3 27.4L423.3 32.8L422.7 25.5L392.8 40.6L398.2 43.7L432.0 52.5L431.8 45.5L417.4 44.1L416.7 47.8L432.4 29.5L407.5 39.8L424.9 53.8L427.8 8.4L422.6 41.6L406.0 46.0L392.2 19.7L431.6 20.5L416.4 44.9L422.3 48.3L413.1 43.3L420.3 20.9L413.4 36.1L413.6 41.3L421.1 33.1L425.6 20.1L419.6 47.5L424.0 36.8L393.0 47.4L420.2 9.8L414.5 13.6L431.4 22.7L430.1 34.2L414.7 25.8L427.4 55.0L394.0 29.9L422.2 46.9L424.8 46.8L432.7 40.2L405.8 36.5L404.4 26.7L418.1 25.4L433.9 30.0L419.2 42.8L422.8 25.6L403.4 34.1L433.8 20.3L419.2 42.5L409.6 62.0L430.3 37.8L428.4 10.1L424.1 27.8L412.1 34.8L415.8 23.4L431.7 27.5L433.1 27.9L404.9 38.2L427.9 32.0L409.1 30.7L424.9 39.6L406.8 44.6L416.7 31.3L409.1 22.6L425.1 25.9L411.8 27.6L424.0 27.5L415.1 8.4L394.7 30.0L432.0 21.8L410.0 12.1L413.0 32.2L395.1 30.0L428.9 21.8L413.1 15.0L395.9 29.5L417.5 28.9L417.8 31.8L415.8 45.5L415.8 21.0L402.3 35.4L426.5 50.9L415.9 34.3L417.1 51.0L408.8 43.4L429.1 32.6L402.7 42.5L431.0 21.4L427.9 48.2L428.3 29.9L425.1 26.8L428.3 17.3L418.5 23.0L425.2 30.2L429.2 31.8L414.1 33.3L411.9 20.7L431.0 39.6L417.6 27.2L409.8 33.7L424.8 30.1L412.5 35.4L430.0 10.1L428.4 39.6L413.4 30.0L419.0 29.8L420.1 26.2L394.3 27.9L433.3 28.2L401.9 22.3L428.8 48.5L407.1 32.6L429.1 45.7L393.9 30.2L426.7 45.1L400.6 42.8L406.6 33.3L418.5 17.9L421.4 26.5L391.3 29.5L432.1 17.8L426.9 42.6L414.6 54.7L432.6 37.1L430.8 35.6L427.3 19.6L413.0 10.0L403.0 46.7L431.9 8.4L402.8 16.1L407.3 23.8L392.4 28.7L422.3 8.4L427.7 31.8L425.7 37.6L426.7 31.2L417.9 47.1L395.4 27.6L431.1 33.8L421.1 29.1L433.9 28.8L407.9 43.8L430.3 18.7L415.7 43.3L427.4 23.3L423.8 49.5L405.9 28.7" fill="none" stroke="none" marker-start="url(#m)" marker-mid="url(#m)" marker-end="url(#m)"/>
<line x1="375.89" y1="32.78" x2="434.3" y2="31.72" stroke="#4570e6" stroke-width="0.9"/>
<text x="435.9" y="10.4" font-size="3.1" text-anchor="end" fill="#ff2020" stroke="#ff2020" stroke-width="0.06">Rho = 0.038</text>
<text x="435.9" y="13.4" font-size="3.1" text-anchor="end" fill="#ff2020" stroke="#ff2020" stroke-width="0.06">p = 4.40e-01</text>
<rect x="372.5" y="6.8" width="63.9" height="60.4" fill="none" stroke="#858585" stroke-width="0.8"/>
<line x1="381.2" y1="67.2" x2="381.2" y2="68.2" stroke="#555" stroke-width="0.5"/>
<text x="381.2" y="72.5" font-size="3.6" text-anchor="middle" fill="#333" stroke="#333" stroke-width="0.1" textLength="4.38" lengthAdjust="spacingAndGlyphs">0.4</text>
<line x1="398.9" y1="67.2" x2="398.9" y2="68.2" stroke="#555" stroke-width="0.5"/>
<text x="398.9" y="72.5" font-size="3.6" text-anchor="middle" fill="#333" stroke="#333" stroke-width="0.1" textLength="4.38" lengthAdjust="spacingAndGlyphs">0.6</text>
<line x1="416.6" y1="67.2" x2="416.6" y2="68.2" stroke="#555" stroke-width="0.5"/>
<text x="416.6" y="72.5" font-size="3.6" text-anchor="middle" fill="#333" stroke="#333" stroke-width="0.1" textLength="4.38" lengthAdjust="spacingAndGlyphs">0.8</text>
<line x1="434.3" y1="67.2" x2="434.3" y2="68.2" stroke="#555" stroke-width="0.5"/>
<text x="434.3" y="72.5" font-size="3.6" text-anchor="middle" fill="#333" stroke="#333" stroke-width="0.1" textLength="4.38" lengthAdjust="spacingAndGlyphs">1.0</text>
<text x="401.75" y="76.9" font-size="4.6" text-anchor="middle" fill="#222" stroke="#222" stroke-width="0.08" textLength="10.61" lengthAdjust="spacingAndGlyphs">Purity</text>
<rect x="438.4" y="-0.2" width="63.3" height="7" fill="#d9d9d9" stroke="#858585" stroke-width="0.8"/>
<svg x="438.9" y="-0.2" width="62.3" height="7" overflow="hidden">
<text x="31.15" y="5.1" font-size="3.3" text-anchor="middle" fill="#222" stroke="#222" stroke-width="0.08">Cancer associated fibroblast_EPIC</text>
</svg>
<rect x="438.4" y="6.8" width="63.3" height="60.4" fill="#fff"/>
<line x1="448.6" y1="6.8" x2="448.6" y2="67.2" stroke="#f4f4f4" stroke-width="0.5"/>
<line x1="462.6" y1="6.8" x2="462.6" y2="67.2" stroke="#f4f4f4" stroke-width="0.5"/>
<line x1="476.8" y1="6.8" x2="476.8" y2="67.2" stroke="#f4f4f4" stroke-width="0.5"/>
<line x1="491" y1="6.8" x2="491" y2="67.2" stroke="#f4f4f4" stroke-width="0.5"/>
<line x1="438.4" y1="67.1" x2="501.7" y2="67.1" stroke="#f4f4f4" stroke-width="0.5"/>
<line x1="438.4" y1="53.9" x2="501.7" y2="53.9" stroke="#f4f4f4" stroke-width="0.5"/>
<line x1="438.4" y1="40.7" x2="501.7" y2="40.7" stroke="#f4f4f4" stroke-width="0.5"/>
<line x1="438.4" y1="27.5" x2="501.7" y2="27.5" stroke="#f4f4f4" stroke-width="0.5"/>
<line x1="438.4" y1="14.3" x2="501.7" y2="14.3" stroke="#f4f4f4" stroke-width="0.5"/>
<line x1="441.6" y1="6.8" x2="441.6" y2="67.2" stroke="#ebebeb" stroke-width="0.7"/>
<line x1="455.6" y1="6.8" x2="455.6" y2="67.2" stroke="#ebebeb" stroke-width="0.7"/>
<line x1="469.8" y1="6.8" x2="469.8" y2="67.2" stroke="#ebebeb" stroke-width="0.7"/>
<line x1="484" y1="6.8" x2="484" y2="67.2" stroke="#ebebeb" stroke-width="0.7"/>
<line x1="498.3" y1="6.8" x2="498.3" y2="67.2" stroke="#ebebeb" stroke-width="0.7"/>
<line x1="438.4" y1="60.5" x2="501.7" y2="60.5" stroke="#ebebeb" stroke-width="0.7"/>
<line x1="438.4" y1="47.3" x2="501.7" y2="47.3" stroke="#ebebeb" stroke-width="0.7"/>
<line x1="438.4" y1="34.1" x2="501.7" y2="34.1" stroke="#ebebeb" stroke-width="0.7"/>
<line x1="438.4" y1="20.9" x2="501.7" y2="20.9" stroke="#ebebeb" stroke-width="0.7"/>
<line x1="438.4" y1="7.7" x2="501.7" y2="7.7" stroke="#ebebeb" stroke-width="0.7"/>
<polygon points="441.3,31.5 445.15,31.27 448.99,30.75 452.84,29.82 456.69,28.83 460.53,27.81 464.38,26.77 468.23,25.71 472.07,24.63 475.92,23.54 479.77,22.44 483.61,21.33 487.46,20.21 491.31,19.08 495.15,17.94 499,16.8 499,32.2 495.15,32.15 491.31,32.11 487.46,32.07 483.61,32.04 479.77,32.02 475.92,32.02 472.07,32.02 468.23,32.04 464.38,32.07 460.53,32.12 456.69,32.19 452.84,32.3 448.99,32.46 445.15,33.03 441.3,33.9" fill="#999999" fill-opacity="0.45"/>
<path d="M441.6 39.2L441.4 30.8L441.3 51.7L442.2 49.2L441.6 29.0L441.5 31.6L442.1 44.0L441.5 25.2L442.3 36.4L441.5 33.2L441.5 26.1L441.4 30.6L441.8 17.8L441.5 27.6L441.4 13.8L441.7 54.4L441.5 47.1L441.4 44.5L441.5 35.6L441.4 42.3L441.5 44.8L441.5 42.4L441.3 41.5L441.8 24.0L441.9 36.8L442.0 27.6L441.4 21.5L441.3 21.9L441.4 36.8L441.3 42.8L441.3 19.8L441.3 49.3L441.7 46.7L441.8 29.1L441.6 28.3L441.8 32.0L442.3 41.9L441.8 29.0L441.8 22.1L441.4 36.0L441.6 13.0L441.5 34.0L441.8 43.7L441.3 35.6L442.4 40.0L441.5 37.4L441.6 39.6L441.6 34.0L441.7 24.8L441.7 30.5L442.1 31.9L441.6 44.6L442.3 48.0L442.5 36.5L442.1 25.4L441.3 25.8L441.6 30.9L441.7 45.8L441.8 35.8L442.0 32.1L441.3 25.4L442.2 41.0L441.4 35.4L442.5 32.1L441.7 33.6L441.5 48.7L441.4 31.2L442.1 48.6L441.4 44.5L441.9 33.1L441.3 41.1L441.7 31.5L441.6 24.8L441.6 30.1L441.9 24.0L442.5 37.4L441.3 32.8L443.3 37.8L442.1 40.4L444.9 8.0L452.1 34.1L454.1 13.8L443.5 34.0L446.1 23.7L441.8 33.6L453.9 43.9L460.8 13.7L445.3 33.9L454.0 30.1L441.4 14.7L461.5 36.0L443.2 32.8L448.1 26.9L452.3 24.3L442.3 63.1L448.1 28.0L443.5 15.3L441.6 23.8L447.9 28.3L448.9 28.0L444.2 31.5L444.3 22.3L443.3 37.6L441.6 28.1L447.7 18.9L444.2 24.5L441.3 29.0L444.3 40.3L441.8 37.2L446.5 28.8L443.9 32.5L446.4 34.0L443.8 51.7L443.4 26.5L441.4 37.1L444.0 39.2L447.1 22.8L441.5 34.5L446.9 33.5L450.3 27.0L445.3 37.5L444.8 42.0L445.0 42.9L447.9 29.9L448.2 33.5L447.5 54.2L451.1 20.8L443.1 34.6L444.7 40.7L445.7 33.5L454.3 37.1L443.2 34.1L451.6 38.4L441.6 44.9L442.7 30.4L455.6 32.5L456.1 30.1L441.9 28.8L447.1 31.7L448.7 20.9L442.1 39.7L442.5 48.7L448.7 47.9L441.8 44.7L446.9 22.7L441.4 47.1L445.6 25.3L443.8 31.8L441.6 50.2L463.7 19.3L445.4 40.1L446.5 34.6L443.7 30.9L450.0 23.1L450.1 35.5L447.8 27.4L449.5 41.5L443.2 44.1L441.3 19.6L450.8 26.6L452.9 28.0L450.9 20.1L448.4 21.1L442.3 33.4L447.7 29.8L443.9 16.6L441.6 27.5L441.5 37.6L447.8 20.3L446.5 23.2L443.8 47.4L448.1 44.2L452.4 15.7L450.6 18.5L443.0 36.0L453.1 19.7L447.5 29.4L448.6 27.4L441.9 37.9L443.9 8.3L443.2 11.5L445.0 20.5L450.9 41.0L447.6 30.3L464.3 13.2L470.8 33.2L447.8 38.5L445.5 29.8L448.2 28.6L463.6 33.7L443.4 43.9L442.9 33.9L444.7 37.3L460.4 29.5L449.9 27.9L451.8 22.5L442.2 35.0L447.9 28.9L441.9 30.3L454.6 39.6L441.7 37.3L455.5 38.9L441.7 17.7L441.3 38.0L448.3 26.1L441.7 25.0L449.8 23.4L441.4 44.2L453.0 38.9L445.6 25.3L447.6 21.0L441.3 32.8L441.7 28.3L442.2 48.3L443.8 18.5L444.8 14.8L467.3 26.6L448.5 31.8L450.7 32.6L445.4 39.3L443.2 52.1L456.7 27.3L454.8 25.6L445.2 15.4L446.6 34.3L458.7 38.3L443.1 30.0L442.2 43.8L456.5 30.8L442.8 46.9L442.0 35.8L442.8 22.4L442.5 26.5L451.4 16.7L444.4 15.8L445.1 34.7L443.4 40.7L473.9 46.6L445.2 31.6L462.6 27.4L446.8 21.4L449.2 41.0L442.1 36.3L441.7 27.0L444.1 38.8L456.3 35.9L444.7 14.4L450.7 38.4L442.1 33.9L441.7 28.9" fill="none" stroke="none" marker-start="url(#m)" marker-mid="url(#m)" marker-end="url(#m)"/>
<line x1="441.3" y1="32.7" x2="499" y2="24.5" stroke="#4570e6" stroke-width="0.9"/>
<text x="501.2" y="10.4" font-size="3.1" text-anchor="end" fill="#ff2020" stroke="#ff2020" stroke-width="0.06">Rho = 0.208</text>
<text x="501.2" y="13.4" font-size="3.1" text-anchor="end" fill="#ff2020" stroke="#ff2020" stroke-width="0.06">p = 9.34e-04</text>
<rect x="438.4" y="6.8" width="63.3" height="60.4" fill="none" stroke="#858585" stroke-width="0.8"/>
<line x1="441.6" y1="67.2" x2="441.6" y2="68.2" stroke="#555" stroke-width="0.5"/>
<text x="441.6" y="72.5" font-size="3.6" text-anchor="middle" fill="#333" stroke="#333" stroke-width="0.1" textLength="6.13" lengthAdjust="spacingAndGlyphs">0.00</text>
<line x1="455.6" y1="67.2" x2="455.6" y2="68.2" stroke="#555" stroke-width="0.5"/>
<text x="455.6" y="72.5" font-size="3.6" text-anchor="middle" fill="#333" stroke="#333" stroke-width="0.1" textLength="6.13" lengthAdjust="spacingAndGlyphs">0.25</text>
<line x1="469.8" y1="67.2" x2="469.8" y2="68.2" stroke="#555" stroke-width="0.5"/>
<text x="469.8" y="72.5" font-size="3.6" text-anchor="middle" fill="#333" stroke="#333" stroke-width="0.1" textLength="6.13" lengthAdjust="spacingAndGlyphs">0.50</text>
<line x1="484" y1="67.2" x2="484" y2="68.2" stroke="#555" stroke-width="0.5"/>
<text x="484" y="72.5" font-size="3.6" text-anchor="middle" fill="#333" stroke="#333" stroke-width="0.1" textLength="6.13" lengthAdjust="spacingAndGlyphs">0.75</text>
<line x1="498.3" y1="67.2" x2="498.3" y2="68.2" stroke="#555" stroke-width="0.5"/>
<text x="498.3" y="72.5" font-size="3.6" text-anchor="middle" fill="#333" stroke="#333" stroke-width="0.1" textLength="6.13" lengthAdjust="spacingAndGlyphs">1.00</text>
<text x="468.45" y="76.8" font-size="4.6" text-anchor="middle" fill="#222" stroke="#222" stroke-width="0.08" textLength="29.07" lengthAdjust="spacingAndGlyphs">Infiltration Level</text>
<rect x="546.4" y="6.9" width="7" height="60.3" fill="#d9d9d9" stroke="#858585" stroke-width="0.8"/>
<text x="551" y="37.45" font-size="3.1" text-anchor="middle" fill="#333" transform="rotate(-90 551 37.45)" stroke="#333" stroke-width="0.12">OV</text>
<line x1="545.4" y1="60.6" x2="546.4" y2="60.6" stroke="#555" stroke-width="0.5"/>
<text x="544.3" y="62.1" font-size="3.6" text-anchor="end" fill="#333" stroke="#333" stroke-width="0.1" textLength="1.78" lengthAdjust="spacingAndGlyphs">2</text>
<line x1="545.4" y1="47.4" x2="546.4" y2="47.4" stroke="#555" stroke-width="0.5"/>
<text x="544.3" y="48.9" font-size="3.6" text-anchor="end" fill="#333" stroke="#333" stroke-width="0.1" textLength="1.78" lengthAdjust="spacingAndGlyphs">3</text>
<line x1="545.4" y1="34.2" x2="546.4" y2="34.2" stroke="#555" stroke-width="0.5"/>
<text x="544.3" y="35.7" font-size="3.6" text-anchor="end" fill="#333" stroke="#333" stroke-width="0.1" textLength="1.78" lengthAdjust="spacingAndGlyphs">4</text>
<line x1="545.4" y1="21" x2="546.4" y2="21" stroke="#555" stroke-width="0.5"/>
<text x="544.3" y="22.5" font-size="3.6" text-anchor="end" fill="#333" stroke="#333" stroke-width="0.1" textLength="1.78" lengthAdjust="spacingAndGlyphs">5</text>
<line x1="545.4" y1="7.8" x2="546.4" y2="7.8" stroke="#555" stroke-width="0.5"/>
<text x="544.3" y="9.3" font-size="3.6" text-anchor="end" fill="#333" stroke="#333" stroke-width="0.1" textLength="1.78" lengthAdjust="spacingAndGlyphs">6</text>
<text x="540.2" y="37.05" font-size="4.6" text-anchor="middle" fill="#333" transform="rotate(-90 540.2 37.05)" stroke="#333" stroke-width="0.06" textLength="71.60" lengthAdjust="spacingAndGlyphs">SLC45A4 Expression Level (log2 TPM)</text>
<rect x="553.4" y="-0.2" width="63.4" height="7.1" fill="#d9d9d9" stroke="#858585" stroke-width="0.8"/>
<text x="585.1" y="4.95" font-size="3.3" text-anchor="middle" fill="#222" stroke="#222" stroke-width="0.08">Purity</text>
<rect x="553.4" y="6.9" width="63.4" height="60.3" fill="#fff"/>
<line x1="570.95" y1="6.9" x2="570.95" y2="67.2" stroke="#f4f4f4" stroke-width="0.5"/>
<line x1="588.65" y1="6.9" x2="588.65" y2="67.2" stroke="#f4f4f4" stroke-width="0.5"/>
<line x1="606.35" y1="6.9" x2="606.35" y2="67.2" stroke="#f4f4f4" stroke-width="0.5"/>
<line x1="553.4" y1="54" x2="616.8" y2="54" stroke="#f4f4f4" stroke-width="0.5"/>
<line x1="553.4" y1="40.8" x2="616.8" y2="40.8" stroke="#f4f4f4" stroke-width="0.5"/>
<line x1="553.4" y1="27.6" x2="616.8" y2="27.6" stroke="#f4f4f4" stroke-width="0.5"/>
<line x1="553.4" y1="14.4" x2="616.8" y2="14.4" stroke="#f4f4f4" stroke-width="0.5"/>
<line x1="562.1" y1="6.9" x2="562.1" y2="67.2" stroke="#ebebeb" stroke-width="0.7"/>
<line x1="579.8" y1="6.9" x2="579.8" y2="67.2" stroke="#ebebeb" stroke-width="0.7"/>
<line x1="597.5" y1="6.9" x2="597.5" y2="67.2" stroke="#ebebeb" stroke-width="0.7"/>
<line x1="615.2" y1="6.9" x2="615.2" y2="67.2" stroke="#ebebeb" stroke-width="0.7"/>
<line x1="553.4" y1="60.6" x2="616.8" y2="60.6" stroke="#ebebeb" stroke-width="0.7"/>
<line x1="553.4" y1="47.4" x2="616.8" y2="47.4" stroke="#ebebeb" stroke-width="0.7"/>
<line x1="553.4" y1="34.2" x2="616.8" y2="34.2" stroke="#ebebeb" stroke-width="0.7"/>
<line x1="553.4" y1="21" x2="616.8" y2="21" stroke="#ebebeb" stroke-width="0.7"/>
<line x1="553.4" y1="7.8" x2="616.8" y2="7.8" stroke="#ebebeb" stroke-width="0.7"/>
<polygon points="556.79,28.39 562.1,28.93 567.41,29.43 572.72,29.88 578.03,30.28 583.34,30.64 588.65,30.93 593.96,31.15 599.27,31.27 604.58,31.18 609.89,30.86 615.2,30.45 615.2,33.22 609.89,33 604.58,32.87 599.27,32.96 593.96,33.28 588.65,33.69 583.34,34.17 578.03,34.72 572.72,35.31 567.41,35.95 562.1,36.64 556.79,37.37" fill="#999999" fill-opacity="0.45"/>
<path d="M609.1 44.9L614.4 18.2L613.9 15.3L607.0 34.9L607.8 42.3L606.9 32.7L611.3 40.2L608.8 36.2L612.0 16.4L601.6 28.7L614.8 31.3L608.6 29.2L611.7 33.5L608.5 24.0L607.5 23.6L610.8 36.8L612.3 31.8L608.2 8.5L608.4 28.4L611.7 34.8L605.5 11.2L603.0 32.8L610.6 44.5L606.3 25.8L601.4 42.4L605.8 38.1L607.1 29.4L604.3 34.2L603.1 40.9L609.2 38.7L612.6 39.1L608.1 20.6L606.0 40.5L610.5 38.9L611.9 11.4L607.8 38.7L611.2 17.2L613.2 19.0L608.2 34.5L605.8 47.9L610.4 28.1L610.0 25.8L613.4 22.7L603.9 32.1L606.4 20.2L605.7 18.2L602.1 44.0L609.5 17.8L611.1 31.0L606.1 38.9L614.5 36.2L612.3 13.1L611.5 22.5L610.6 51.8L612.8 32.0L603.7 34.4L611.4 34.7L611.4 38.3L602.0 48.3L610.4 23.8L608.0 42.8L612.1 36.8L607.3 39.2L608.9 40.6L610.4 25.0L605.5 28.8L611.4 40.0L608.6 42.9L611.0 37.8L606.9 22.7L613.3 31.6L611.4 30.4L608.3 36.3L611.5 35.6L614.0 30.6L614.8 52.3L602.7 15.9L612.5 41.2L610.9 38.9L608.6 18.7L605.0 30.5L614.0 32.4L604.0 39.0L611.3 49.4L614.2 30.9L602.6 20.3L607.8 42.4L603.8 18.5L610.0 44.8L614.7 40.6L600.2 27.5L604.2 32.9L603.6 25.6L573.7 40.7L579.1 43.8L612.9 52.6L612.7 45.6L598.3 44.2L597.6 47.9L613.3 29.6L588.4 39.9L605.8 53.9L608.7 8.5L603.5 41.7L586.9 46.1L573.1 19.8L612.5 20.6L597.3 45.0L603.2 48.4L594.0 43.4L601.2 21.0L594.3 36.2L594.5 41.4L602.0 33.2L606.5 20.2L600.5 47.6L604.9 36.9L573.9 47.5L601.1 9.9L595.4 13.7L612.3 22.8L611.0 34.3L595.6 25.9L608.3 55.1L574.9 30.0L603.1 47.0L605.7 46.9L613.6 40.3L586.7 36.6L585.3 26.8L599.0 25.5L614.8 30.1L600.1 42.9L603.7 25.7L584.3 34.2L614.7 20.4L600.1 42.6L590.5 62.1L611.2 37.9L609.3 10.2L605.0 27.9L593.0 34.9L596.7 23.5L612.6 27.6L614.0 28.0L585.8 38.3L608.8 32.1L590.0 30.8L605.8 39.7L587.7 44.7L597.6 31.4L590.0 22.7L606.0 26.0L592.7 27.7L604.9 27.6L596.0 8.5L575.6 30.1L612.9 21.9L590.9 12.2L593.9 32.3L576.0 30.1L609.8 21.9L594.0 15.1L576.8 29.6L598.4 29.0L598.7 31.9L596.7 45.6L596.7 21.1L583.2 35.5L607.4 51.0L596.8 34.4L598.0 51.1L589.7 43.5L610.0 32.7L583.6 42.6L611.9 21.5L608.8 48.3L609.2 30.0L606.0 26.9L609.2 17.4L599.4 23.1L606.1 30.3L610.1 31.9L595.0 33.4L592.8 20.8L611.9 39.7L598.5 27.3L590.7 33.8L605.7 30.2L593.4 35.5L610.9 10.2L609.3 39.7L594.3 30.1L599.9 29.9L601.0 26.3L575.2 28.0L614.2 28.3L582.8 22.4L609.7 48.6L588.0 32.7L610.0 45.8L574.8 30.3L607.6 45.2L581.5 42.9L587.5 33.4L599.4 18.0L602.3 26.6L572.2 29.6L613.0 17.9L607.8 42.7L595.5 54.8L613.5 37.2L611.7 35.7L608.2 19.7L593.9 10.1L583.9 46.8L612.8 8.5L583.7 16.2L588.2 23.9L573.3 28.8L603.2 8.5L608.6 31.9L606.6 37.7L607.6 31.3L598.8 47.2L576.3 27.7L612.0 33.9L602.0 29.2L614.8 28.9L588.8 43.9L611.2 18.8L596.6 43.4L608.3 23.4L604.7 49.6L586.8 28.8" fill="none" stroke="none" marker-start="url(#m)" marker-mid="url(#m)" marker-end="url(#m)"/>
<line x1="556.79" y1="32.88" x2="615.2" y2="31.82" stroke="#4570e6" stroke-width="0.9"/>
<text x="616.3" y="10.5" font-size="3.1" text-anchor="end" fill="#ff2020" stroke="#ff2020" stroke-width="0.06">Rho = 0.038</text>
<text x="616.3" y="13.5" font-size="3.1" text-anchor="end" fill="#ff2020" stroke="#ff2020" stroke-width="0.06">p = 4.40e-01</text>
<rect x="553.4" y="6.9" width="63.4" height="60.3" fill="none" stroke="#858585" stroke-width="0.8"/>
<line x1="562.1" y1="67.2" x2="562.1" y2="68.2" stroke="#555" stroke-width="0.5"/>
<text x="562.1" y="72.5" font-size="3.6" text-anchor="middle" fill="#333" stroke="#333" stroke-width="0.1" textLength="4.38" lengthAdjust="spacingAndGlyphs">0.4</text>
<line x1="579.8" y1="67.2" x2="579.8" y2="68.2" stroke="#555" stroke-width="0.5"/>
<text x="579.8" y="72.5" font-size="3.6" text-anchor="middle" fill="#333" stroke="#333" stroke-width="0.1" textLength="4.38" lengthAdjust="spacingAndGlyphs">0.6</text>
<line x1="597.5" y1="67.2" x2="597.5" y2="68.2" stroke="#555" stroke-width="0.5"/>
<text x="597.5" y="72.5" font-size="3.6" text-anchor="middle" fill="#333" stroke="#333" stroke-width="0.1" textLength="4.38" lengthAdjust="spacingAndGlyphs">0.8</text>
<line x1="615.2" y1="67.2" x2="615.2" y2="68.2" stroke="#555" stroke-width="0.5"/>
<text x="615.2" y="72.5" font-size="3.6" text-anchor="middle" fill="#333" stroke="#333" stroke-width="0.1" textLength="4.38" lengthAdjust="spacingAndGlyphs">1.0</text>
<text x="582.4" y="76.9" font-size="4.6" text-anchor="middle" fill="#222" stroke="#222" stroke-width="0.08" textLength="10.61" lengthAdjust="spacingAndGlyphs">Purity</text>
<rect x="619.1" y="-0.2" width="63.9" height="7.1" fill="#d9d9d9" stroke="#858585" stroke-width="0.8"/>
<svg x="619.6" y="-0.2" width="62.9" height="7.1" overflow="hidden">
<text x="31.45" y="5.15" font-size="3.3" text-anchor="middle" fill="#222" stroke="#222" stroke-width="0.08">Cancer associated fibroblast_MCPCOUNTER</text>
</svg>
<rect x="619.1" y="6.9" width="63.9" height="60.3" fill="#fff"/>
<line x1="629.3" y1="6.9" x2="629.3" y2="67.2" stroke="#f4f4f4" stroke-width="0.5"/>
<line x1="644.7" y1="6.9" x2="644.7" y2="67.2" stroke="#f4f4f4" stroke-width="0.5"/>
<line x1="659.5" y1="6.9" x2="659.5" y2="67.2" stroke="#f4f4f4" stroke-width="0.5"/>
<line x1="674.2" y1="6.9" x2="674.2" y2="67.2" stroke="#f4f4f4" stroke-width="0.5"/>
<line x1="619.1" y1="54" x2="683" y2="54" stroke="#f4f4f4" stroke-width="0.5"/>
<line x1="619.1" y1="40.8" x2="683" y2="40.8" stroke="#f4f4f4" stroke-width="0.5"/>
<line x1="619.1" y1="27.6" x2="683" y2="27.6" stroke="#f4f4f4" stroke-width="0.5"/>
<line x1="619.1" y1="14.4" x2="683" y2="14.4" stroke="#f4f4f4" stroke-width="0.5"/>
<line x1="621.6" y1="6.9" x2="621.6" y2="67.2" stroke="#ebebeb" stroke-width="0.7"/>
<line x1="637" y1="6.9" x2="637" y2="67.2" stroke="#ebebeb" stroke-width="0.7"/>
<line x1="651.8" y1="6.9" x2="651.8" y2="67.2" stroke="#ebebeb" stroke-width="0.7"/>
<line x1="666.5" y1="6.9" x2="666.5" y2="67.2" stroke="#ebebeb" stroke-width="0.7"/>
<line x1="680.6" y1="6.9" x2="680.6" y2="67.2" stroke="#ebebeb" stroke-width="0.7"/>
<line x1="619.1" y1="60.6" x2="683" y2="60.6" stroke="#ebebeb" stroke-width="0.7"/>
<line x1="619.1" y1="47.4" x2="683" y2="47.4" stroke="#ebebeb" stroke-width="0.7"/>
<line x1="619.1" y1="34.2" x2="683" y2="34.2" stroke="#ebebeb" stroke-width="0.7"/>
<line x1="619.1" y1="21" x2="683" y2="21" stroke="#ebebeb" stroke-width="0.7"/>
<line x1="619.1" y1="7.8" x2="683" y2="7.8" stroke="#ebebeb" stroke-width="0.7"/>
<polygon points="621,31.5 624.97,31.21 628.93,30.62 632.9,29.62 636.87,28.57 640.83,27.48 644.8,26.37 648.77,25.24 652.73,24.1 656.7,22.94 660.67,21.78 664.63,20.6 668.6,19.41 672.57,18.21 676.53,17.01 680.5,15.8 680.5,31.2 676.53,31.22 672.57,31.24 668.6,31.27 664.63,31.31 660.67,31.36 656.7,31.42 652.73,31.49 648.77,31.57 644.8,31.67 640.83,31.79 636.87,31.93 632.9,32.1 628.93,32.33 624.97,32.97 621,33.9" fill="#999999" fill-opacity="0.45"/>
<path d="M621.2 25.7L621.9 28.2L621.8 15.7L621.9 33.7L621.6 47.3L621.3 34.2L621.5 36.1L621.6 23.3L621.4 46.2L621.9 25.3L621.9 40.2L621.5 33.6L621.2 23.5L621.1 42.4L621.2 32.8L621.2 34.4L621.3 36.9L621.4 32.4L621.6 29.0L621.2 37.1L621.4 28.8L621.6 33.2L621.1 26.3L621.3 18.5L621.2 26.3L622.1 27.8L621.3 32.8L621.7 43.9L621.5 16.6L621.8 33.8L621.9 11.5L621.2 22.7L621.2 27.8L621.1 11.3L621.6 15.0L621.4 34.1L621.7 33.3L621.2 31.6L621.4 25.0L621.2 53.1L621.4 31.1L621.3 24.5L621.3 48.6L621.3 38.5L621.9 29.0L621.6 43.9L621.2 34.2L621.3 38.8L621.2 34.9L622.0 22.8L621.4 41.9L621.4 34.2L621.1 23.1L621.7 25.3L621.0 41.8L621.3 29.1L621.3 33.1L621.0 38.9L621.4 33.9L621.2 18.2L621.7 38.6L622.2 41.4L621.5 40.9L621.2 48.0L621.8 36.0L621.4 40.0L621.6 47.7L621.0 29.9L621.5 49.1L621.2 49.2L621.1 40.1L621.1 50.2L621.2 40.8L622.1 24.2L621.0 43.5L632.3 34.1L622.0 36.5L622.6 33.9L621.8 45.5L626.3 37.1L625.9 25.3L623.9 36.9L622.9 39.3L629.7 24.5L646.9 24.6L624.6 28.5L623.2 26.6L623.7 35.6L622.6 42.1L623.3 50.3L621.9 43.9L624.2 41.9L629.1 42.3L628.5 44.2L622.1 29.0L628.2 38.2L621.1 35.8L625.0 30.8L621.2 28.3L621.4 27.8L622.9 29.9L628.2 19.9L623.9 37.2L622.3 32.3L625.5 33.0L622.2 35.7L622.1 39.4L622.3 26.9L623.7 31.3L630.0 16.0L622.8 11.3L623.1 13.9L621.1 47.3L628.7 14.1L621.4 37.1L624.4 46.2L629.3 27.1L622.1 48.0L628.8 49.0L624.6 41.1L621.0 55.2L622.0 38.5L627.3 24.8L621.5 37.6L621.5 28.4L622.2 20.2L642.3 17.3L623.0 54.4L623.0 27.3L626.8 31.6L624.8 25.9L625.2 33.4L622.0 30.4L627.0 28.0L630.8 19.8L624.0 18.9L624.8 25.1L626.3 34.8L624.2 52.1L621.0 42.8L621.8 50.0L632.0 35.8L627.1 31.1L630.4 18.8L630.3 31.4L625.4 11.8L631.2 28.4L622.5 48.1L624.4 35.5L624.3 43.1L626.1 28.5L627.1 18.9L621.5 28.3L626.0 28.3L634.6 42.3L629.2 50.4L623.7 25.5L630.4 28.0L623.0 31.2L625.0 29.0L622.6 20.8L633.6 31.9L623.9 35.9L624.7 36.0L623.8 21.0L624.7 31.3L629.9 15.0L627.2 40.7L627.9 22.2L631.5 28.7L627.4 27.7L629.1 26.2L623.9 22.5L622.0 16.0L622.1 49.3L632.0 33.7L622.6 35.3L625.0 52.3L622.0 31.9L630.4 36.8L633.7 31.2L628.7 43.1L621.4 37.7L624.0 35.5L623.7 30.1L625.0 35.0L622.2 43.9L623.3 12.9L627.0 30.8L637.3 26.5L626.8 29.3L630.8 12.7L623.4 39.6L624.9 24.4L632.8 29.0L621.1 28.2L622.1 17.0L621.0 28.8L621.4 15.4L621.5 24.0L622.3 29.8L623.0 32.7L624.3 33.0L624.4 31.2L626.0 52.6L634.1 35.1L623.9 20.9L628.5 26.0L621.1 26.8L635.2 29.1L625.4 26.6L630.7 23.4L621.9 48.5L637.9 30.8L622.8 29.5L621.6 30.5L623.9 30.5L624.3 45.7L622.0 37.4L628.0 42.6L622.7 8.1L623.3 35.8L621.4 43.0L622.2 51.6L634.1 31.3L624.2 16.2L624.5 38.1L627.2 26.4L622.8 15.7L621.0 27.2L621.7 43.0L621.8 44.3L624.4 39.4L622.3 22.9L623.8 56.5L621.1 21.9L622.2 32.1L621.4 19.2L625.6 44.9L625.5 36.6L628.4 40.3L621.3 33.9L627.5 31.4L627.7 33.7L637.2 12.6L622.0 42.4L624.0 41.3L621.9 29.2L626.7 32.1L624.3 35.4" fill="none" stroke="none" marker-start="url(#m)" marker-mid="url(#m)" marker-end="url(#m)"/>
<line x1="621" y1="32.7" x2="680.5" y2="23.5" stroke="#4570e6" stroke-width="0.9"/>
<text x="682.5" y="10.5" font-size="3.1" text-anchor="end" fill="#ff2020" stroke="#ff2020" stroke-width="0.06">Rho = 0.206</text>
<text x="682.5" y="13.5" font-size="3.1" text-anchor="end" fill="#ff2020" stroke="#ff2020" stroke-width="0.06">p = 9.35e-04</text>
<rect x="619.1" y="6.9" width="63.9" height="60.3" fill="none" stroke="#858585" stroke-width="0.8"/>
<line x1="621.6" y1="67.2" x2="621.6" y2="68.2" stroke="#555" stroke-width="0.5"/>
<text x="621.6" y="72.5" font-size="3.6" text-anchor="middle" fill="#333" stroke="#333" stroke-width="0.1" textLength="1.75" lengthAdjust="spacingAndGlyphs">0</text>
<line x1="637" y1="67.2" x2="637" y2="68.2" stroke="#555" stroke-width="0.5"/>
<text x="637" y="72.5" font-size="3.6" text-anchor="middle" fill="#333" stroke="#333" stroke-width="0.1" textLength="8.76" lengthAdjust="spacingAndGlyphs">10000</text>
<line x1="651.8" y1="67.2" x2="651.8" y2="68.2" stroke="#555" stroke-width="0.5"/>
<text x="651.8" y="72.5" font-size="3.6" text-anchor="middle" fill="#333" stroke="#333" stroke-width="0.1" textLength="8.76" lengthAdjust="spacingAndGlyphs">20000</text>
<line x1="666.5" y1="67.2" x2="666.5" y2="68.2" stroke="#555" stroke-width="0.5"/>
<text x="666.5" y="72.5" font-size="3.6" text-anchor="middle" fill="#333" stroke="#333" stroke-width="0.1" textLength="8.76" lengthAdjust="spacingAndGlyphs">30000</text>
<line x1="680.6" y1="67.2" x2="680.6" y2="68.2" stroke="#555" stroke-width="0.5"/>
<text x="680.6" y="72.5" font-size="3.6" text-anchor="middle" fill="#333" stroke="#333" stroke-width="0.1" textLength="8.76" lengthAdjust="spacingAndGlyphs">40000</text>
<text x="649.45" y="76.8" font-size="4.6" text-anchor="middle" fill="#222" stroke="#222" stroke-width="0.08" textLength="29.07" lengthAdjust="spacingAndGlyphs">Infiltration Level</text>
<rect x="365.5" y="93.1" width="7" height="60.6" fill="#d9d9d9" stroke="#858585" stroke-width="0.8"/>
<text x="370.1" y="123.8" font-size="3.1" text-anchor="middle" fill="#333" transform="rotate(-90 370.1 123.8)" stroke="#333" stroke-width="0.12">OV</text>
<line x1="364.5" y1="146.8" x2="365.5" y2="146.8" stroke="#555" stroke-width="0.5"/>
<text x="363.4" y="148.3" font-size="3.6" text-anchor="end" fill="#333" stroke="#333" stroke-width="0.1" textLength="1.78" lengthAdjust="spacingAndGlyphs">2</text>
<line x1="364.5" y1="133.6" x2="365.5" y2="133.6" stroke="#555" stroke-width="0.5"/>
<text x="363.4" y="135.1" font-size="3.6" text-anchor="end" fill="#333" stroke="#333" stroke-width="0.1" textLength="1.78" lengthAdjust="spacingAndGlyphs">3</text>
<line x1="364.5" y1="120.4" x2="365.5" y2="120.4" stroke="#555" stroke-width="0.5"/>
<text x="363.4" y="121.9" font-size="3.6" text-anchor="end" fill="#333" stroke="#333" stroke-width="0.1" textLength="1.78" lengthAdjust="spacingAndGlyphs">4</text>
<line x1="364.5" y1="107.2" x2="365.5" y2="107.2" stroke="#555" stroke-width="0.5"/>
<text x="363.4" y="108.7" font-size="3.6" text-anchor="end" fill="#333" stroke="#333" stroke-width="0.1" textLength="1.78" lengthAdjust="spacingAndGlyphs">5</text>
<line x1="364.5" y1="94" x2="365.5" y2="94" stroke="#555" stroke-width="0.5"/>
<text x="363.4" y="95.5" font-size="3.6" text-anchor="end" fill="#333" stroke="#333" stroke-width="0.1" textLength="1.78" lengthAdjust="spacingAndGlyphs">6</text>
<text x="359.3" y="123.4" font-size="4.6" text-anchor="middle" fill="#333" transform="rotate(-90 359.3 123.4)" stroke="#333" stroke-width="0.06" textLength="71.60" lengthAdjust="spacingAndGlyphs">SLC45A4 Expression Level (log2 TPM)</text>
<rect x="372.5" y="86.3" width="63.9" height="6.8" fill="#d9d9d9" stroke="#858585" stroke-width="0.8"/>
<text x="404.45" y="91.3" font-size="3.3" text-anchor="middle" fill="#222" stroke="#222" stroke-width="0.08">Purity</text>
<rect x="372.5" y="93.1" width="63.9" height="60.6" fill="#fff"/>
<line x1="390.05" y1="93.1" x2="390.05" y2="153.7" stroke="#f4f4f4" stroke-width="0.5"/>
<line x1="407.75" y1="93.1" x2="407.75" y2="153.7" stroke="#f4f4f4" stroke-width="0.5"/>
<line x1="425.45" y1="93.1" x2="425.45" y2="153.7" stroke="#f4f4f4" stroke-width="0.5"/>
<line x1="372.5" y1="153.4" x2="436.4" y2="153.4" stroke="#f4f4f4" stroke-width="0.5"/>
<line x1="372.5" y1="140.2" x2="436.4" y2="140.2" stroke="#f4f4f4" stroke-width="0.5"/>
<line x1="372.5" y1="127" x2="436.4" y2="127" stroke="#f4f4f4" stroke-width="0.5"/>
<line x1="372.5" y1="113.8" x2="436.4" y2="113.8" stroke="#f4f4f4" stroke-width="0.5"/>
<line x1="372.5" y1="100.6" x2="436.4" y2="100.6" stroke="#f4f4f4" stroke-width="0.5"/>
<line x1="381.2" y1="93.1" x2="381.2" y2="153.7" stroke="#ebebeb" stroke-width="0.7"/>
<line x1="398.9" y1="93.1" x2="398.9" y2="153.7" stroke="#ebebeb" stroke-width="0.7"/>
<line x1="416.6" y1="93.1" x2="416.6" y2="153.7" stroke="#ebebeb" stroke-width="0.7"/>
<line x1="434.3" y1="93.1" x2="434.3" y2="153.7" stroke="#ebebeb" stroke-width="0.7"/>
<line x1="372.5" y1="146.8" x2="436.4" y2="146.8" stroke="#ebebeb" stroke-width="0.7"/>
<line x1="372.5" y1="133.6" x2="436.4" y2="133.6" stroke="#ebebeb" stroke-width="0.7"/>
<line x1="372.5" y1="120.4" x2="436.4" y2="120.4" stroke="#ebebeb" stroke-width="0.7"/>
<line x1="372.5" y1="107.2" x2="436.4" y2="107.2" stroke="#ebebeb" stroke-width="0.7"/>
<line x1="372.5" y1="94" x2="436.4" y2="94" stroke="#ebebeb" stroke-width="0.7"/>
<polygon points="375.89,114.59 381.2,115.13 386.51,115.63 391.82,116.08 397.13,116.48 402.44,116.84 407.75,117.13 413.06,117.35 418.37,117.47 423.68,117.38 428.99,117.06 434.3,116.65 434.3,119.42 428.99,119.2 423.68,119.07 418.37,119.16 413.06,119.48 407.75,119.89 402.44,120.37 397.13,120.92 391.82,121.51 386.51,122.15 381.2,122.84 375.89,123.57" fill="#999999" fill-opacity="0.45"/>
<path d="M428.2 131.1L433.5 104.4L433.0 101.5L426.1 121.1L426.9 128.5L426.0 118.9L430.4 126.4L427.9 122.4L431.1 102.6L420.7 114.9L433.9 117.5L427.7 115.4L430.8 119.7L427.6 110.2L426.6 109.8L429.9 123.0L431.4 118.0L427.3 94.7L427.5 114.6L430.8 121.0L424.6 97.4L422.1 119.0L429.7 130.7L425.4 112.0L420.5 128.6L424.9 124.3L426.2 115.6L423.4 120.4L422.2 127.1L428.3 124.9L431.7 125.3L427.2 106.8L425.1 126.7L429.6 125.1L431.0 97.6L426.9 124.9L430.3 103.4L432.3 105.2L427.3 120.7L424.9 134.1L429.5 114.3L429.1 112.0L432.5 108.9L423.0 118.3L425.5 106.4L424.8 104.4L421.2 130.2L428.6 104.0L430.2 117.2L425.2 125.1L433.6 122.4L431.4 99.3L430.6 108.7L429.7 138.0L431.9 118.2L422.8 120.6L430.5 120.9L430.5 124.5L421.1 134.5L429.5 110.0L427.1 129.0L431.2 123.0L426.4 125.4L428.0 126.8L429.5 111.2L424.6 115.0L430.5 126.2L427.7 129.1L430.1 124.0L426.0 108.9L432.4 117.8L430.5 116.6L427.4 122.5L430.6 121.8L433.1 116.8L433.9 138.5L421.8 102.1L431.6 127.4L430.0 125.1L427.7 104.9L424.1 116.7L433.1 118.6L423.1 125.2L430.4 135.6L433.3 117.1L421.7 106.5L426.9 128.6L422.9 104.7L429.1 131.0L433.8 126.8L419.3 113.7L423.3 119.1L422.7 111.8L392.8 126.9L398.2 130.0L432.0 138.8L431.8 131.8L417.4 130.4L416.7 134.1L432.4 115.8L407.5 126.1L424.9 140.1L427.8 94.7L422.6 127.9L406.0 132.3L392.2 106.0L431.6 106.8L416.4 131.2L422.3 134.6L413.1 129.6L420.3 107.2L413.4 122.4L413.6 127.6L421.1 119.4L425.6 106.4L419.6 133.8L424.0 123.1L393.0 133.7L420.2 96.1L414.5 99.9L431.4 109.0L430.1 120.5L414.7 112.1L427.4 141.3L394.0 116.2L422.2 133.2L424.8 133.1L432.7 126.5L405.8 122.8L404.4 113.0L418.1 111.7L433.9 116.3L419.2 129.1L422.8 111.9L403.4 120.4L433.8 106.6L419.2 128.8L409.6 148.3L430.3 124.1L428.4 96.4L424.1 114.1L412.1 121.1L415.8 109.7L431.7 113.8L433.1 114.2L404.9 124.5L427.9 118.3L409.1 117.0L424.9 125.9L406.8 130.9L416.7 117.6L409.1 108.9L425.1 112.2L411.8 113.9L424.0 113.8L415.1 94.7L394.7 116.3L432.0 108.1L410.0 98.4L413.0 118.5L395.1 116.3L428.9 108.1L413.1 101.3L395.9 115.8L417.5 115.2L417.8 118.1L415.8 131.8L415.8 107.3L402.3 121.7L426.5 137.2L415.9 120.6L417.1 137.3L408.8 129.7L429.1 118.9L402.7 128.8L431.0 107.7L427.9 134.5L428.3 116.2L425.1 113.1L428.3 103.6L418.5 109.3L425.2 116.5L429.2 118.1L414.1 119.6L411.9 107.0L431.0 125.9L417.6 113.5L409.8 120.0L424.8 116.4L412.5 121.7L430.0 96.4L428.4 125.9L413.4 116.3L419.0 116.1L420.1 112.5L394.3 114.2L433.3 114.5L401.9 108.6L428.8 134.8L407.1 118.9L429.1 132.0L393.9 116.5L426.7 131.4L400.6 129.1L406.6 119.6L418.5 104.2L421.4 112.8L391.3 115.8L432.1 104.1L426.9 128.9L414.6 141.0L432.6 123.4L430.8 121.9L427.3 105.9L413.0 96.3L403.0 133.0L431.9 94.7L402.8 102.4L407.3 110.1L392.4 115.0L422.3 94.7L427.7 118.1L425.7 123.9L426.7 117.5L417.9 133.4L395.4 113.9L431.1 120.1L421.1 115.4L433.9 115.1L407.9 130.1L430.3 105.0L415.7 129.6L427.4 109.6L423.8 135.8L405.9 115.0" fill="none" stroke="none" marker-start="url(#m)" marker-mid="url(#m)" marker-end="url(#m)"/>
<line x1="375.89" y1="119.08" x2="434.3" y2="118.02" stroke="#4570e6" stroke-width="0.9"/>
<text x="435.9" y="96.7" font-size="3.1" text-anchor="end" fill="#ff2020" stroke="#ff2020" stroke-width="0.06">Rho = 0.038</text>
<text x="435.9" y="99.7" font-size="3.1" text-anchor="end" fill="#ff2020" stroke="#ff2020" stroke-width="0.06">p = 4.40e-01</text>
<rect x="372.5" y="93.1" width="63.9" height="60.6" fill="none" stroke="#858585" stroke-width="0.8"/>
<line x1="381.2" y1="153.7" x2="381.2" y2="154.7" stroke="#555" stroke-width="0.5"/>
<text x="381.2" y="159" font-size="3.6" text-anchor="middle" fill="#333" stroke="#333" stroke-width="0.1" textLength="4.38" lengthAdjust="spacingAndGlyphs">0.4</text>
<line x1="398.9" y1="153.7" x2="398.9" y2="154.7" stroke="#555" stroke-width="0.5"/>
<text x="398.9" y="159" font-size="3.6" text-anchor="middle" fill="#333" stroke="#333" stroke-width="0.1" textLength="4.38" lengthAdjust="spacingAndGlyphs">0.6</text>
<line x1="416.6" y1="153.7" x2="416.6" y2="154.7" stroke="#555" stroke-width="0.5"/>
<text x="416.6" y="159" font-size="3.6" text-anchor="middle" fill="#333" stroke="#333" stroke-width="0.1" textLength="4.38" lengthAdjust="spacingAndGlyphs">0.8</text>
<line x1="434.3" y1="153.7" x2="434.3" y2="154.7" stroke="#555" stroke-width="0.5"/>
<text x="434.3" y="159" font-size="3.6" text-anchor="middle" fill="#333" stroke="#333" stroke-width="0.1" textLength="4.38" lengthAdjust="spacingAndGlyphs">1.0</text>
<text x="401.75" y="163.4" font-size="4.6" text-anchor="middle" fill="#222" stroke="#222" stroke-width="0.08" textLength="10.61" lengthAdjust="spacingAndGlyphs">Purity</text>
<rect x="438.4" y="86.3" width="63.3" height="6.8" fill="#d9d9d9" stroke="#858585" stroke-width="0.8"/>
<svg x="438.9" y="86.3" width="62.3" height="6.8" overflow="hidden">
<text x="31.15" y="5" font-size="3.3" text-anchor="middle" fill="#222" stroke="#222" stroke-width="0.08">Cancer associated fibroblast_XCELL</text>
</svg>
<rect x="438.4" y="93.1" width="63.3" height="60.6" fill="#fff"/>
<line x1="447.5" y1="93.1" x2="447.5" y2="153.7" stroke="#f4f4f4" stroke-width="0.5"/>
<line x1="459.3" y1="93.1" x2="459.3" y2="153.7" stroke="#f4f4f4" stroke-width="0.5"/>
<line x1="471" y1="93.1" x2="471" y2="153.7" stroke="#f4f4f4" stroke-width="0.5"/>
<line x1="482.8" y1="93.1" x2="482.8" y2="153.7" stroke="#f4f4f4" stroke-width="0.5"/>
<line x1="494.6" y1="93.1" x2="494.6" y2="153.7" stroke="#f4f4f4" stroke-width="0.5"/>
<line x1="438.4" y1="153.4" x2="501.7" y2="153.4" stroke="#f4f4f4" stroke-width="0.5"/>
<line x1="438.4" y1="140.2" x2="501.7" y2="140.2" stroke="#f4f4f4" stroke-width="0.5"/>
<line x1="438.4" y1="127" x2="501.7" y2="127" stroke="#f4f4f4" stroke-width="0.5"/>
<line x1="438.4" y1="113.8" x2="501.7" y2="113.8" stroke="#f4f4f4" stroke-width="0.5"/>
<line x1="438.4" y1="100.6" x2="501.7" y2="100.6" stroke="#f4f4f4" stroke-width="0.5"/>
<line x1="441.6" y1="93.1" x2="441.6" y2="153.7" stroke="#ebebeb" stroke-width="0.7"/>
<line x1="453.4" y1="93.1" x2="453.4" y2="153.7" stroke="#ebebeb" stroke-width="0.7"/>
<line x1="465.1" y1="93.1" x2="465.1" y2="153.7" stroke="#ebebeb" stroke-width="0.7"/>
<line x1="476.9" y1="93.1" x2="476.9" y2="153.7" stroke="#ebebeb" stroke-width="0.7"/>
<line x1="488.7" y1="93.1" x2="488.7" y2="153.7" stroke="#ebebeb" stroke-width="0.7"/>
<line x1="499.9" y1="93.1" x2="499.9" y2="153.7" stroke="#ebebeb" stroke-width="0.7"/>
<line x1="438.4" y1="146.8" x2="501.7" y2="146.8" stroke="#ebebeb" stroke-width="0.7"/>
<line x1="438.4" y1="133.6" x2="501.7" y2="133.6" stroke="#ebebeb" stroke-width="0.7"/>
<line x1="438.4" y1="120.4" x2="501.7" y2="120.4" stroke="#ebebeb" stroke-width="0.7"/>
<line x1="438.4" y1="107.2" x2="501.7" y2="107.2" stroke="#ebebeb" stroke-width="0.7"/>
<line x1="438.4" y1="94" x2="501.7" y2="94" stroke="#ebebeb" stroke-width="0.7"/>
<polygon points="441.4,117.5 445.27,117.35 449.15,116.9 453.02,116.09 456.89,115.22 460.77,114.32 464.64,113.4 468.51,112.46 472.39,111.51 476.26,110.55 480.13,109.58 484.01,108.6 487.88,107.61 491.75,106.61 495.63,105.61 499.5,104.6 499.5,118.6 495.63,118.54 491.75,118.48 487.88,118.43 484.01,118.39 480.13,118.35 476.26,118.33 472.39,118.31 468.51,118.31 464.64,118.32 460.77,118.35 456.89,118.4 453.02,118.47 449.15,118.6 445.27,119.11 441.4,119.9" fill="#999999" fill-opacity="0.45"/>
<path d="M442.2 129.4L441.6 121.2L441.4 116.7L441.6 133.9L442.1 110.6L441.7 128.4L441.5 116.3L441.5 121.2L441.5 119.5L441.8 120.4L441.6 118.7L441.6 111.7L441.8 113.7L441.5 123.4L441.4 118.1L441.7 108.1L442.2 112.4L442.0 112.5L442.0 118.5L441.8 120.8L441.4 120.0L442.0 112.8L441.4 119.3L441.8 106.0L442.0 94.3L441.5 118.6L441.5 103.4L441.5 110.1L441.9 107.5L441.8 125.0L441.5 107.5L442.2 121.6L441.6 114.4L441.5 107.3L442.3 103.9L441.6 123.4L441.4 122.6L442.0 126.2L441.4 136.4L441.4 121.5L441.5 121.6L442.1 117.7L441.9 119.9L441.6 115.6L441.5 110.4L441.9 137.8L441.5 101.2L442.1 121.2L441.7 123.0L441.9 120.2L441.6 109.7L442.2 116.9L442.5 114.3L441.6 108.6L441.7 118.3L441.5 114.9L441.6 113.5L441.6 125.2L441.5 108.7L441.7 122.9L441.6 112.9L441.7 122.7L441.9 119.3L441.9 120.9L441.8 109.4L443.0 111.1L441.9 110.5L441.5 120.3L441.5 125.8L442.2 128.8L442.1 113.8L441.6 119.4L441.7 103.3L441.5 97.6L441.5 110.4L441.8 112.3L441.7 103.9L441.6 101.7L442.1 123.6L441.7 110.9L441.4 102.7L441.9 140.5L442.1 120.1L441.9 115.5L442.3 124.9L441.9 111.3L441.8 133.5L445.5 103.4L441.9 106.1L441.5 117.2L448.2 110.4L445.9 131.3L458.9 101.2L445.2 111.1L453.8 119.2L451.4 122.6L446.1 127.4L456.1 119.9L443.3 139.1L444.1 113.6L451.6 118.8L448.9 125.6L442.2 115.3L449.4 114.6L462.1 111.5L446.9 111.6L443.6 107.4L446.6 112.5L447.5 102.9L442.2 121.8L448.9 102.3L460.1 135.6L441.8 134.4L444.4 128.4L445.9 115.8L443.9 112.4L447.1 129.2L442.9 119.8L455.0 121.9L452.7 110.1L449.2 127.4L452.0 109.4L451.9 118.0L444.3 101.5L446.0 111.5L449.9 122.0L449.3 113.0L444.0 113.7L446.4 125.1L442.6 117.4L469.0 126.6L442.8 95.2L442.1 123.5L443.8 122.7L442.5 103.5L466.5 102.9L451.8 125.3L446.5 107.5L442.1 112.1L467.4 120.7L462.0 112.5L449.1 121.8L451.2 108.8L445.8 120.5L459.8 126.2L451.9 120.0L448.0 96.6L459.8 122.1L442.9 118.6L454.5 108.0L452.8 130.0L444.9 101.3L446.4 135.3L442.4 112.1L447.5 132.3L448.3 116.9L446.8 104.9L490.3 113.1L442.4 121.2L443.0 123.1L446.1 127.6L442.2 109.6L445.5 122.3L453.0 123.7L451.3 114.4L441.9 109.3L445.8 108.6L444.0 125.0L459.1 123.6L451.8 109.1L445.6 105.0L453.1 128.5L446.6 102.8L449.9 118.6L441.6 110.5L444.0 101.2L453.8 117.8L442.5 116.2L443.9 131.5L447.5 138.9L442.1 116.3L447.7 127.1L447.9 127.3L459.7 111.0L442.8 109.8L447.7 132.6L463.9 112.0L453.0 116.5L444.3 115.1L449.8 115.9L444.3 112.1L446.0 124.7L442.0 130.0L453.2 113.2L449.3 104.2L447.8 117.9L442.6 103.9L462.0 109.6L445.2 129.3L451.6 138.9L452.6 120.4L441.8 108.0L443.2 125.3L443.8 96.6L452.9 110.2L443.6 132.3L443.7 124.9L472.0 101.4L447.2 101.7L453.5 124.8L456.7 115.8L461.0 110.2L442.2 122.0L443.2 112.5L445.5 99.5L465.6 122.9L443.8 111.7L442.5 108.6L446.9 104.9L442.4 120.4L450.6 109.4L444.8 123.7L446.3 115.0L443.7 128.1L452.9 113.1L441.7 111.9L448.4 98.7L456.0 106.0L443.1 124.8L445.9 146.5L450.7 105.2L443.2 108.1L443.6 121.1L474.1 118.7L441.7 111.7L444.5 118.5L445.6 102.5L442.1 115.3L442.2 126.6L444.1 133.3L453.0 115.2L442.9 115.5L474.9 118.4L442.5 128.5L444.6 122.4L453.5 109.6L451.4 120.3L448.6 126.5L446.4 110.8L447.5 104.8" fill="none" stroke="none" marker-start="url(#m)" marker-mid="url(#m)" marker-end="url(#m)"/>
<line x1="441.4" y1="118.7" x2="499.5" y2="111.6" stroke="#4570e6" stroke-width="0.9"/>
<text x="501.2" y="96.7" font-size="3.1" text-anchor="end" fill="#ff2020" stroke="#ff2020" stroke-width="0.06">Rho = 0.14</text>
<text x="501.2" y="99.7" font-size="3.1" text-anchor="end" fill="#ff2020" stroke="#ff2020" stroke-width="0.06">p = 1.19e-02</text>
<rect x="438.4" y="93.1" width="63.3" height="60.6" fill="none" stroke="#858585" stroke-width="0.8"/>
<line x1="441.6" y1="153.7" x2="441.6" y2="154.7" stroke="#555" stroke-width="0.5"/>
<text x="441.6" y="159" font-size="3.6" text-anchor="middle" fill="#333" stroke="#333" stroke-width="0.1" textLength="6.13" lengthAdjust="spacingAndGlyphs">0.00</text>
<line x1="453.4" y1="153.7" x2="453.4" y2="154.7" stroke="#555" stroke-width="0.5"/>
<text x="453.4" y="159" font-size="3.6" text-anchor="middle" fill="#333" stroke="#333" stroke-width="0.1" textLength="6.13" lengthAdjust="spacingAndGlyphs">0.05</text>
<line x1="465.1" y1="153.7" x2="465.1" y2="154.7" stroke="#555" stroke-width="0.5"/>
<text x="465.1" y="159" font-size="3.6" text-anchor="middle" fill="#333" stroke="#333" stroke-width="0.1" textLength="6.13" lengthAdjust="spacingAndGlyphs">0.10</text>
<line x1="476.9" y1="153.7" x2="476.9" y2="154.7" stroke="#555" stroke-width="0.5"/>
<text x="476.9" y="159" font-size="3.6" text-anchor="middle" fill="#333" stroke="#333" stroke-width="0.1" textLength="6.13" lengthAdjust="spacingAndGlyphs">0.15</text>
<line x1="488.7" y1="153.7" x2="488.7" y2="154.7" stroke="#555" stroke-width="0.5"/>
<text x="488.7" y="159" font-size="3.6" text-anchor="middle" fill="#333" stroke="#333" stroke-width="0.1" textLength="6.13" lengthAdjust="spacingAndGlyphs">0.20</text>
<line x1="499.9" y1="153.7" x2="499.9" y2="154.7" stroke="#555" stroke-width="0.5"/>
<text x="499.9" y="159" font-size="3.6" text-anchor="middle" fill="#333" stroke="#333" stroke-width="0.1" textLength="6.13" lengthAdjust="spacingAndGlyphs">0.25</text>
<text x="468.45" y="163.3" font-size="4.6" text-anchor="middle" fill="#222" stroke="#222" stroke-width="0.08" textLength="29.07" lengthAdjust="spacingAndGlyphs">Infiltration Level</text>
<rect x="546.4" y="93.1" width="7" height="60.6" fill="#d9d9d9" stroke="#858585" stroke-width="0.8"/>
<text x="551" y="123.8" font-size="3.1" text-anchor="middle" fill="#333" transform="rotate(-90 551 123.8)" stroke="#333" stroke-width="0.12">OV</text>
<line x1="545.4" y1="146.8" x2="546.4" y2="146.8" stroke="#555" stroke-width="0.5"/>
<text x="544.3" y="148.3" font-size="3.6" text-anchor="end" fill="#333" stroke="#333" stroke-width="0.1" textLength="1.78" lengthAdjust="spacingAndGlyphs">2</text>
<line x1="545.4" y1="133.6" x2="546.4" y2="133.6" stroke="#555" stroke-width="0.5"/>
<text x="544.3" y="135.1" font-size="3.6" text-anchor="end" fill="#333" stroke="#333" stroke-width="0.1" textLength="1.78" lengthAdjust="spacingAndGlyphs">3</text>
<line x1="545.4" y1="120.4" x2="546.4" y2="120.4" stroke="#555" stroke-width="0.5"/>
<text x="544.3" y="121.9" font-size="3.6" text-anchor="end" fill="#333" stroke="#333" stroke-width="0.1" textLength="1.78" lengthAdjust="spacingAndGlyphs">4</text>
<line x1="545.4" y1="107.2" x2="546.4" y2="107.2" stroke="#555" stroke-width="0.5"/>
<text x="544.3" y="108.7" font-size="3.6" text-anchor="end" fill="#333" stroke="#333" stroke-width="0.1" textLength="1.78" lengthAdjust="spacingAndGlyphs">5</text>
<line x1="545.4" y1="94" x2="546.4" y2="94" stroke="#555" stroke-width="0.5"/>
<text x="544.3" y="95.5" font-size="3.6" text-anchor="end" fill="#333" stroke="#333" stroke-width="0.1" textLength="1.78" lengthAdjust="spacingAndGlyphs">6</text>
<text x="540.2" y="123.4" font-size="4.6" text-anchor="middle" fill="#333" transform="rotate(-90 540.2 123.4)" stroke="#333" stroke-width="0.06" textLength="71.60" lengthAdjust="spacingAndGlyphs">SLC45A4 Expression Level (log2 TPM)</text>
<rect x="553.4" y="86.3" width="63.4" height="6.8" fill="#d9d9d9" stroke="#858585" stroke-width="0.8"/>
<text x="585.1" y="91.3" font-size="3.3" text-anchor="middle" fill="#222" stroke="#222" stroke-width="0.08">Purity</text>
<rect x="553.4" y="93.1" width="63.4" height="60.6" fill="#fff"/>
<line x1="570.95" y1="93.1" x2="570.95" y2="153.7" stroke="#f4f4f4" stroke-width="0.5"/>
<line x1="588.65" y1="93.1" x2="588.65" y2="153.7" stroke="#f4f4f4" stroke-width="0.5"/>
<line x1="606.35" y1="93.1" x2="606.35" y2="153.7" stroke="#f4f4f4" stroke-width="0.5"/>
<line x1="553.4" y1="153.4" x2="616.8" y2="153.4" stroke="#f4f4f4" stroke-width="0.5"/>
<line x1="553.4" y1="140.2" x2="616.8" y2="140.2" stroke="#f4f4f4" stroke-width="0.5"/>
<line x1="553.4" y1="127" x2="616.8" y2="127" stroke="#f4f4f4" stroke-width="0.5"/>
<line x1="553.4" y1="113.8" x2="616.8" y2="113.8" stroke="#f4f4f4" stroke-width="0.5"/>
<line x1="553.4" y1="100.6" x2="616.8" y2="100.6" stroke="#f4f4f4" stroke-width="0.5"/>
<line x1="562.1" y1="93.1" x2="562.1" y2="153.7" stroke="#ebebeb" stroke-width="0.7"/>
<line x1="579.8" y1="93.1" x2="579.8" y2="153.7" stroke="#ebebeb" stroke-width="0.7"/>
<line x1="597.5" y1="93.1" x2="597.5" y2="153.7" stroke="#ebebeb" stroke-width="0.7"/>
<line x1="615.2" y1="93.1" x2="615.2" y2="153.7" stroke="#ebebeb" stroke-width="0.7"/>
<line x1="553.4" y1="146.8" x2="616.8" y2="146.8" stroke="#ebebeb" stroke-width="0.7"/>
<line x1="553.4" y1="133.6" x2="616.8" y2="133.6" stroke="#ebebeb" stroke-width="0.7"/>
<line x1="553.4" y1="120.4" x2="616.8" y2="120.4" stroke="#ebebeb" stroke-width="0.7"/>
<line x1="553.4" y1="107.2" x2="616.8" y2="107.2" stroke="#ebebeb" stroke-width="0.7"/>
<line x1="553.4" y1="94" x2="616.8" y2="94" stroke="#ebebeb" stroke-width="0.7"/>
<polygon points="556.79,114.59 562.1,115.13 567.41,115.63 572.72,116.08 578.03,116.48 583.34,116.84 588.65,117.13 593.96,117.35 599.27,117.47 604.58,117.38 609.89,117.06 615.2,116.65 615.2,119.42 609.89,119.2 604.58,119.07 599.27,119.16 593.96,119.48 588.65,119.89 583.34,120.37 578.03,120.92 572.72,121.51 567.41,122.15 562.1,122.84 556.79,123.57" fill="#999999" fill-opacity="0.45"/>
<path d="M609.1 131.1L614.4 104.4L613.9 101.5L607.0 121.1L607.8 128.5L606.9 118.9L611.3 126.4L608.8 122.4L612.0 102.6L601.6 114.9L614.8 117.5L608.6 115.4L611.7 119.7L608.5 110.2L607.5 109.8L610.8 123.0L612.3 118.0L608.2 94.7L608.4 114.6L611.7 121.0L605.5 97.4L603.0 119.0L610.6 130.7L606.3 112.0L601.4 128.6L605.8 124.3L607.1 115.6L604.3 120.4L603.1 127.1L609.2 124.9L612.6 125.3L608.1 106.8L606.0 126.7L610.5 125.1L611.9 97.6L607.8 124.9L611.2 103.4L613.2 105.2L608.2 120.7L605.8 134.1L610.4 114.3L610.0 112.0L613.4 108.9L603.9 118.3L606.4 106.4L605.7 104.4L602.1 130.2L609.5 104.0L611.1 117.2L606.1 125.1L614.5 122.4L612.3 99.3L611.5 108.7L610.6 138.0L612.8 118.2L603.7 120.6L611.4 120.9L611.4 124.5L602.0 134.5L610.4 110.0L608.0 129.0L612.1 123.0L607.3 125.4L608.9 126.8L610.4 111.2L605.5 115.0L611.4 126.2L608.6 129.1L611.0 124.0L606.9 108.9L613.3 117.8L611.4 116.6L608.3 122.5L611.5 121.8L614.0 116.8L614.8 138.5L602.7 102.1L612.5 127.4L610.9 125.1L608.6 104.9L605.0 116.7L614.0 118.6L604.0 125.2L611.3 135.6L614.2 117.1L602.6 106.5L607.8 128.6L603.8 104.7L610.0 131.0L614.7 126.8L600.2 113.7L604.2 119.1L603.6 111.8L573.7 126.9L579.1 130.0L612.9 138.8L612.7 131.8L598.3 130.4L597.6 134.1L613.3 115.8L588.4 126.1L605.8 140.1L608.7 94.7L603.5 127.9L586.9 132.3L573.1 106.0L612.5 106.8L597.3 131.2L603.2 134.6L594.0 129.6L601.2 107.2L594.3 122.4L594.5 127.6L602.0 119.4L606.5 106.4L600.5 133.8L604.9 123.1L573.9 133.7L601.1 96.1L595.4 99.9L612.3 109.0L611.0 120.5L595.6 112.1L608.3 141.3L574.9 116.2L603.1 133.2L605.7 133.1L613.6 126.5L586.7 122.8L585.3 113.0L599.0 111.7L614.8 116.3L600.1 129.1L603.7 111.9L584.3 120.4L614.7 106.6L600.1 128.8L590.5 148.3L611.2 124.1L609.3 96.4L605.0 114.1L593.0 121.1L596.7 109.7L612.6 113.8L614.0 114.2L585.8 124.5L608.8 118.3L590.0 117.0L605.8 125.9L587.7 130.9L597.6 117.6L590.0 108.9L606.0 112.2L592.7 113.9L604.9 113.8L596.0 94.7L575.6 116.3L612.9 108.1L590.9 98.4L593.9 118.5L576.0 116.3L609.8 108.1L594.0 101.3L576.8 115.8L598.4 115.2L598.7 118.1L596.7 131.8L596.7 107.3L583.2 121.7L607.4 137.2L596.8 120.6L598.0 137.3L589.7 129.7L610.0 118.9L583.6 128.8L611.9 107.7L608.8 134.5L609.2 116.2L606.0 113.1L609.2 103.6L599.4 109.3L606.1 116.5L610.1 118.1L595.0 119.6L592.8 107.0L611.9 125.9L598.5 113.5L590.7 120.0L605.7 116.4L593.4 121.7L610.9 96.4L609.3 125.9L594.3 116.3L599.9 116.1L601.0 112.5L575.2 114.2L614.2 114.5L582.8 108.6L609.7 134.8L588.0 118.9L610.0 132.0L574.8 116.5L607.6 131.4L581.5 129.1L587.5 119.6L599.4 104.2L602.3 112.8L572.2 115.8L613.0 104.1L607.8 128.9L595.5 141.0L613.5 123.4L611.7 121.9L608.2 105.9L593.9 96.3L583.9 133.0L612.8 94.7L583.7 102.4L588.2 110.1L573.3 115.0L603.2 94.7L608.6 118.1L606.6 123.9L607.6 117.5L598.8 133.4L576.3 113.9L612.0 120.1L602.0 115.4L614.8 115.1L588.8 130.1L611.2 105.0L596.6 129.6L608.3 109.6L604.7 135.8L586.8 115.0" fill="none" stroke="none" marker-start="url(#m)" marker-mid="url(#m)" marker-end="url(#m)"/>
<line x1="556.79" y1="119.08" x2="615.2" y2="118.02" stroke="#4570e6" stroke-width="0.9"/>
<text x="616.3" y="96.7" font-size="3.1" text-anchor="end" fill="#ff2020" stroke="#ff2020" stroke-width="0.06">Rho = 0.038</text>
<text x="616.3" y="99.7" font-size="3.1" text-anchor="end" fill="#ff2020" stroke="#ff2020" stroke-width="0.06">p = 4.40e-01</text>
<rect x="553.4" y="93.1" width="63.4" height="60.6" fill="none" stroke="#858585" stroke-width="0.8"/>
<line x1="562.1" y1="153.7" x2="562.1" y2="154.7" stroke="#555" stroke-width="0.5"/>
<text x="562.1" y="159" font-size="3.6" text-anchor="middle" fill="#333" stroke="#333" stroke-width="0.1" textLength="4.38" lengthAdjust="spacingAndGlyphs">0.4</text>
<line x1="579.8" y1="153.7" x2="579.8" y2="154.7" stroke="#555" stroke-width="0.5"/>
<text x="579.8" y="159" font-size="3.6" text-anchor="middle" fill="#333" stroke="#333" stroke-width="0.1" textLength="4.38" lengthAdjust="spacingAndGlyphs">0.6</text>
<line x1="597.5" y1="153.7" x2="597.5" y2="154.7" stroke="#555" stroke-width="0.5"/>
<text x="597.5" y="159" font-size="3.6" text-anchor="middle" fill="#333" stroke="#333" stroke-width="0.1" textLength="4.38" lengthAdjust="spacingAndGlyphs">0.8</text>
<line x1="615.2" y1="153.7" x2="615.2" y2="154.7" stroke="#555" stroke-width="0.5"/>
<text x="615.2" y="159" font-size="3.6" text-anchor="middle" fill="#333" stroke="#333" stroke-width="0.1" textLength="4.38" lengthAdjust="spacingAndGlyphs">1.0</text>
<text x="582.4" y="163.4" font-size="4.6" text-anchor="middle" fill="#222" stroke="#222" stroke-width="0.08" textLength="10.61" lengthAdjust="spacingAndGlyphs">Purity</text>
<rect x="619.1" y="86.3" width="63.9" height="6.8" fill="#d9d9d9" stroke="#858585" stroke-width="0.8"/>
<svg x="619.6" y="86.3" width="62.9" height="6.8" overflow="hidden">
<text x="31.45" y="5" font-size="3.3" text-anchor="middle" fill="#222" stroke="#222" stroke-width="0.08">Cancer associated fibroblast_TIDE</text>
</svg>
<rect x="619.1" y="93.1" width="63.9" height="60.6" fill="#fff"/>
<line x1="636.15" y1="93.1" x2="636.15" y2="153.7" stroke="#f4f4f4" stroke-width="0.5"/>
<line x1="655.05" y1="93.1" x2="655.05" y2="153.7" stroke="#f4f4f4" stroke-width="0.5"/>
<line x1="674.45" y1="93.1" x2="674.45" y2="153.7" stroke="#f4f4f4" stroke-width="0.5"/>
<line x1="619.1" y1="153.4" x2="683" y2="153.4" stroke="#f4f4f4" stroke-width="0.5"/>
<line x1="619.1" y1="140.2" x2="683" y2="140.2" stroke="#f4f4f4" stroke-width="0.5"/>
<line x1="619.1" y1="127" x2="683" y2="127" stroke="#f4f4f4" stroke-width="0.5"/>
<line x1="619.1" y1="113.8" x2="683" y2="113.8" stroke="#f4f4f4" stroke-width="0.5"/>
<line x1="619.1" y1="100.6" x2="683" y2="100.6" stroke="#f4f4f4" stroke-width="0.5"/>
<line x1="626.7" y1="93.1" x2="626.7" y2="153.7" stroke="#ebebeb" stroke-width="0.7"/>
<line x1="645.6" y1="93.1" x2="645.6" y2="153.7" stroke="#ebebeb" stroke-width="0.7"/>
<line x1="665" y1="93.1" x2="665" y2="153.7" stroke="#ebebeb" stroke-width="0.7"/>
<line x1="619.1" y1="146.8" x2="683" y2="146.8" stroke="#ebebeb" stroke-width="0.7"/>
<line x1="619.1" y1="133.6" x2="683" y2="133.6" stroke="#ebebeb" stroke-width="0.7"/>
<line x1="619.1" y1="120.4" x2="683" y2="120.4" stroke="#ebebeb" stroke-width="0.7"/>
<line x1="619.1" y1="107.2" x2="683" y2="107.2" stroke="#ebebeb" stroke-width="0.7"/>
<line x1="619.1" y1="94" x2="683" y2="94" stroke="#ebebeb" stroke-width="0.7"/>
<polygon points="621.2,117.8 625.15,117.71 629.11,117.58 633.06,117.39 637.01,117.14 640.97,116.85 644.92,116.5 648.87,116.07 652.83,115.45 656.78,114.79 660.73,114.12 664.69,113.43 668.64,112.73 672.59,112.03 676.55,111.32 680.5,110.6 680.5,116.6 676.55,116.71 672.59,116.82 668.64,116.95 664.69,117.08 660.73,117.22 656.78,117.37 652.83,117.54 648.87,117.74 644.92,118.14 640.97,118.62 637.01,119.15 633.06,119.73 629.11,120.37 625.15,121.06 621.2,121.8" fill="#999999" fill-opacity="0.45"/>
<path d="M648.7 102.3L647.1 118.0L653.9 127.7L643.9 125.3L635.5 122.9L637.9 112.7L631.1 109.0L632.1 117.6L636.5 104.8L637.4 105.8L655.6 125.4L628.9 109.8L642.4 135.3L636.2 104.0L659.9 119.9L645.9 105.5L638.6 119.6L652.2 106.1L643.7 117.7L637.5 116.4L660.5 111.1L651.1 121.6L662.7 130.3L656.2 110.2L651.8 125.2L644.5 118.1L630.5 118.4L651.1 138.3L643.8 95.8L650.7 109.9L642.9 99.5L635.1 115.1L631.5 116.3L651.0 152.5L657.8 119.3L639.7 135.5L648.2 129.7L658.8 111.4L633.5 123.1L639.1 134.3L630.2 120.5L656.5 118.1L646.0 122.1L637.7 103.1L624.1 111.3L641.0 121.0L654.4 121.6L639.6 108.7L638.2 114.7L650.3 115.4L628.9 117.4L643.6 124.2L649.9 117.7L634.1 120.0L633.6 104.4L645.9 106.7L641.9 120.7L640.4 101.9L645.4 119.8L645.6 110.6L632.5 110.4L635.4 124.6L648.2 110.1L655.9 107.5L658.5 109.0L633.4 118.9L655.6 143.3L651.7 95.4L642.7 117.2L648.7 114.4L652.6 125.8L663.5 111.5L631.1 94.3L650.0 129.8L641.5 106.7L640.7 117.0L656.2 102.4L652.4 105.5L631.5 113.6L639.9 126.1L645.7 125.4L627.0 113.0L653.0 121.2L642.3 113.7L645.0 118.2L647.0 118.4L663.7 121.3L643.5 111.1L639.1 116.4L662.9 117.3L637.4 118.7L637.2 110.0L627.3 136.0L655.5 111.4L646.2 124.4L648.5 118.7L645.0 129.2L641.6 95.7L634.2 138.5L634.3 116.0L648.1 104.5L644.6 118.4L661.7 137.7L634.5 123.1L637.6 105.6L631.6 113.8L658.9 128.8L629.1 104.7L652.0 114.5L659.5 112.6L641.6 138.9L651.4 113.4L620.9 132.6L638.8 110.9L624.3 111.2L645.1 127.0L643.3 123.4L634.4 100.9L653.9 122.4L647.2 123.2L637.2 111.7L637.4 120.0L626.5 121.6L641.1 112.6L667.3 108.9L635.1 111.4L648.0 114.0L637.0 104.6L652.3 115.8L648.2 101.8L640.6 118.2L622.9 118.5L637.4 107.5L656.8 124.2L640.4 136.7L650.4 129.6L637.7 104.2L622.0 132.0L648.1 118.8L646.9 116.3L636.6 111.9L639.0 117.5L646.5 130.6L636.5 123.3L647.2 112.6L640.9 110.8L620.9 115.4L641.6 123.2L636.4 136.4L633.7 107.7L647.8 116.7L637.7 113.9L649.4 109.0L655.7 119.8L644.9 122.5L625.6 104.9L634.9 107.7L653.6 127.9L640.3 120.6L634.1 123.3L642.2 112.3L649.0 112.8L646.2 121.4L650.6 111.5L633.9 107.1L640.1 117.5L640.4 126.4L643.0 107.0L620.9 130.0L640.6 124.4L628.0 110.2L659.1 115.6L661.0 114.9L662.4 121.4L652.5 122.8L637.8 104.8L654.2 102.7L641.0 127.6L650.2 117.5L633.0 122.4L636.6 121.2L648.6 131.8L663.4 103.1L643.0 128.0L668.9 106.4L674.6 121.1L628.7 131.9L643.0 103.5L632.5 122.3L641.7 114.6L637.2 114.9L642.5 117.6L654.3 105.6L654.0 106.5L646.3 123.3L643.3 125.5L644.7 111.4L644.8 102.6L649.8 139.4L643.4 128.0L649.0 120.1L628.4 108.5L652.3 110.4L663.2 117.5L645.4 107.4L627.3 134.7L658.7 116.9L639.6 121.4L620.9 109.3L640.9 108.4L650.2 108.6L647.7 119.4L657.4 113.0L650.4 113.6L644.8 120.1L620.9 121.7L630.7 133.1L645.4 115.0L651.1 106.3L631.7 118.3L636.4 132.3L648.7 111.1L621.6 119.9L621.2 115.9L640.7 121.4L646.2 119.4L637.9 109.7L620.9 117.2L643.6 126.4L628.2 129.5L650.8 125.5L642.2 125.8L646.4 113.6L650.7 112.8L637.4 126.9L652.8 104.6L657.5 115.1L647.9 98.4L658.5 111.8L636.2 111.0L653.8 104.2L646.4 122.5L632.1 111.1L642.5 113.6L637.3 115.3L637.1 110.6L644.4 131.0L655.5 111.0L639.8 119.5L644.8 104.2" fill="none" stroke="none" marker-start="url(#m)" marker-mid="url(#m)" marker-end="url(#m)"/>
<line x1="621.2" y1="119.8" x2="680.5" y2="113.6" stroke="#4570e6" stroke-width="0.9"/>
<text x="682.5" y="96.7" font-size="3.1" text-anchor="end" fill="#ff2020" stroke="#ff2020" stroke-width="0.06">Rho = 0.146</text>
<text x="682.5" y="99.7" font-size="3.1" text-anchor="end" fill="#ff2020" stroke="#ff2020" stroke-width="0.06">p = 3.90e-03</text>
<rect x="619.1" y="93.1" width="63.9" height="60.6" fill="none" stroke="#858585" stroke-width="0.8"/>
<line x1="626.7" y1="153.7" x2="626.7" y2="154.7" stroke="#555" stroke-width="0.5"/>
<text x="626.7" y="159" font-size="3.6" text-anchor="middle" fill="#333" stroke="#333" stroke-width="0.1" textLength="5.43" lengthAdjust="spacingAndGlyphs">-0.2</text>
<line x1="645.6" y1="153.7" x2="645.6" y2="154.7" stroke="#555" stroke-width="0.5"/>
<text x="645.6" y="159" font-size="3.6" text-anchor="middle" fill="#333" stroke="#333" stroke-width="0.1" textLength="4.38" lengthAdjust="spacingAndGlyphs">0.0</text>
<line x1="665" y1="153.7" x2="665" y2="154.7" stroke="#555" stroke-width="0.5"/>
<text x="665" y="159" font-size="3.6" text-anchor="middle" fill="#333" stroke="#333" stroke-width="0.1" textLength="4.38" lengthAdjust="spacingAndGlyphs">0.2</text>
<text x="649.45" y="163.3" font-size="4.6" text-anchor="middle" fill="#222" stroke="#222" stroke-width="0.08" textLength="29.07" lengthAdjust="spacingAndGlyphs">Infiltration Level</text>
<text x="161.3" y="187" font-size="12.3" text-anchor="middle" fill="#111" style="font-family:Liberation Serif" stroke="#111" stroke-width="0.12">(a)</text>
<text x="161.6" y="390.2" font-size="12.3" text-anchor="middle" fill="#111" style="font-family:Liberation Serif" stroke="#111" stroke-width="0.12">(b)</text>
<text x="527" y="187" font-size="12.3" text-anchor="middle" fill="#111" style="font-family:Liberation Serif" stroke="#111" stroke-width="0.12">(c)</text>
<text x="527.1" y="390.2" font-size="12.3" text-anchor="middle" fill="#111" style="font-family:Liberation Serif" stroke="#111" stroke-width="0.12">(d)</text>
<line x1="376.4" y1="353.9" x2="643.6" y2="353.9" stroke="#ececec" stroke-width="0.7"/>
<text x="375.2" y="355.4" font-size="4.1" text-anchor="end" fill="#333" stroke="#333" stroke-width="0.06">0</text>
<line x1="376.4" y1="324.3" x2="643.6" y2="324.3" stroke="#ececec" stroke-width="0.7"/>
<text x="375.2" y="325.8" font-size="4.1" text-anchor="end" fill="#333" stroke="#333" stroke-width="0.06">0.05</text>
<line x1="376.4" y1="294.7" x2="643.6" y2="294.7" stroke="#ececec" stroke-width="0.7"/>
<text x="375.2" y="296.2" font-size="4.1" text-anchor="end" fill="#333" stroke="#333" stroke-width="0.06">0.1</text>
<line x1="376.4" y1="265.1" x2="643.6" y2="265.1" stroke="#ececec" stroke-width="0.7"/>
<text x="375.2" y="266.6" font-size="4.1" text-anchor="end" fill="#333" stroke="#333" stroke-width="0.06">0.15</text>
<text x="361.4" y="310" font-size="4.95" text-anchor="middle" fill="#333" transform="rotate(-90 361.4 310)" stroke="#333" stroke-width="0.06">log(TPM+1) of SLC45A4</text>
<line x1="405.5" y1="311" x2="405.5" y2="327.2" stroke="#3d78b5" stroke-width="1.0"/>
<line x1="405.5" y1="339.6" x2="405.5" y2="353.9" stroke="#3d78b5" stroke-width="1.0"/>
<line x1="400.2" y1="311" x2="410.8" y2="311" stroke="#3d78b5" stroke-width="1.0"/>
<line x1="400.2" y1="353.9" x2="410.8" y2="353.9" stroke="#3d78b5" stroke-width="1.0"/>
<rect x="394.4" y="327.2" width="22.2" height="12.4" fill="#9dbcdc" stroke="#3d78b5" stroke-width="1.0"/>
<line x1="394.4" y1="333.9" x2="416.6" y2="333.9" stroke="#3d78b5" stroke-width="1.0"/>
<circle cx="405.5" cy="289.4" r="1.0" fill="#3d78b5"/>
<circle cx="405.5" cy="300.4" r="1.0" fill="#3d78b5"/>
<circle cx="405.5" cy="304.1" r="1.0" fill="#3d78b5"/>
<circle cx="405.5" cy="307.8" r="1.0" fill="#3d78b5"/>
<line x1="436.5" y1="289.4" x2="436.5" y2="308.3" stroke="#f08a3c" stroke-width="1.0"/>
<line x1="436.5" y1="321" x2="436.5" y2="331.2" stroke="#f08a3c" stroke-width="1.0"/>
<line x1="431.2" y1="289.4" x2="441.8" y2="289.4" stroke="#f08a3c" stroke-width="1.0"/>
<line x1="431.2" y1="331.2" x2="441.8" y2="331.2" stroke="#f08a3c" stroke-width="1.0"/>
<rect x="425.5" y="308.3" width="22" height="12.7" fill="#f7c29a" stroke="#f08a3c" stroke-width="1.0"/>
<line x1="425.5" y1="314.9" x2="447.5" y2="314.9" stroke="#f08a3c" stroke-width="1.0"/>
<circle cx="436.5" cy="279.2" r="1.0" fill="#f08a3c"/>
<circle cx="436.5" cy="284.7" r="1.0" fill="#f08a3c"/>
<circle cx="436.5" cy="286.3" r="1.0" fill="#f08a3c"/>
<line x1="493.9" y1="351.83" x2="493.9" y2="352.95" stroke="#3d78b5" stroke-width="1.0"/>
<line x1="493.9" y1="353.72" x2="493.9" y2="353.9" stroke="#3d78b5" stroke-width="1.0"/>
<line x1="488.9" y1="351.83" x2="498.9" y2="351.83" stroke="#3d78b5" stroke-width="1.0"/>
<line x1="488.9" y1="353.9" x2="498.9" y2="353.9" stroke="#3d78b5" stroke-width="1.0"/>
<rect x="482.9" y="352.95" width="22" height="0.8" fill="#9dbcdc" stroke="#3d78b5" stroke-width="1.0"/>
<line x1="482.9" y1="353.43" x2="504.9" y2="353.43" stroke="#3d78b5" stroke-width="1.0"/>
<circle cx="493.9" cy="341.8" r="1.0" fill="#3d78b5"/>
<circle cx="493.9" cy="345.8" r="1.0" fill="#3d78b5"/>
<circle cx="493.9" cy="348.1" r="1.0" fill="#3d78b5"/>
<circle cx="493.9" cy="349.6" r="1.0" fill="#3d78b5"/>
<circle cx="493.9" cy="350.8" r="1.0" fill="#3d78b5"/>
<line x1="524.9" y1="351.83" x2="524.9" y2="352.83" stroke="#f08a3c" stroke-width="1.0"/>
<line x1="524.9" y1="353.6" x2="524.9" y2="353.9" stroke="#f08a3c" stroke-width="1.0"/>
<line x1="519.9" y1="351.83" x2="529.9" y2="351.83" stroke="#f08a3c" stroke-width="1.0"/>
<line x1="519.9" y1="353.9" x2="529.9" y2="353.9" stroke="#f08a3c" stroke-width="1.0"/>
<rect x="513.7" y="352.83" width="22.4" height="0.8" fill="#f7c29a" stroke="#f08a3c" stroke-width="1.0"/>
<line x1="513.7" y1="353.19" x2="536.1" y2="353.19" stroke="#f08a3c" stroke-width="1.0"/>
<circle cx="524.9" cy="350.3" r="1.0" fill="#f08a3c"/>
<line x1="582.6" y1="339.5" x2="582.6" y2="346" stroke="#3d78b5" stroke-width="1.0"/>
<line x1="582.6" y1="352.2" x2="582.6" y2="354" stroke="#3d78b5" stroke-width="1.0"/>
<line x1="577.3" y1="339.5" x2="587.9" y2="339.5" stroke="#3d78b5" stroke-width="1.0"/>
<line x1="577.3" y1="354" x2="587.9" y2="354" stroke="#3d78b5" stroke-width="1.0"/>
<rect x="571.1" y="346" width="23" height="6.2" fill="#9dbcdc" stroke="#3d78b5" stroke-width="1.0"/>
<line x1="571.1" y1="349.4" x2="594.1" y2="349.4" stroke="#3d78b5" stroke-width="1.0"/>
<circle cx="582.6" cy="315.4" r="1.0" fill="#3d78b5"/>
<circle cx="582.6" cy="319.7" r="1.0" fill="#3d78b5"/>
<circle cx="582.6" cy="323.5" r="1.0" fill="#3d78b5"/>
<circle cx="582.6" cy="325.2" r="1.0" fill="#3d78b5"/>
<circle cx="582.6" cy="329.5" r="1.0" fill="#3d78b5"/>
<circle cx="582.6" cy="331" r="1.0" fill="#3d78b5"/>
<circle cx="582.6" cy="332.5" r="1.0" fill="#3d78b5"/>
<circle cx="582.6" cy="334" r="1.0" fill="#3d78b5"/>
<circle cx="582.6" cy="335.3" r="1.0" fill="#3d78b5"/>
<circle cx="582.6" cy="336.5" r="1.0" fill="#3d78b5"/>
<circle cx="582.6" cy="337.8" r="1.0" fill="#3d78b5"/>
<line x1="613.5" y1="350.2" x2="613.5" y2="351.6" stroke="#f08a3c" stroke-width="1.0"/>
<line x1="613.5" y1="353.2" x2="613.5" y2="353.4" stroke="#f08a3c" stroke-width="1.0"/>
<line x1="609.3" y1="350.2" x2="617.7" y2="350.2" stroke="#f08a3c" stroke-width="1.0"/>
<line x1="609.3" y1="353.4" x2="617.7" y2="353.4" stroke="#f08a3c" stroke-width="1.0"/>
<rect x="602.3" y="351.6" width="22.4" height="1.6" fill="#f7c29a" stroke="#f08a3c" stroke-width="1.0"/>
<line x1="602.3" y1="352.6" x2="624.7" y2="352.6" stroke="#f08a3c" stroke-width="1.0"/>
<circle cx="613.5" cy="344.5" r="1.0" fill="#f08a3c"/>
<circle cx="613.5" cy="346.3" r="1.0" fill="#f08a3c"/>
<circle cx="613.5" cy="348" r="1.0" fill="#f08a3c"/>
<text x="421.9" y="264.7" font-size="4.1" text-anchor="middle" fill="#333" stroke="#333" stroke-width="0.06">F=241.40</text>
<text x="421.9" y="270.3" font-size="4.1" text-anchor="middle" fill="#333" stroke="#333" stroke-width="0.06">p&lt;1e-15</text>
<text x="421" y="361.7" font-size="4.2" text-anchor="middle" fill="#333" stroke="#333" stroke-width="0.06">CD4_Tcells</text>
<text x="510.4" y="264.7" font-size="4.1" text-anchor="middle" fill="#333" stroke="#333" stroke-width="0.06">F=29.35</text>
<text x="510.4" y="270.3" font-size="4.1" text-anchor="middle" fill="#333" stroke="#333" stroke-width="0.06">p=9.32e-8</text>
<text x="509.5" y="361.7" font-size="4.2" text-anchor="middle" fill="#333" stroke="#333" stroke-width="0.06">CD8_Tcells</text>
<text x="599.4" y="264.7" font-size="4.1" text-anchor="middle" fill="#333" stroke="#333" stroke-width="0.06">F=50.03</text>
<text x="599.4" y="270.3" font-size="4.1" text-anchor="middle" fill="#333" stroke="#333" stroke-width="0.06">p=4.99e-12</text>
<text x="598.5" y="361.7" font-size="4.2" text-anchor="middle" fill="#333" stroke="#333" stroke-width="0.06">Macrophages</text>
<rect x="653.6" y="264" width="5.2" height="4.8" fill="#9dbcdc" stroke="#3d78b5" stroke-width="0.9"/>
<rect x="653.6" y="271" width="5.2" height="4.8" fill="#f7c29a" stroke="#f08a3c" stroke-width="0.9"/>
<text x="663.3" y="268.6" font-size="4.5" text-anchor="start" fill="#333" stroke="#333" stroke-width="0.06">OV Tumor</text>
<text x="663.3" y="275" font-size="4.5" text-anchor="start" fill="#333" stroke="#333" stroke-width="0.06">Ovary</text>
</svg>
</body></html>
